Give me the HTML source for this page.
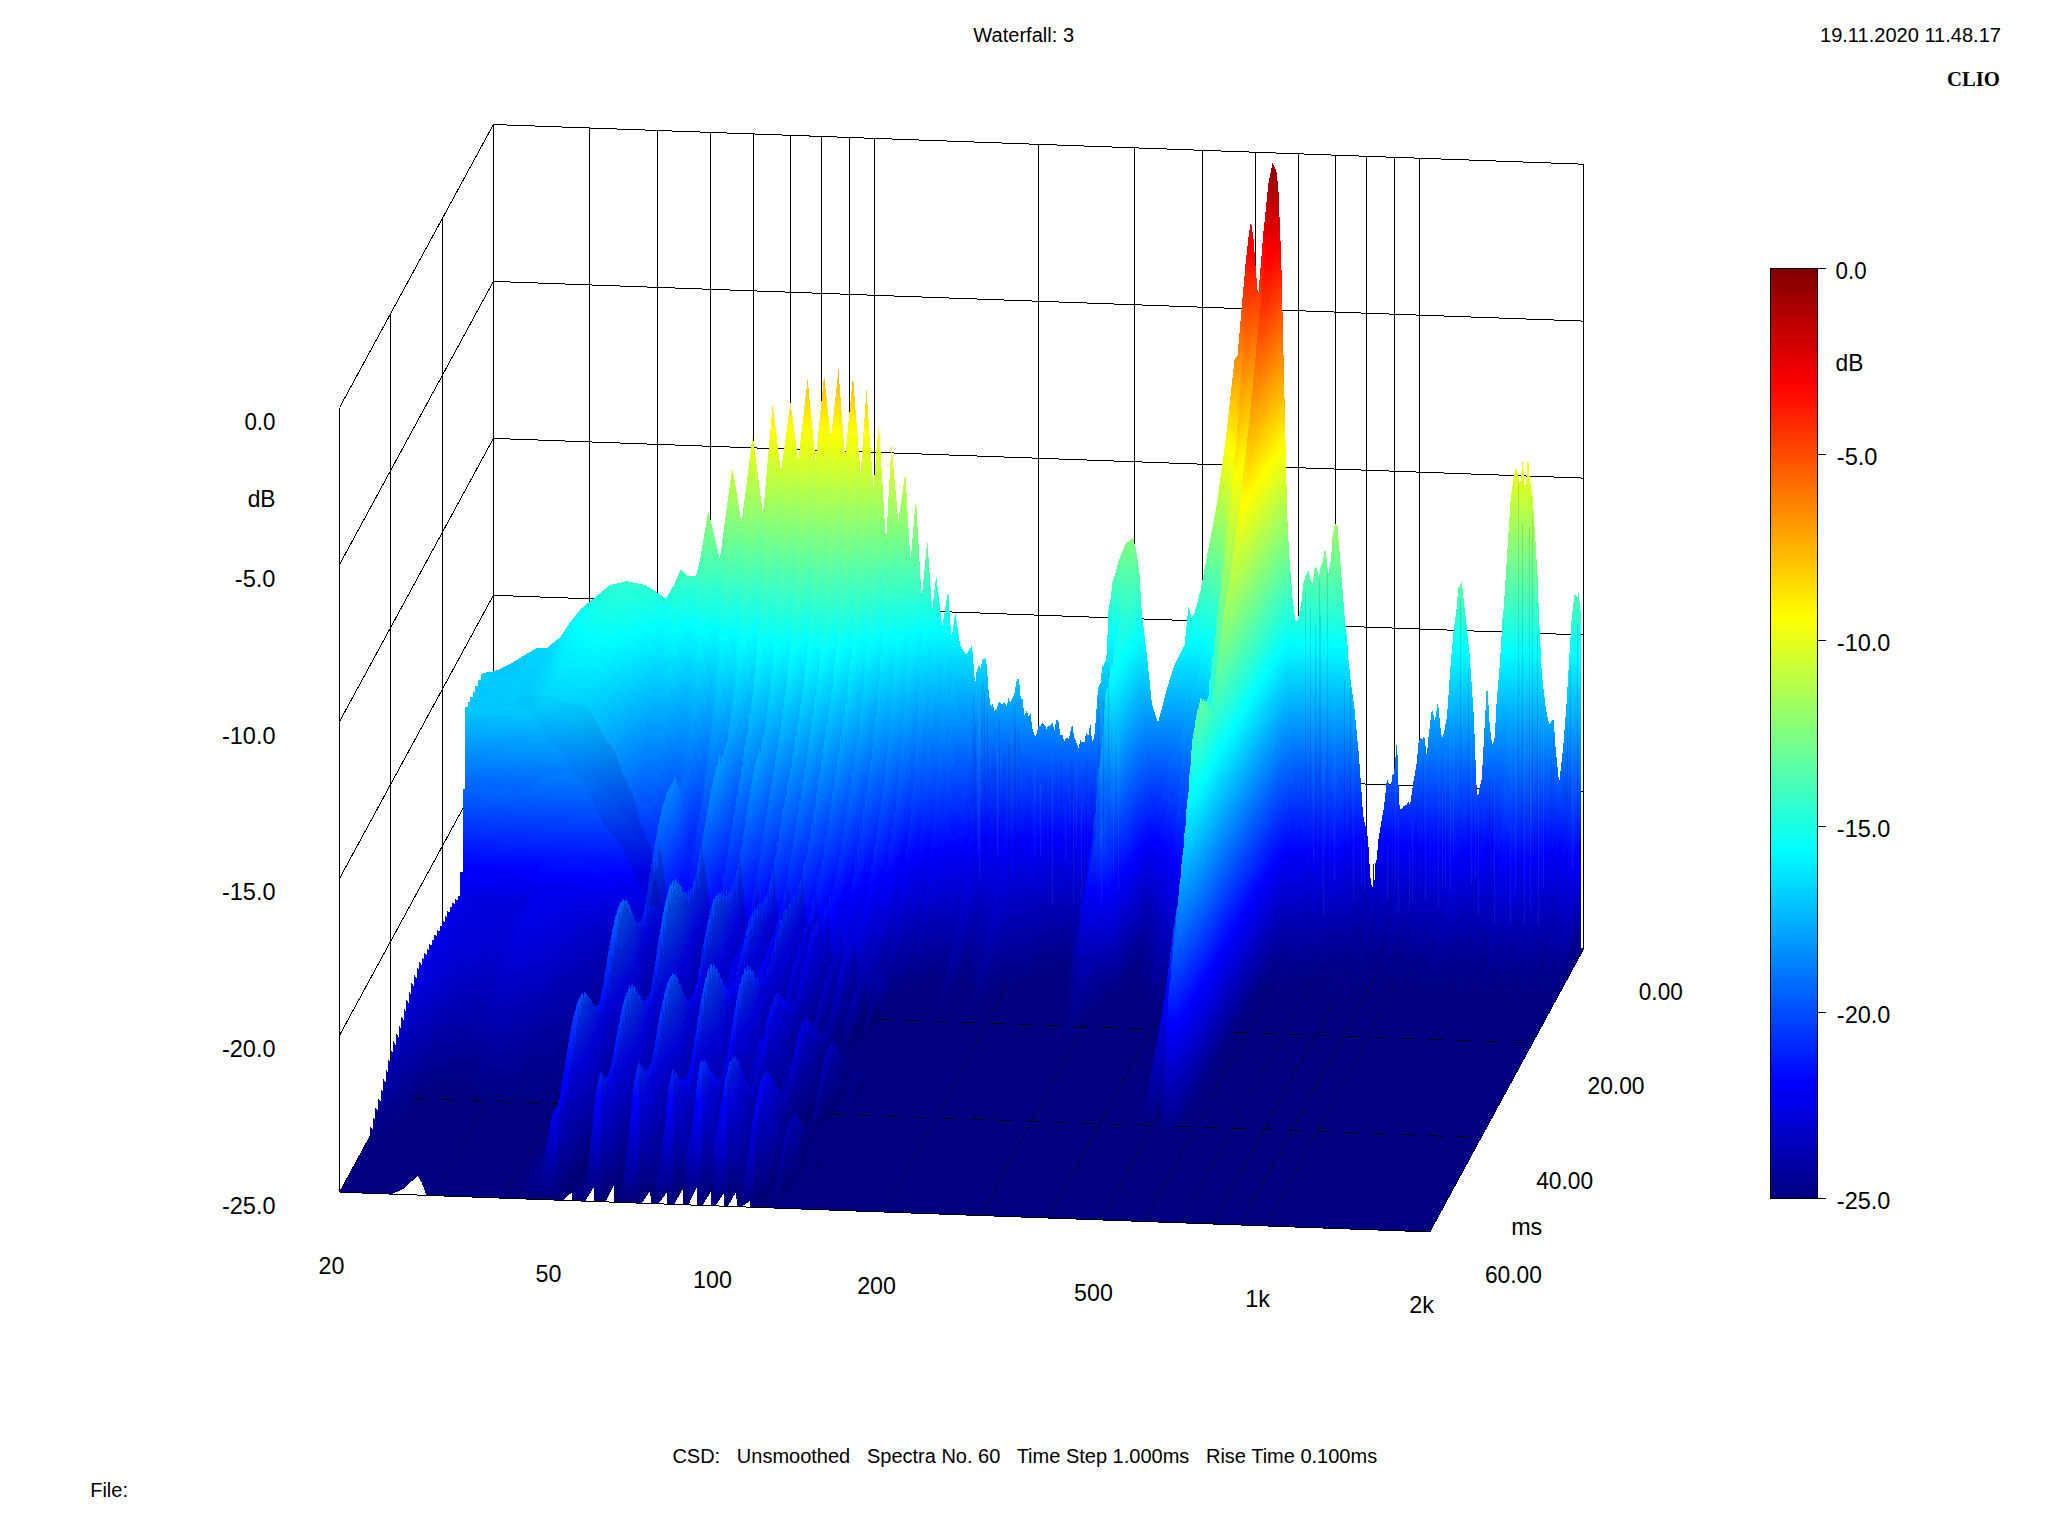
<!DOCTYPE html>
<html lang="en"><head><meta charset="utf-8"><title>Waterfall: 3</title>
<style>html,body{margin:0;padding:0;background:#fff;overflow:hidden}svg{display:block}.s{font-family:"Liberation Sans",sans-serif;font-size:20px;fill:#000}.a{font-family:"Liberation Sans",sans-serif;font-size:24px;fill:#000}.c{font-family:"Liberation Serif",serif;font-weight:bold;font-size:20.5px;fill:#000}.g line,.g path,.g polyline{stroke:#000;stroke-width:1;fill:none;shape-rendering:crispEdges}</style></head><body>
<svg width="2048" height="1536" viewBox="0 0 2048 1536">
<rect width="2048" height="1536" fill="#fff"/>
<defs>
<linearGradient id="j" gradientUnits="userSpaceOnUse" x1="0" y1="0" x2="28.54" y2="-783.71"><stop offset="0.000" stop-color="#000080"/><stop offset="0.125" stop-color="#0000ff"/><stop offset="0.375" stop-color="#00ffff"/><stop offset="0.625" stop-color="#ffff00"/><stop offset="0.875" stop-color="#ff0000"/><stop offset="1.000" stop-color="#800000"/></linearGradient>
<linearGradient id="cb" x1="0" y1="1" x2="0" y2="0"><stop offset="0.000" stop-color="#000080"/><stop offset="0.125" stop-color="#0000ff"/><stop offset="0.375" stop-color="#00ffff"/><stop offset="0.625" stop-color="#ffff00"/><stop offset="0.875" stop-color="#ff0000"/><stop offset="1.000" stop-color="#800000"/></linearGradient>
</defs>
<g class="g">
<path d="M493.4,124.5L493.4,909.2M589.4,127.9L589.4,912.7M657.5,130.4L657.5,915.2M710.3,132.3L710.3,917.1M753.5,133.9L753.5,918.7M790.0,135.2L790.0,920.0M821.6,136.4L821.6,921.2M849.5,137.4L849.5,922.2M874.4,138.3L874.4,923.1M1038.5,144.3L1038.5,929.1M1134.5,147.8L1134.5,932.5M1202.6,150.3L1202.6,935.0M1255.4,152.2L1255.4,936.9M1298.6,153.8L1298.6,938.5M1335.1,155.1L1335.1,939.8M1366.7,156.3L1366.7,941.0M1394.6,157.3L1394.6,942.0M1419.5,158.2L1419.5,942.9M1583.6,164.2L1583.6,948.9M493.4,124.5L1583.6,164.2M493.4,281.4L1583.6,321.1M493.4,438.4L1583.6,478.1M493.4,595.3L1583.6,635.0M493.4,752.2L1583.6,792.0M493.4,909.2L1583.6,948.9M442.1,218.8L442.1,1003.5M390.9,313.1L390.9,1097.9M339.6,407.5L339.6,1192.2M493.4,124.5L339.6,407.5M493.4,281.4L339.6,564.4M493.4,438.4L339.6,721.4M493.4,595.3L339.6,878.3M493.4,752.2L339.6,1035.2M493.4,909.2L339.6,1192.2M339.6,1192.2L1429.8,1231.9L1583.6,948.9"/>
</g>
<path d="M493.4,909.2L1583.6,948.9L1429.8,1231.9L339.6,1192.2Z" fill="#000080" shape-rendering="crispEdges"/>
<g shape-rendering="crispEdges" fill="url(#j)">
<path transform="translate(493.40,909.20)" d="M0,0L0,-236.7L19,-246.6L43.9,-261.6L52.9,-260.7L66.8,-272L76.8,-286.9L87.8,-300.6L116.7,-324.2L133.6,-328.1L151.6,-324.2L163.6,-317L172.5,-310.5L180.5,-324.1L187.5,-340.3L194.5,-333.2L202.5,-333.2L206.5,-348.6L214.4,-396.2L215.4,-396.7L226.4,-350L238.4,-438.6L239.4,-439.7L247.4,-390.1L248.3,-387.4L259.3,-474.6L269.3,-396.6L270.3,-402.1L279.3,-505.4L287.2,-440.2L288.2,-441.9L297.2,-506.8L304.2,-452.6L305.2,-451.5L314.2,-530.1L322.2,-448.4L330.1,-527.9L331.1,-529.9L337.1,-475.6L338.1,-476L345.1,-538.8L351.1,-457.9L352.1,-455.7L359.1,-528.2L360.1,-525.8L367,-437.5L368,-445.2L373,-519.9L380,-420.5L385,-481.9L386,-477.1L392,-376.7L393,-373.1L398,-464.8L404.9,-387.9L411.9,-436.7L416.9,-350.8L417.9,-356.9L421.9,-404.8L422.9,-405.1L427.9,-316L428.9,-317.2L433.9,-369.2L438.8,-298.3L442.8,-334.4L448.8,-282.6L454.8,-318.9L457.8,-273.7L458.8,-274.5L461.8,-297.2L466.8,-263.9L472.8,-254.4L478.7,-264.2L481.7,-223.8L482.7,-235.5L483.7,-239.8L484.7,-241.1L485.7,-245L486.7,-241.1L487.7,-242.5L488.7,-248.3L490.7,-251.1L491.7,-251.5L492.7,-248.4L493.7,-240.7L494.7,-222.8L496.7,-206.9L497.7,-201.5L498.7,-206.1L499.7,-204.9L500.7,-197.9L501.7,-199.7L502.7,-199.4L503.7,-201.2L504.7,-205.7L505.7,-207.6L509.7,-204.4L510.7,-207.9L511.7,-207.3L512.7,-203.2L513.7,-202.6L514.6,-209.9L515.6,-212.1L516.6,-205.5L521.6,-217L522.6,-227.5L524.6,-231L525.6,-230.1L527.6,-207.2L528.6,-212.5L529.6,-208L530.6,-195L531.6,-193.4L532.6,-199.1L535.6,-192.5L536.6,-196.3L537.6,-193.5L538.6,-182L541.6,-172.8L543.6,-175.9L544.6,-183L545.6,-184L546.6,-182.5L549.6,-187.1L550.6,-183.9L551.6,-184.9L552.6,-180.8L553.5,-180.6L554.5,-182.8L555.5,-182.7L556.5,-184.3L557.5,-184.2L558.5,-186.6L559.5,-186.5L560.5,-179.3L561.5,-179.2L562.5,-189.6L563.5,-189.5L564.5,-188.5L565.5,-186.2L566.5,-175.8L567.5,-173.5L568.5,-175.2L569.5,-173L570.5,-167.8L571.5,-167.9L572.5,-171.5L573.5,-171.8L574.5,-170.2L575.5,-170.5L578.5,-184.2L579.5,-182.7L580.5,-172.7L585.5,-160.5L586.5,-168.4L587.5,-170.1L588.5,-166L589.5,-167.7L590.5,-166.4L591.4,-168.2L592.4,-175.4L593.4,-175.9L594.4,-173.6L595.4,-174.1L596.4,-183.7L597.4,-183.9L598.4,-169.5L599.4,-167.5L601.4,-176.2L604.4,-217.8L605.4,-223.9L606.4,-223.8L607.4,-227.5L608.4,-240.1L609.4,-243.8L610.4,-243.4L611.4,-247.9L612.4,-247.9L613.4,-256.8L615.4,-306.3L616.4,-304.4L619.4,-329.1L620.4,-330.2L625.4,-348.8L631.3,-363.5L632.3,-365.2L639.3,-371.3L642.3,-361.8L646.3,-334.1L648.3,-296.4L652.3,-265.3L658.3,-207.9L659.3,-202.3L664.3,-188.2L665.3,-188.5L673.2,-219.8L681.2,-244.3L691.2,-264.8L695.2,-303L698.2,-291.3L701.2,-296.4L707.1,-318.5L723.1,-403.3L732.1,-467.8L741.1,-549.5L742.1,-551.3L744,-552.6L752,-643.7L755,-671.3L757,-684.8L758,-684.7L760,-672.1L764,-619.1L765,-615.4L770,-676.7L775,-725.3L779,-745.9L782.9,-738.7L784.9,-722.1L787.9,-648.7L793.9,-391.9L795.9,-353L798.9,-313.3L800.9,-296.4L801.9,-289.9L802.9,-287.9L803.9,-287.8L807.9,-306.7L809.9,-325.1L811.9,-332.2L814.9,-339.5L817.9,-327.4L818.9,-325.2L819.8,-328.2L820.8,-339.4L821.8,-342.4L822.8,-340.9L823.8,-340.5L824.8,-333L825.8,-332.6L826.8,-340.5L827.8,-344.7L828.8,-345.8L831.8,-361.4L834.8,-334.9L837.8,-351.1L838.8,-370.4L839.8,-376.3L841.8,-385.6L842.8,-382.9L843.8,-387.3L851.8,-285.6L853.8,-269.9L854.8,-252.7L857.7,-224.8L860.7,-204.3L865.7,-151.6L869.7,-93.9L871.7,-83.8L872.7,-82.2L873.7,-77.2L874.7,-68.5L876.7,-35.8L877.7,-25.3L878.7,-23L879.7,-21.8L881.7,-21.6L884.7,-68L890.7,-103.1L893.7,-131.2L895.6,-123.8L896.6,-124.8L897.6,-122.6L898.6,-131.9L899.6,-136.2L900.6,-134L903.6,-169.9L905.6,-109.5L906.6,-99.6L908.6,-100.9L910.6,-103.6L911.6,-103.2L912.6,-105.4L913.6,-103.7L914.6,-107.8L916.6,-103.9L919.6,-125.1L923.6,-147.8L924.6,-162.8L925.6,-169.4L926.6,-169.9L927.6,-172L928.6,-169.2L930.6,-173.4L931.6,-169L932.6,-157.4L933.6,-153L934.5,-166.5L938.5,-200.7L941.5,-187.9L944.5,-207.5L947.5,-177.6L948.5,-171.3L949.5,-173.2L951.5,-180.6L952.5,-188.3L953.5,-191.3L957.5,-248.7L960.5,-281.2L963.5,-302.4L964.5,-317.7L965.5,-324.5L966.5,-321.4L967.5,-328.2L968.5,-326.3L976.4,-253.3L980.4,-193.4L983.4,-117.3L984.4,-113.1L985.4,-115.6L986.4,-122.9L988.4,-130.5L993.4,-223.5L994.4,-215.6L996.4,-182.7L998.4,-167.1L999.4,-163.8L1001.4,-172.4L1003.4,-210.4L1006.4,-244.1L1009.4,-295.8L1010.3,-300.4L1017.3,-411.1L1020.3,-431.9L1022.3,-440L1023.3,-441.1L1026.3,-426.7L1027.3,-429.1L1029.3,-450.4L1031.3,-421.9L1032.3,-425L1033.3,-432.5L1034.3,-449.9L1035.3,-444.9L1036.3,-431.1L1039.3,-412.1L1044.3,-331.8L1045.3,-300.6L1048.2,-239.8L1049.2,-228.4L1052.2,-202.2L1054.2,-191.3L1056.2,-185L1059.2,-189.4L1060.2,-189.6L1062.2,-161.3L1065.2,-130.8L1066.2,-129.1L1070.2,-166.6L1073.2,-206.9L1078.2,-290.8L1081.2,-315.3L1084.2,-311.7L1085.2,-317.1L1087.1,-299.1L1087.1,39.6Z"/>
<path transform="translate(490.84,913.92)" d="M0,0L0,-241.4L19.9,-249.1L32.9,-255L43.9,-261.2L52.9,-260L66.8,-270.8L76.8,-285.3L87.8,-298L116.7,-318.9L133.6,-320.9L151.6,-314.2L164.6,-304.3L172.5,-296.1L180.5,-306.3L187.5,-319.7L190.5,-315.5L194.5,-308.2L202.5,-302.2L206.5,-313.6L214.4,-350.5L215.4,-350.5L226.4,-303.3L238.4,-385.2L239.4,-386.2L247.4,-338L248.3,-335.4L259.3,-420.4L269.3,-340.9L270.3,-346L279.3,-447.4L287.2,-380.5L288.2,-382L297.2,-447.4L304.2,-390.6L305.2,-389.1L314.2,-468.4L322.2,-383L330.1,-465L331.1,-467L337.1,-410.7L338.1,-411L345.1,-475.7L351.1,-392.9L352.1,-390.6L359.1,-465.3L360.1,-462.9L367,-373.1L368,-380.9L373,-457L380,-357L385,-419.2L386,-414.4L392,-313.1L393,-309.6L398,-401.9L404.9,-323L411.9,-374.3L416.9,-288.8L417.9,-294.8L421.9,-342.7L422.9,-342.9L427.9,-253.2L428.9,-254.5L433.9,-307.8L438.8,-238.4L442.8,-274.7L448.8,-215.4L452.8,-246.7L453.8,-253.3L454.8,-256.2L457.8,-215.1L458.8,-217.1L461.8,-236.1L462.8,-236L466.8,-202.6L467.8,-200.5L468.8,-201.2L469.8,-199.6L470.8,-195.4L471.8,-194L472.8,-194.2L473.8,-196.3L474.8,-190.1L475.8,-192L476.7,-200.3L477.7,-202.2L478.7,-201.2L482.7,-149.5L483.7,-152.2L484.7,-176.7L485.7,-179.9L487.7,-182.9L488.7,-191.5L489.7,-193L490.7,-168.4L491.7,-168.5L492.7,-182.3L493.7,-174.6L494.7,-158.1L497.7,-134.6L498.7,-116.3L499.7,-114.9L500.7,-128.5L501.7,-130.3L502.7,-140.1L503.7,-142L504.7,-126.5L505.7,-128.4L506.7,-162.8L507.7,-162.3L508.7,-157.3L509.7,-156.8L510.7,-162.8L511.7,-162.3L512.7,-139.2L513.7,-138.7L514.6,-130.5L515.6,-132.8L516.6,-151.8L517.6,-154.1L518.6,-152.5L519.6,-154.9L520.6,-183L521.6,-185.4L522.6,-166.7L523.6,-169.1L524.6,-158.2L525.6,-157.4L526.6,-167.7L529.6,-150.8L530.6,-137.5L531.6,-136L532.6,-125.4L533.6,-123.9L534.6,-135.9L535.6,-134.4L536.6,-128.4L537.6,-125.7L538.6,-130.2L539.6,-127.5L540.6,-116.5L541.6,-113.8L542.6,-130.4L545.6,-132.6L546.6,-119.7L547.6,-120.5L548.6,-131.3L549.6,-132.1L550.6,-129.1L551.6,-129.8L552.6,-116.3L553.5,-116L554.5,-122.9L555.5,-122.5L556.5,-99.1L557.5,-98.7L558.5,-126.7L559.5,-126.4L560.5,-124.7L561.5,-124.3L562.5,-101.8L563.5,-101.4L564.5,-104.3L565.5,-101.8L566.5,-108.9L567.5,-106.4L568.5,-118.6L569.5,-116.1L570.5,-108.9L571.5,-108.8L572.5,-110.8L573.5,-110.9L574.5,-85.4L575.5,-85.6L577.5,-93.7L578.5,-125.7L579.5,-124.1L580.5,-115.9L582.5,-110.6L583.5,-108L584.5,-109.8L585.5,-107.3L586.5,-86.6L587.5,-88.1L588.5,-100.5L589.5,-102L590.5,-111.2L591.4,-112.7L592.4,-126.4L593.4,-126.7L594.4,-93.7L595.4,-94L596.4,-114.9L597.4,-114.9L598.4,-102.8L599.4,-100.6L601.4,-108.7L603.4,-135.3L604.4,-129.9L605.4,-134.8L606.4,-154.9L607.4,-157.5L608.4,-153.9L609.4,-156.5L610.4,-165.7L612.4,-170.8L613.4,-178.8L615.4,-215.1L616.4,-196.2L617.4,-203.3L618.4,-218.8L621.4,-235.5L623.4,-250.6L624.4,-275.3L625.4,-281.7L626.4,-272.4L627.4,-279L628.4,-280L629.3,-287.1L631.3,-305.5L632.3,-337.6L633.3,-341.7L634.3,-326L635.3,-329.9L636.3,-326.6L637.3,-329.6L638.3,-342.3L639.3,-343.6L641.3,-335.9L643.3,-320.7L644.3,-299.5L646.3,-283L648.3,-241.8L653.3,-180L657.3,-138.8L658.3,-120.5L659.3,-113.3L664.3,-96L666.3,-96.8L667.2,-101L668.2,-110L671.2,-120.8L673.2,-132L674.2,-131.1L675.2,-134.6L676.2,-141.3L679.2,-152.5L680.2,-161.5L681.2,-165L682.2,-157.1L686.2,-169.7L689.2,-175.8L691.2,-182.1L695.2,-226.8L697.2,-217.9L698.2,-209.3L699.2,-210.9L700.2,-222.2L701.2,-223.9L702.2,-223.8L705.1,-232.6L706.1,-229.6L707.1,-233.5L708.1,-244.5L711.1,-258.3L712.1,-258.6L714.1,-269.2L715.1,-285.3L716.1,-290.6L717.1,-290.7L722.1,-319.9L724.1,-334.8L725.1,-336.2L728.1,-360.6L731.1,-375.8L732.1,-383.6L738.1,-461.6L739.1,-469.3L741.1,-499.9L742.1,-502.8L744,-495.5L745,-508.2L747,-517.6L749,-533L753,-579.9L755,-616.6L757,-636.6L758,-637L759,-631L760,-617.9L764,-536.4L765,-526.2L767,-542.9L770,-578.1L775,-665.7L777,-688.5L779,-699.3L781,-693.8L782.9,-683.9L784.9,-645.5L787.9,-548.5L793.9,-277.6L795.9,-227.5L800.9,-147.9L801.9,-138.8L802.9,-138.6L803.9,-135.6L804.9,-124.4L805.9,-122.3L806.9,-133.4L807.9,-132.9L808.9,-126.9L809.9,-129.8L810.9,-116.6L811.9,-116.5L812.9,-144.2L813.9,-145.5L814.9,-126L815.9,-124L816.9,-129.5L817.9,-127.6L819.8,-130.5L820.8,-138.6L821.8,-139.9L822.8,-149.5L823.8,-149.4L824.8,-125.4L825.8,-125.1L826.8,-120.6L827.8,-122.4L828.8,-140.5L829.8,-143.1L830.8,-143.1L831.8,-145.8L834.8,-128.4L835.8,-130.7L836.8,-139.3L837.8,-142.3L838.8,-110.4L839.8,-112.8L840.8,-145.4L843.8,-151.2L844.8,-159L845.8,-153.6L846.8,-137.7L849.8,-112.8L850.8,-126.3L851.8,-120.3L852.8,-88.2L853.8,-83.4L854.8,-103.9L855.8,-100L856.8,-108.5L857.7,-104.8L858.7,-78.7L859.7,-74.7L860.7,-62.4L861.7,-57.9L862.7,-62.1L863.7,-57.6L864.7,-37.1L865.7,-32.3L866.7,-74.5L867.7,-68.6L868.7,-40L869.7,-34.2L870.7,-0.2L871.7,2.4L872.7,-23.1L873.7,-20.8L875.7,0.2L876.7,-4L877.7,0.7L878.7,20.4L879.7,21L880.7,8.3L881.7,8.3L882.7,-28.1L883.7,-33.7L884.7,-51.5L885.7,-54.4L886.7,-1.3L887.7,-4.5L888.7,-31.3L891.7,-42.4L892.7,-35.3L893.7,-38.6L894.7,-35.7L895.6,-34.6L896.6,-48.5L897.6,-47.5L898.6,23.2L899.6,21.3L900.6,-36.9L901.6,-40.6L902.6,-29.5L903.6,-34.4L904.6,-30.7L905.6,-18.6L907.6,-19.8L908.6,-14.6L909.6,-15L910.6,-43.4L911.6,-43.2L912.6,-58.5L913.6,-57.7L914.6,29L915.6,29.7L916.6,-9.9L917.6,-13L918.6,-43.6L919.6,-46.7L920.6,-28.9L921.6,-31.8L922.6,-50.6L923.6,-53.5L924.6,-30.7L926.6,-39.4L927.6,-40.3L928.6,-60.9L929.6,-61.8L930.6,-93.3L931.6,-91.4L932.6,-51.5L934.5,-46.7L937.5,-61.9L938.5,-80.6L939.5,-78.8L940.5,-81.8L941.5,-79.6L943.5,-84.6L944.5,-72.7L945.5,-69L946.5,-67.9L947.5,-63.7L948.5,-27.9L949.5,-28.7L950.5,-74.5L951.5,-75.8L952.5,-75.4L953.5,-76.7L954.5,-46.7L955.5,-54.2L956.5,-112.1L957.5,-119L958.5,-91L959.5,-95.4L960.5,-128.1L963.5,-139.4L964.5,-126L965.5,-129.1L966.5,-145.4L967.5,-148.5L968.5,-120.6L971.5,-105.4L972.4,-106.7L973.4,-103.1L974.4,-124.3L975.4,-120.7L976.4,-77.4L977.4,-70.6L978.4,-85.4L979.4,-78.7L980.4,-52.3L981.4,-43.4L982.4,-85.7L983.4,-72.2L984.4,-42.8L985.4,-43.9L986.4,-39.1L987.4,-40.3L988.4,-18.4L989.4,-26.7L990.4,-71.8L991.4,-81.8L992.4,-104.9L993.4,-111.8L994.4,-78L995.4,-70.5L996.4,-36L997.4,-33.2L998.4,-82.4L999.4,-80.9L1000.4,-66.8L1001.4,-68.1L1002.4,-11.7L1003.4,-20.7L1004.4,-78.8L1007.4,-99.1L1008.4,-81.6L1009.4,-88.6L1010.3,-126.7L1011.3,-133.2L1012.3,-118.6L1013.3,-125.2L1014.3,-156.1L1015.3,-162.7L1016.3,-183.2L1017.3,-189.3L1018.3,-183.8L1019.3,-185.6L1020.3,-157.9L1021.3,-159.7L1022.3,-157.7L1023.3,-158.2L1025.3,-152.1L1026.3,-154.8L1027.3,-155.9L1028.3,-215.8L1029.3,-222.1L1030.3,-173.9L1031.3,-168.2L1032.3,-167.4L1033.3,-170.8L1035.3,-165L1036.3,-165.8L1037.3,-163.4L1038.3,-168L1039.3,-165.6L1040.3,-123.9L1041.3,-114.9L1042.3,-166.6L1043.3,-161L1044.3,-128.7L1045.3,-114.6L1047.3,-98.8L1048.2,-78L1049.2,-72.9L1050.2,-94L1051.2,-89.1L1052.2,-71.2L1053.2,-68.2L1054.2,-42.3L1055.2,-40.9L1056.2,-75.7L1057.2,-76.3L1058.2,-61.6L1059.2,-62.2L1060.2,-79.2L1061.2,-74.1L1062.2,-74.6L1063.2,-69.4L1064.2,-8.7L1065.2,-4.2L1066.2,-16.9L1067.2,-21.4L1068.2,-52.4L1070.2,-61L1071.2,-43.6L1072.2,-47.8L1073.2,-105.9L1074.2,-114.8L1075.2,-102.6L1076.2,-111.2L1077.2,-93L1078.2,-99.2L1079.2,-99.5L1080.2,-103.8L1081.2,-128L1082.2,-127.4L1083.2,-144.1L1084.2,-143.5L1085.2,-125.2L1086.2,-121.7L1087.1,-86.5L1087.1,39.6Z"/>
<path transform="translate(488.27,918.63)" d="M0,0L0,-246.1L19,-250.6L31.9,-254.6L43.9,-260.8L52.9,-259.3L66.8,-269.6L76.8,-283.7L87.8,-295.4L116.7,-313.7L127.7,-314.1L133.6,-313.6L151.6,-304.2L167.6,-289.2L172.5,-281.6L180.5,-288.6L187.5,-299.1L190.5,-293.7L194.5,-283.8L202.5,-272.7L206.5,-281L214.4,-311.4L215.4,-311L226.4,-262.2L238.4,-341.5L239.4,-342.4L247.4,-293.5L248.3,-290.9L259.3,-375.5L269.3,-293.8L270.3,-298.7L279.3,-400.4L287.2,-331.1L288.2,-332.5L297.2,-399.3L304.2,-339.8L305.2,-338L314.2,-418.9L322.2,-330L330.1,-414.7L331.1,-416.7L337.1,-358.5L338.1,-358.7L345.1,-425.5L351.1,-340.6L352.1,-338.2L359.1,-415.1L360.1,-412.7L367,-321.3L368,-329.3L373,-407L380,-306.1L385,-369.4L386,-364.5L392,-262.1L393,-258.7L398,-351.8L404.9,-270.8L411.9,-324.7L412.9,-313.7L416.9,-239.4L417.9,-245.4L421.9,-293.3L422.9,-293.4L427.9,-203L428.9,-204.4L433.9,-259L434.9,-250.2L438.8,-190.2L442.8,-227L448.8,-169.8L453.8,-210.3L454.8,-211.1L457.8,-169.8L458.8,-173.9L461.8,-195.3L465.8,-169.1L466.8,-151.9L467.8,-149.8L468.8,-156.5L471.8,-152.6L473.8,-158.4L474.8,-148L475.8,-150.1L476.7,-156.3L478.7,-161.1L481.7,-119.8L482.7,-114.2L483.7,-117.4L484.7,-135.2L486.7,-145.5L489.7,-150.5L490.7,-136.7L491.7,-137.1L492.7,-145.1L496.7,-102.3L498.7,-92.7L499.7,-91.7L501.7,-95.1L502.7,-102.2L503.7,-104.3L504.7,-101.7L505.7,-103.7L506.7,-116.4L507.7,-116L508.7,-116.7L511.7,-115.3L512.7,-97.9L513.7,-97.5L514.6,-98.1L515.6,-100.6L516.6,-108.7L517.6,-111.1L518.6,-126L519.6,-128.5L520.6,-127.8L523.6,-135.4L524.6,-121.6L525.6,-120.9L526.6,-130L527.6,-122.6L529.6,-113.7L530.6,-103.6L531.6,-102.3L532.6,-98.6L533.6,-97.3L534.6,-107.1L535.6,-105.8L536.6,-86.1L537.6,-83.6L538.6,-98.6L539.6,-96.1L540.6,-80.7L541.6,-78.1L542.6,-88.4L543.6,-89.6L544.6,-98.7L545.6,-99.6L546.6,-86.3L547.6,-86.9L548.6,-100.5L549.6,-101.1L550.6,-106.3L551.6,-107L552.6,-85.2L553.5,-84.8L554.5,-95.4L555.5,-94.9L556.5,-74L557.5,-73.5L558.5,-93.4L559.5,-93L560.5,-80.3L561.5,-79.8L562.5,-57.5L564.5,-56.6L565.5,-54L566.5,-82.6L567.5,-80.1L568.5,-86.2L569.5,-83.6L570.5,-64.3L571.5,-64L572.5,-78.3L573.5,-78.3L574.5,-59.5L575.5,-59.5L576.5,-48.2L577.5,-52.4L578.5,-90.7L579.5,-88.9L582.5,-72.1L583.5,-69.4L584.5,-71L585.5,-68.4L586.5,-41.8L587.5,-43.2L588.5,-60.9L589.5,-62.3L590.5,-82L591.4,-83.3L592.4,-105.3L593.4,-105.5L594.4,-54.8L595.4,-55L596.4,-80.8L597.4,-80.7L598.4,-65.7L599.4,-63.3L601.4,-69.8L603.4,-99.7L604.4,-78.6L605.4,-83.5L606.4,-103.9L607.4,-106.5L608.4,-127.5L609.4,-130.2L610.4,-105.5L611.4,-109L613.4,-132.9L615.4,-175.3L616.4,-168.3L619.4,-185.3L620.4,-209.1L621.4,-214.4L622.4,-205.2L623.4,-212.8L624.4,-252.7L625.4,-259.9L626.4,-252.2L627.4,-259.7L628.4,-254.7L631.3,-275.8L632.3,-316.9L633.3,-321.8L634.3,-298.2L635.3,-303L636.3,-316L637.3,-319.1L640.3,-323.3L643.3,-302.4L644.3,-277.4L646.3,-259.7L647.3,-236.8L652.3,-161.2L653.3,-147.5L654.3,-142.9L658.3,-86.5L659.3,-78.7L663.3,-60.5L664.3,-58.7L666.3,-59.1L671.2,-80L672.2,-89.2L673.2,-93.2L674.2,-92L676.2,-100.8L679.2,-108.8L680.2,-119.9L681.2,-123.1L682.2,-117.2L683.2,-119.3L684.2,-119.2L689.2,-131.2L691.2,-134.3L695.2,-180.3L697.2,-173.2L698.2,-161.7L699.2,-163L700.2,-173.2L701.2,-174.6L703.2,-183.3L704.2,-181.5L705.1,-184.8L706.1,-181.9L707.1,-185.4L708.1,-196.4L711.1,-209.7L712.1,-207.1L714.1,-217L715.1,-227L717.1,-238.4L722.1,-261L723.1,-270.9L724.1,-277.5L725.1,-279.2L732.1,-329.1L739.1,-422.8L741.1,-457L742.1,-460.5L743.1,-459.2L744,-454.8L745,-461.6L746,-463.4L747,-464.1L749,-470.9L751,-492.5L755,-573.7L757,-597.3L758,-598.6L759,-594L760,-579L764,-483.9L765,-472L767,-486.1L770,-526.8L775,-638.8L777,-664.4L779,-675.7L781,-670.6L782.9,-662.1L784.9,-617.1L787.9,-505.2L792.9,-261.6L795.9,-172.7L799.9,-111.6L801.9,-95.4L804.9,-81.8L805.9,-80.6L806.9,-91.2L807.9,-91.2L809.9,-98.4L810.9,-75.9L811.9,-75.4L812.9,-100.6L813.9,-101.4L814.9,-89.4L815.9,-87.8L816.9,-101L817.9,-99.6L818.9,-86L819.8,-86.9L820.8,-97.1L821.8,-98.1L822.8,-107.6L823.8,-107.5L824.8,-74.7L826.8,-74.9L827.8,-76.2L828.8,-87.8L829.8,-89.7L830.8,-111.7L831.8,-113.7L832.8,-87L833.8,-83.6L834.8,-93.1L835.8,-94.8L836.8,-110.8L837.8,-113.1L838.8,-68.9L839.8,-70.7L840.8,-85.7L841.8,-87.5L842.8,-94.2L843.8,-95.5L844.8,-103.8L845.8,-99.9L846.8,-87.9L848.8,-78.1L849.8,-73.6L850.8,-77L851.8,-72.4L852.8,-54.3L855.8,-45.2L856.8,-48.3L859.7,-35.5L860.7,-38.5L861.7,-35.2L862.7,-25.5L865.7,-17L866.7,-25.9L867.7,-21.2L868.7,-4.7L869.7,-0.2L871.7,3.6L872.7,-22.6L873.7,-20.9L875.7,-10.4L876.7,6.7L877.7,10.2L878.7,26.8L879.7,27.2L880.7,8.1L881.7,8.1L883.7,0.2L884.7,-54L885.7,-56.1L886.7,2.8L887.7,0.4L888.7,-12.3L889.7,-15.1L890.7,-23L891.7,-25.6L892.7,-45.8L893.7,-48.2L894.7,-5.7L895.6,-4.8L896.6,-37.6L897.6,-36.8L898.6,31.7L899.6,30.3L900.6,-9.3L901.6,-12.1L902.6,-32.2L903.6,-35.7L904.6,-35.8L905.6,-26.9L906.6,-23.3L907.6,-23.6L908.6,-11.9L909.6,-12.2L910.6,-23.4L911.6,-23.3L912.6,-34.8L913.6,-34.2L914.6,31.9L915.6,32.5L916.6,-14.2L919.6,-21.7L920.6,-15.9L921.6,-18L922.6,-28.2L923.6,-30.3L924.6,-7.6L925.6,-9.7L926.6,-39.1L929.6,-41.3L930.6,-59L931.6,-57.6L932.6,-36.1L933.6,-34.6L934.5,-44.9L935.5,-48L936.5,-37.5L937.5,-40.6L938.5,-34L939.5,-32.7L940.5,-53.8L941.5,-52.1L942.5,-41L943.5,-43.1L944.5,-51.3L945.5,-48.6L946.5,-53.9L947.5,-50.8L948.5,-19.1L949.5,-19.7L950.5,-49.4L951.5,-50.3L952.5,-30.9L953.5,-31.8L954.5,-9.9L955.5,-15.4L956.5,-55.9L957.5,-61L958.5,-34.1L959.5,-37.3L960.5,-95.9L961.5,-98.7L962.5,-109.2L963.5,-111.5L964.5,-68.3L965.5,-70.5L966.5,-88.2L967.5,-90.4L968.5,-79.3L969.5,-75.6L970.5,-86.6L971.5,-83.6L972.4,-60L975.4,-52.3L976.4,-60.1L977.4,-55.1L978.4,-38.2L979.4,-33.2L980.4,-17.9L981.4,-11.3L982.4,-40.5L984.4,-17.2L985.4,-18L986.4,-5.2L987.4,-6L988.4,10.4L989.4,4.3L990.4,-28.7L991.4,-36L992.4,-69.7L993.4,-74.7L995.4,-60.7L996.4,-19.4L997.4,-17.4L998.4,-27.9L999.4,-26.7L1000.4,-50.2L1001.4,-51.2L1002.4,-12L1003.4,-18.5L1004.4,-52.5L1005.4,-56.4L1006.4,-44.5L1007.4,-49.3L1008.4,-42.8L1009.4,-47.9L1010.3,-84.9L1011.3,-89.7L1012.3,-65.4L1013.3,-70.2L1014.3,-97.1L1015.3,-101.9L1016.3,-133.3L1017.3,-137.7L1018.3,-125.3L1019.3,-126.6L1020.3,-117.3L1021.3,-118.6L1022.3,-91.9L1023.3,-92.3L1024.3,-99.9L1025.3,-98.1L1026.3,-87.8L1027.3,-88.6L1028.3,-141.9L1029.3,-146.5L1030.3,-124.7L1031.3,-120.5L1032.3,-77.3L1033.3,-79.8L1034.3,-105.2L1035.3,-103.5L1036.3,-92.9L1037.3,-91.2L1038.3,-110.5L1039.3,-108.8L1041.3,-92.3L1042.3,-136.4L1043.3,-132.3L1044.3,-93.8L1045.3,-83.5L1046.3,-22.4L1047.3,-15.9L1048.2,-70.2L1049.2,-66.4L1050.2,-69.4L1051.2,-65.8L1052.2,-78.4L1053.2,-76.1L1054.2,-21.4L1055.2,-20.3L1056.2,-46.6L1057.2,-47.1L1058.2,-32.1L1059.2,-32.6L1060.2,-40.9L1061.2,-37.1L1062.2,-17.2L1065.2,-2.9L1066.2,11.7L1067.2,8.5L1068.2,-19.9L1072.2,-34.9L1073.2,-54.5L1076.2,-73.6L1077.2,-44.4L1078.2,-49L1079.2,-64.8L1081.2,-72.8L1084.2,-70.7L1085.2,-123.3L1086.2,-120.7L1087.1,-35.8L1087.1,39.6Z"/>
<path transform="translate(485.71,923.35)" d="M0,0L0,-250.8L19,-252.6L31.9,-254.7L43.9,-260L52.9,-257.8L66.8,-267.1L76.8,-280.6L87.8,-291.6L116.7,-308.1L127.7,-307.8L134.6,-305.9L151.6,-294.1L167.6,-276.7L172.5,-267.8L180.5,-272.6L187.5,-281.2L190.5,-275L194.5,-263.4L202.5,-248.9L206.5,-255.1L211.4,-269L214.4,-280L215.4,-279.3L226.4,-231.2L238.4,-306.7L239.4,-307.6L247.4,-260.4L248.3,-257.8L259.3,-340.5L269.3,-259.6L270.3,-264.4L279.3,-364.3L287.2,-295.6L288.2,-296.9L297.2,-362.8L304.2,-303.4L305.2,-301.5L314.2,-381.6L322.2,-292.7L330.1,-377.1L331.1,-379.1L337.1,-320.8L338.1,-321L345.1,-387.6L351.1,-302.6L352.1,-300.3L359.1,-377.1L360.1,-374.7L367,-283.1L368,-291.1L373,-368.7L380,-267.9L385,-331.1L386,-326.3L392,-223.8L393,-220.3L398,-313.2L404.9,-232L411.9,-286.2L412.9,-275.2L416.9,-201.1L417.9,-207L421.9,-254.7L422.9,-254.7L427.9,-164.5L428.9,-165.9L433.9,-220.5L434.9,-211.9L438.8,-152.5L442.8,-188.6L448.8,-134.2L451.8,-157.2L454.8,-175.1L457.8,-133.7L458.8,-136.6L461.8,-158.1L464.8,-140.3L466.8,-121.7L467.8,-120.1L468.8,-125.4L469.8,-124.3L470.8,-120.9L472.8,-119.1L473.8,-121.4L474.8,-121L475.8,-123.2L476.7,-120.1L477.7,-121.9L478.7,-136.4L482.7,-85.7L483.7,-89.5L484.7,-112.2L485.7,-116.5L486.7,-111L489.7,-120.5L491.7,-121.6L492.7,-124L493.7,-116.7L494.7,-94.6L497.7,-77.6L498.7,-59.3L499.7,-58.2L500.7,-63.4L501.7,-65.4L502.7,-77.9L503.7,-80L504.7,-85.9L505.7,-88L506.7,-82.6L507.7,-82.3L508.7,-72.7L509.7,-72.4L510.7,-89.9L511.7,-89.6L512.7,-77.9L514.6,-76.9L517.6,-85.7L518.6,-101.2L519.6,-103.7L520.6,-104L521.6,-106.6L522.6,-98.5L523.6,-101L524.6,-98.2L525.6,-97.6L526.6,-103.4L527.6,-96L528.6,-95.7L529.6,-91.4L530.6,-75.6L531.6,-74.3L532.6,-76.1L533.6,-74.8L534.6,-69L535.6,-67.6L536.6,-68.3L537.6,-65.8L538.6,-80.3L539.6,-77.8L540.6,-59L541.6,-56.5L542.6,-78.3L543.6,-79.6L544.6,-77.1L545.6,-78L546.6,-72.3L547.6,-72.9L548.6,-78L549.6,-78.6L550.6,-70.1L551.6,-70.7L552.6,-53.3L553.5,-52.7L554.5,-60.9L555.5,-60.4L556.5,-55.7L557.5,-55.1L558.5,-71.5L559.5,-71L560.5,-63.5L561.5,-63L562.5,-45.6L563.5,-45.1L564.5,-57L567.5,-50.3L568.5,-55.8L569.5,-53.2L570.5,-39.6L571.5,-39.3L572.5,-50.6L573.5,-50.5L574.5,-36.5L575.5,-36.4L576.5,-32.3L577.5,-36.4L578.5,-65.2L579.5,-63.3L580.5,-54.3L581.5,-51.6L582.5,-39.5L583.5,-36.8L584.5,-48.8L585.5,-46.1L586.5,-22.2L587.5,-23.6L588.5,-33.8L589.5,-35.1L590.5,-48.7L591.4,-50L592.4,-68.8L593.4,-68.9L594.4,-41.7L595.4,-41.9L596.4,-50.6L597.4,-50.4L598.4,-30.7L600.4,-25.4L601.4,-28.2L603.4,-63.7L604.4,-60.8L605.4,-65.6L606.4,-80L607.4,-82.5L608.4,-102.6L609.4,-105.2L610.4,-90.4L611.4,-93.8L612.4,-94.4L613.4,-102.4L614.4,-144.5L615.4,-161.2L616.4,-142.6L617.4,-150L618.4,-150.2L619.4,-157.5L620.4,-174.1L621.4,-179.9L622.4,-174.8L623.4,-183.4L624.4,-226.5L625.4,-234.9L626.4,-219.4L630.3,-251L631.3,-260.2L632.3,-297.8L633.3,-303.6L634.3,-278.6L635.3,-284.1L636.3,-295.9L637.3,-299.5L638.3,-307.4L639.3,-309L641.3,-299.1L642.3,-296.7L643.3,-287.5L644.3,-265.5L646.3,-244.6L650.3,-171.9L658.3,-63.8L660.3,-46.6L661.3,-42.1L662.3,-43.7L664.3,-32.6L665.3,-32.3L667.2,-38.3L669.2,-48L670.2,-46.7L671.2,-50.5L672.2,-59.8L673.2,-63.7L674.2,-63L676.2,-71.2L679.2,-79.3L680.2,-89.3L681.2,-92.3L682.2,-86.4L686.2,-96.9L691.2,-107.9L693.2,-123.6L695.2,-148.4L696.2,-147.1L698.2,-136.1L699.2,-137L700.2,-141.6L702.2,-144L703.2,-147L704.2,-144.9L705.1,-147.9L706.1,-146.3L707.1,-149.5L710.1,-170.4L711.1,-174.7L712.1,-171.8L714.1,-181L715.1,-191.2L717.1,-200.9L718.1,-205.6L719.1,-205L720.1,-209.6L721.1,-221.8L725.1,-240L732.1,-284.7L737.1,-352.2L741.1,-419.2L742.1,-422.9L744,-410L745,-416L746,-416.3L749,-427.3L751,-448.9L755,-535.1L757,-560.6L758,-562.4L759,-556.5L760,-540.8L764,-441.2L765,-428.1L767,-444.8L770,-489.4L775,-618.8L776,-632.4L779,-654.7L780,-652.7L781.9,-643.4L782.9,-643.4L783.9,-623.3L787.9,-466.8L792.9,-220.4L793.9,-181.2L795.9,-133.4L798.9,-86.1L800.9,-63L801.9,-56L803.9,-53.7L804.9,-45.9L805.9,-45L806.9,-56.4L807.9,-56.6L808.9,-55.1L809.9,-56.7L810.9,-33.6L811.9,-32.5L812.9,-61.9L813.9,-62.2L815.9,-59.2L816.9,-61L817.9,-60L818.9,-42.8L819.8,-43.4L820.8,-51.9L821.8,-52.5L822.8,-64.6L823.8,-64.6L824.8,-44.9L825.8,-44.7L826.8,-32.6L827.8,-33.4L828.8,-43.4L829.8,-44.7L830.8,-73.4L831.8,-74.8L832.8,-48.8L833.8,-46.5L834.8,-46.1L835.8,-47.2L836.8,-60.5L837.8,-62.1L838.8,-22.3L839.8,-23.4L840.8,-56L841.8,-57.3L842.8,-40.6L843.8,-41.4L844.8,-57.1L845.8,-54.5L846.8,-58.7L847.8,-55.8L848.8,-36L849.8,-33L850.8,-39.6L851.8,-36.5L852.8,-12.2L853.8,-9.5L854.8,-37.6L855.8,-35.7L856.8,-22.5L861.7,-14.2L862.7,-32.6L863.7,-30.7L864.7,2.1L865.7,4.6L866.7,-13.2L867.7,-10.1L868.7,-0.9L869.7,2L870.7,28.9L871.7,30.4L872.7,-9.3L873.7,-8.1L874.7,28.2L875.7,31.9L876.7,7.2L877.7,9.6L878.7,28.8L879.7,29.1L880.7,11.8L881.7,11.8L882.7,-5.6L883.7,-8.3L884.7,-33.4L885.7,-34.8L886.7,17.9L887.7,16.3L888.7,16.4L891.7,12L892.7,-2.9L893.7,-4.5L894.7,-11.1L895.6,-10.6L896.6,-22.7L897.6,-22.2L898.6,32.7L899.6,32.8L900.6,14.2L901.6,12.4L904.6,1.5L905.6,7.4L906.6,22.1L907.6,21.9L908.6,-10.3L909.6,-10.5L910.6,-3L911.6,-2.9L912.6,-20.6L913.6,-20.2L914.6,33.3L915.6,33.3L916.6,9.3L917.6,7.8L918.6,-14.2L919.6,-15.7L920.6,-23.9L921.6,-25.3L922.6,14.3L923.6,12.9L924.6,-4.9L925.6,-6.3L926.6,1.3L927.6,0.9L928.6,-17.4L929.6,-17.8L930.6,-19.4L931.6,-18.4L932.6,-25.9L933.6,-24.9L934.5,20.9L935.5,18.8L936.5,-6.8L937.5,-8.9L938.5,-28.7L939.5,-27.8L940.5,0L941.5,1.1L942.5,-9.3L943.5,-10.7L944.5,-22.2L947.5,-17.4L948.5,13.6L949.5,13.2L950.5,-33.4L951.5,-34.1L952.5,-11.7L953.5,-12.4L954.5,16L955.5,12.3L956.5,-37.5L957.5,-40.9L958.5,-6.3L959.5,-8.4L960.5,-30.2L961.5,-32.1L962.5,-78.3L963.5,-79.8L964.5,-35.3L965.5,-36.8L966.5,-68.5L967.5,-70L968.5,-42.3L969.5,-39.9L970.5,-29.1L971.5,-27.1L972.4,-19L973.4,-17.2L974.4,-29L975.4,-27.2L976.4,0.1L977.4,3.4L978.4,-14.1L979.4,-10.8L980.4,-15.1L981.4,-10.7L982.4,-14L983.4,-7.3L985.4,-9.2L986.4,10.1L987.4,9.5L988.4,20.6L989.4,16.6L990.4,-28.9L991.4,-33.7L992.4,-34.8L993.4,-38.1L994.4,-7.9L995.4,-4.3L996.4,23.5L997.4,24.9L998.4,-7.7L999.4,-6.9L1000.4,-15.6L1001.4,-16.3L1002.4,17.5L1003.4,13.1L1004.4,-21.5L1005.4,-24.1L1006.4,-25L1007.4,-28.2L1008.4,-14.3L1009.4,-17.7L1010.3,-39.2L1011.3,-42.4L1012.3,-13.9L1013.3,-17.1L1014.3,-61.1L1017.3,-72.1L1018.3,-65.2L1021.3,-67.1L1022.3,-50.3L1023.3,-50.5L1024.3,-44.4L1025.3,-43.2L1026.3,-34.6L1027.3,-35.1L1028.3,-99.6L1029.3,-102.7L1030.3,-68.3L1031.3,-65.5L1032.3,-42.7L1033.3,-44.3L1034.3,-36.6L1035.3,-35.5L1036.3,-29.2L1037.3,-28L1038.3,-71.2L1039.3,-70.1L1040.3,-48.7L1041.3,-44.3L1042.3,-96.1L1043.3,-93.3L1044.3,-30.4L1045.3,-23.5L1046.3,-28.2L1047.3,-23.9L1048.2,-40.4L1049.2,-37.9L1050.2,-50.5L1051.2,-48.1L1052.2,-53.4L1053.2,-51.9L1054.2,-6L1055.2,-5.2L1056.2,-7.7L1057.2,-8L1058.2,-34.7L1059.2,-35L1060.2,-6.7L1061.2,-4.2L1062.2,-18.4L1063.2,-15.8L1064.2,19L1065.2,21.2L1066.2,12.6L1067.2,10.4L1068.2,4.1L1070.2,-0L1071.2,14.3L1072.2,12.2L1073.2,-28.8L1076.2,-39.3L1077.2,-5.5L1078.2,-8.5L1079.2,-15L1081.2,-19.7L1082.2,-19.4L1083.2,-35L1084.2,-34.7L1085.2,-53.3L1086.2,-51.6L1087.1,3.4L1087.1,39.6Z"/>
<path transform="translate(483.15,928.07)" d="M0,0L0,-254.8L19,-254.2L31.9,-254.8L43.9,-259.4L52.9,-256.7L66.8,-265.3L76.8,-278.2L87.8,-288L116.7,-301.4L127.7,-300L134.6,-297.3L151.6,-283.5L167.6,-264.2L172.5,-253.9L180.5,-256.5L187.5,-263.3L190.5,-256.3L194.5,-244.2L202.5,-229.2L206.5,-234.5L211.4,-245.8L214.4,-255.3L215.4,-254.5L218.4,-241.4L222.4,-227.4L226.4,-208.9L238.4,-279.2L239.4,-280L247.4,-235.3L248.3,-232.8L259.3,-312.2L269.3,-233.1L270.3,-237.7L279.3,-334.5L287.2,-267L288.2,-268.3L297.2,-332.3L304.2,-273.5L305.2,-271.6L314.2,-350.1L322.2,-261.6L330.1,-345.1L331.1,-347.1L337.1,-289L338.1,-289.2L345.1,-355.3L351.1,-270.7L352.1,-268.4L359.1,-344.9L360.1,-342.5L367,-251.1L368,-259L373,-336.3L380,-235.8L385,-298.8L386,-294L392,-191.7L393,-188.2L398,-280.7L404.9,-199.7L411.9,-253.7L412.9,-242.8L416.9,-168.8L417.9,-174.7L421.9,-222.1L422.9,-222.1L427.9,-132.2L428.9,-133.7L433.9,-188.2L434.9,-179.5L438.8,-120.5L442.8,-157.4L448.8,-101.8L451.8,-124.2L452.8,-136.1L453.8,-143.2L454.8,-145.8L457.8,-102.4L461.8,-126.2L463.8,-113.2L464.8,-115.1L466.8,-96L468.8,-92.9L472.8,-90.4L475.8,-99.2L476.7,-96.1L477.7,-97.9L478.7,-106L482.7,-55.8L483.7,-60.4L484.7,-85.2L485.7,-90.3L486.7,-88.3L487.7,-91.1L488.7,-90.1L489.7,-92.6L490.7,-83.3L491.7,-83.9L492.7,-99.8L493.7,-92.5L494.7,-68.9L495.7,-61.3L496.7,-60.8L497.7,-55.6L498.7,-44.3L499.7,-43.3L500.7,-63.7L501.7,-65.9L502.7,-64.1L503.7,-66.3L504.7,-56.8L505.7,-59L506.7,-65.4L507.7,-65.1L508.7,-69.5L509.7,-69.2L510.7,-73L511.7,-72.8L512.7,-62.7L513.7,-62.4L514.6,-57.4L515.6,-59.9L516.6,-73.1L517.6,-75.7L518.6,-69.8L519.6,-72.4L520.6,-91.9L521.6,-94.5L522.6,-83.2L523.6,-85.8L524.6,-81.2L525.6,-80.6L526.6,-83.8L527.6,-76.5L528.6,-76.8L532.6,-60.5L533.6,-59.3L534.6,-60.8L535.6,-59.5L539.6,-47.1L540.6,-48L541.6,-45.6L542.6,-59.4L543.6,-60.7L544.6,-50.1L545.6,-51.1L546.6,-47.5L547.6,-48.1L548.6,-59.6L549.6,-60.2L550.6,-68.6L551.6,-69.2L552.6,-44.7L553.5,-44.2L554.5,-41.5L555.5,-41L556.5,-26.6L557.5,-26.1L558.5,-58.3L559.5,-57.7L560.5,-44.3L561.5,-43.8L562.5,-29.4L563.5,-28.9L565.5,-21.1L566.5,-36.5L567.5,-33.8L568.5,-46.5L569.5,-43.8L570.5,-32.2L571.5,-31.9L572.5,-27.4L573.5,-27.4L574.5,-21.2L575.5,-21.1L576.5,-13.7L577.5,-17.8L578.5,-44.6L579.5,-42.8L580.5,-32.4L583.5,-20.6L584.5,-28.4L585.5,-25.7L586.5,-7.3L589.5,-12.4L590.5,-35.8L592.4,-38.2L593.4,-38.3L594.4,-27.9L595.4,-28L596.4,-38.7L597.4,-38.5L598.4,-16.1L600.4,-11.4L601.4,-14.2L603.4,-42.1L604.4,-42.4L605.4,-47.1L606.4,-59.8L607.4,-62.3L608.4,-80.9L609.4,-83.4L610.4,-70.8L612.4,-77.5L613.4,-85.5L614.4,-120.5L615.4,-137.3L616.4,-125.5L617.4,-133L618.4,-135.7L619.4,-143.2L620.4,-167.8L621.4,-174L622.4,-173L623.4,-181.8L624.4,-205.1L625.4,-214.1L626.4,-211.9L627.4,-221.2L628.4,-219.1L631.3,-258.2L632.3,-290.3L633.3,-296.4L634.3,-277L635.3,-282.5L636.3,-284.1L637.3,-288L638.3,-298.5L639.3,-300.1L640.3,-297.2L642.3,-286.7L645.3,-251.6L652.3,-128.2L657.3,-64.1L658.3,-43.6L659.3,-35.2L660.3,-34.9L664.3,-15.6L665.3,-15L671.2,-35.6L673.2,-45.9L674.2,-41.4L675.2,-44.2L678.2,-61.3L681.2,-71.7L682.2,-68.8L683.2,-70.6L684.2,-70.1L685.2,-71.9L686.2,-76.8L687.2,-78.6L688.2,-75.7L691.2,-83.3L695.2,-125.9L697.2,-118.2L698.2,-109.8L699.2,-110.5L700.2,-116.3L702.2,-117.8L705.1,-124.6L706.1,-121.6L707.1,-124.5L708.1,-133.7L711.1,-146.8L712.1,-146.2L714.1,-155.1L715.1,-165.3L720.1,-183.6L721.1,-192.5L724.1,-209.6L725.1,-209.6L732.1,-256.1L735.1,-291.8L741.1,-390.1L742.1,-394L743.1,-391.5L744,-385.9L745,-390L746,-389.4L749,-395.4L750,-405.4L753,-455.2L755,-507.3L757,-537.2L758,-539.2L759,-531.7L760,-515.7L764,-413.4L765,-402.2L767,-416.9L770,-463.8L775,-599.7L776,-613.3L779,-631.1L781,-626.8L782.9,-619.1L783.9,-598.8L787.9,-444.9L792.9,-193.1L793.9,-154L795.9,-108.8L798.9,-61.1L801.9,-33.3L802.9,-34.7L803.9,-33.2L804.9,-25.5L805.9,-24.6L806.9,-39.7L807.9,-40.2L808.9,-34.9L809.9,-36.1L810.9,-10.2L811.9,-8.7L812.9,-48.2L813.9,-48.4L814.9,-27.8L815.9,-26.8L816.9,-46.7L817.9,-46L818.9,-31L819.8,-31.4L820.8,-44.8L821.8,-45.3L822.8,-37.4L823.8,-37.4L824.8,-15.7L825.8,-15.5L826.8,-17.3L827.8,-17.9L828.8,-32.3L829.8,-33.2L830.8,-45.9L831.8,-46.9L832.8,-15.6L833.8,-13.9L834.8,-19.3L835.8,-20L836.8,-25.5L837.8,-26.6L838.8,-11.8L839.8,-12.6L840.8,-30.9L841.8,-31.8L842.8,-28.3L843.8,-28.9L844.8,-37.4L845.8,-35.5L846.8,-9.6L847.8,-7.4L848.8,-15.9L849.8,-13.7L850.8,-20.6L851.8,-18.3L852.8,1.5L853.8,3.5L854.8,-17.2L855.8,-15.8L856.8,-2.5L857.7,-0.9L858.7,-8.7L859.7,-7.3L860.7,10.1L861.7,11.9L862.7,-2.1L863.7,-0.4L864.7,-5.9L865.7,-4.4L866.7,-28.5L867.7,-26.7L868.7,15L869.7,17.2L870.7,31.7L871.7,31.7L872.7,1.6L873.7,2.5L874.7,14.1L875.7,16.8L876.7,5.4L877.7,7.1L878.7,29.6L879.7,29.8L880.7,21.9L881.7,22L883.7,16.3L884.7,-9.6L885.7,-10.6L886.7,25.8L887.7,24.7L888.7,9.9L889.7,8.5L890.7,32.4L891.7,32.5L892.7,-12.9L893.7,-14L894.7,-18.9L895.6,-18.5L896.6,-0.8L897.6,-0.4L898.6,32.7L899.6,32.8L900.6,-2.2L901.6,-3.5L902.6,17.7L903.6,16L904.6,-3.7L905.6,0.7L906.6,21.6L907.6,21.5L908.6,8.1L911.6,8.6L912.6,-37.3L913.6,-37L914.6,33.3L915.6,33.3L916.6,7.8L917.6,6.7L918.6,-4.2L919.6,-5.3L920.6,19.5L921.6,18.5L922.6,3.6L923.6,2.6L924.6,28.4L925.6,27.4L926.6,10.9L927.6,10.6L928.6,-16.7L929.6,-17L930.6,5L931.6,5.8L932.6,-7.3L933.6,-6.6L934.5,27.2L935.5,25.7L936.5,-10.5L938.5,-12.8L939.5,-12.1L940.5,-2.4L941.5,-1.6L942.5,13.6L943.5,12.6L944.5,0.1L945.5,1.5L946.5,-14.5L947.5,-13L948.5,26.1L949.5,25.8L950.5,-8.3L951.5,-8.7L952.5,-20.5L953.5,-20.9L954.5,2.2L957.5,-8L958.5,6.9L959.5,5.4L960.5,-27.2L961.5,-28.6L962.5,-19L963.5,-20.1L964.5,-10.5L965.5,-11.6L966.5,-38.5L967.5,-39.5L968.5,-19.4L969.5,-17.6L970.5,-25.7L971.5,-24.3L972.4,-15.7L973.4,-14.4L974.4,-5.1L975.4,-3.8L976.4,-4L977.4,-1.6L978.4,-4.9L979.4,-2.4L980.4,35.7L981.4,35.7L982.4,-12.5L983.4,-7.7L984.4,-9.9L985.4,-10.3L986.4,22L987.4,21.6L988.4,15.2L989.4,12.3L990.4,-1.4L992.4,-10.9L993.4,-13.3L994.4,8.7L996.4,16.6L997.4,17.6L998.4,-13.4L999.4,-12.8L1000.4,-30L1001.4,-30.4L1002.4,36.5L1003.4,36.5L1004.4,-17.2L1005.4,-19.1L1006.4,17.7L1007.4,15.4L1008.4,0.1L1011.3,-7.4L1012.3,-5.2L1013.3,-7.5L1014.3,-36.7L1015.3,-39L1016.3,-67.8L1017.3,-69.9L1018.3,-34.4L1019.3,-35L1020.3,-31.8L1021.3,-32.4L1022.3,-9.7L1023.3,-9.8L1024.3,-18.5L1025.3,-17.6L1026.3,6.9L1027.3,6.6L1028.3,-44.4L1029.3,-46.6L1030.3,-53.9L1031.3,-51.9L1032.3,-11L1033.3,-12.2L1034.3,-16.5L1035.3,-15.6L1036.3,-21.2L1037.3,-20.4L1038.3,-26L1039.3,-25.2L1040.3,-16.1L1041.3,-12.9L1042.3,-60.8L1043.3,-58.8L1044.3,-16.6L1045.3,-11.6L1046.3,-13.7L1047.3,-10.6L1048.2,-46L1049.2,-44.1L1050.2,-27.6L1051.2,-25.8L1052.2,-29.6L1053.2,-28.5L1054.2,2.5L1055.2,3L1056.2,1.1L1057.2,0.9L1058.2,-10.2L1059.2,-10.4L1060.2,-0.7L1061.2,1.2L1062.2,14.5L1065.2,19.6L1067.2,14.6L1068.2,18.5L1072.2,12.7L1073.2,-27.4L1074.2,-30.6L1075.2,0.1L1076.2,-2.9L1077.2,12.5L1078.2,10.3L1079.2,17.8L1080.2,16.3L1081.2,-6.4L1082.2,-6.2L1083.2,-23.9L1084.2,-23.6L1085.2,-43.5L1086.2,-42.2L1087.1,-15.6L1087.1,39.6Z"/>
<path transform="translate(480.58,932.78)" d="M0,0L0,-258.7L19,-255.9L31.9,-254.9L43.9,-258.8L52.9,-255.6L66.8,-263.4L76.8,-275.7L87.8,-284.4L116.7,-294.7L127.7,-292.1L134.6,-288.6L151.6,-272.8L167.6,-251.6L172.5,-240.1L180.5,-240.5L187.5,-245.3L194.5,-225.1L202.5,-209.4L206.5,-214.1L211.4,-222.8L214.4,-231L215.4,-230.2L217.4,-221.3L222.4,-205.1L226.4,-186.8L238.4,-251.8L239.4,-252.6L247.4,-210.4L248.3,-208.1L259.3,-284.2L269.3,-206.7L270.3,-211.1L279.3,-304.7L287.2,-238.5L288.2,-239.9L297.2,-302L304.2,-243.8L305.2,-241.8L314.2,-318.6L322.2,-230.5L330.1,-313.3L331.1,-315.3L337.1,-257.4L338.1,-257.6L345.1,-323.1L351.1,-239L352.1,-236.7L359.1,-312.9L360.1,-310.4L367,-219.2L368,-227.1L373,-303.9L380,-203.9L385,-266.7L386,-261.8L392,-159.8L393,-156.3L398,-248.2L404.9,-167.6L411.9,-221.5L412.9,-210.6L416.9,-136.8L417.9,-142.6L421.9,-189.6L422.9,-189.5L427.9,-100.1L428.9,-101.6L433.9,-155.9L434.9,-147.3L438.8,-88.5L442.8,-125.5L448.8,-71.7L452.8,-103.8L454.8,-114.7L457.8,-72.5L458.8,-73.4L461.8,-96.2L463.8,-84.5L464.8,-83.3L466.8,-66.3L467.8,-65.8L468.8,-70.6L471.8,-69.4L473.8,-76.1L474.8,-62.4L475.8,-63.8L476.7,-68.3L477.7,-69.9L478.7,-75.6L482.7,-34.4L483.7,-39.9L484.7,-63.6L485.7,-69.5L486.7,-67.2L487.7,-70.7L488.7,-80.7L489.7,-84L490.7,-76.3L491.7,-77.2L492.7,-74.2L496.7,-39.3L498.7,-28.3L500.7,-25.7L501.7,-27.7L502.7,-37.1L503.7,-39.4L504.7,-48.4L506.7,-52.7L509.7,-51.8L510.7,-61.4L511.7,-61.1L512.7,-38.7L513.7,-38.5L514.6,-46.1L515.6,-48.8L516.6,-46.3L517.6,-48.9L518.6,-60L519.6,-62.7L520.6,-71.9L521.6,-74.6L522.6,-70.7L523.6,-73.4L524.6,-59.8L525.6,-59.3L526.6,-61.2L527.6,-54L528.6,-59.1L530.6,-47.9L531.6,-46.7L532.6,-33.4L533.6,-32.2L534.6,-43.1L535.6,-41.9L536.6,-36.3L537.6,-34L538.6,-40L539.6,-37.6L540.6,-39.6L542.6,-34.4L543.6,-35.8L544.6,-34.5L545.6,-35.6L546.6,-16.4L547.6,-17L548.6,-39.6L549.6,-40.2L550.6,-33.3L551.6,-33.9L552.6,-24.4L553.5,-23.8L554.5,-33.1L555.5,-32.6L556.5,-16.6L557.5,-16.1L558.5,-33.2L559.5,-32.7L560.5,-25.6L561.5,-25.1L562.5,-19.5L563.5,-19L564.5,-5.9L565.5,-3.3L566.5,-22.6L567.5,-20L568.5,-27.7L569.5,-25.1L570.5,-10L571.5,-9.7L572.5,-11.4L573.5,-11.4L574.5,-5.8L575.5,-5.8L576.5,2.6L577.5,-1.5L578.5,-31.6L579.5,-29.8L580.5,-22L581.5,-19.2L582.5,-7.1L583.5,-4.3L584.5,-16.3L585.5,-13.5L586.5,11.2L587.5,9.8L588.5,-2.3L589.5,-3.6L590.5,-17.6L591.4,-19L592.4,-18.1L593.4,-18.2L594.4,-9.7L595.4,-9.8L596.4,-25.4L597.4,-25.2L598.4,1.2L599.4,3.6L600.4,-5.2L602.4,-13.1L603.4,-28.8L604.4,-25.2L605.4,-29.9L606.4,-40.3L607.4,-42.8L608.4,-64.9L609.4,-67.5L610.4,-57.9L612.4,-65L613.4,-73L615.4,-119L616.4,-110.4L619.4,-127.9L620.4,-147.4L622.4,-157.3L623.4,-166.5L624.4,-189.5L626.4,-210.5L627.4,-220L628.4,-219.5L631.3,-252.2L632.3,-277.6L633.3,-284L634.3,-267L636.3,-282.3L638.3,-288.4L640.3,-291.2L642.3,-280.2L643.3,-270.7L646.3,-228.6L648.3,-181.5L653.3,-101.1L654.3,-93.5L658.3,-32.3L661.3,-12L662.3,-10.6L663.3,-6.2L664.3,2.9L665.3,3.8L667.2,-3L668.2,-9.1L673.2,-26.1L674.2,-25.9L676.2,-32.8L679.2,-39.9L680.2,-47.1L681.2,-49.8L682.2,-47.2L685.2,-51.4L687.2,-56.4L688.2,-54.9L689.2,-56.5L690.2,-61.4L691.2,-63L695.2,-100.4L696.2,-98.7L698.2,-87.2L699.2,-87.8L700.2,-92.6L701.2,-93.3L703.2,-98.3L704.2,-96.8L705.1,-99.4L706.1,-98.1L707.1,-100.8L708.1,-108.6L711.1,-121.8L712.1,-119.5L714.1,-127.9L715.1,-137.5L718.1,-151.5L719.1,-151.6L720.1,-155.8L725.1,-182.4L732.1,-227.1L735.1,-262.3L741.1,-364.8L742.1,-368.8L744,-358.7L745,-363.5L747,-361.1L748,-361.8L749,-364.5L750,-374.3L752,-407.3L755,-478.9L757,-509.9L758,-512.2L759,-504.9L760,-488.6L764,-384.9L765,-372.7L767,-387.2L770,-438.1L775,-576.4L776,-589.9L779,-608.2L781.9,-599.3L782.9,-597.9L783.9,-577.3L787.9,-421.3L792.9,-168.7L793.9,-129.7L795.9,-83L798.9,-38.8L801.9,-13L802.9,-14.5L803.9,-13.3L804.9,-9.2L805.9,-8.9L806.9,-14.6L807.9,-14.4L808.9,-5.3L809.9,-5.2L810.9,6.2L811.9,7.5L812.9,-21.1L813.9,-21.1L814.9,-4.2L815.9,-3.4L816.9,-17.6L817.9,-17L818.9,-2.6L819.8,-2.7L820.8,-10.1L821.8,-10.4L822.8,-19.8L823.8,-19.8L824.8,5.5L825.8,5.7L826.8,13.2L827.8,12.9L828.8,-10.7L829.8,-11.3L830.8,-16.9L831.8,-17.5L832.8,-5.7L833.8,-4.6L834.8,4.1L835.8,3.7L836.8,-14.2L837.8,-14.9L838.8,13.4L839.8,12.9L840.8,-13.2L841.8,-13.8L842.8,5.1L843.8,4.8L844.8,-7.5L845.8,-6.3L846.8,1.3L847.8,2.6L848.8,7.1L849.8,8.6L850.8,2.6L851.8,4.1L852.8,24.2L853.8,25.7L854.8,7.4L855.8,8.4L856.8,3.1L857.7,4L858.7,12.8L859.7,13.8L860.7,6.8L861.7,7.8L862.7,-7.6L863.7,-6.9L864.7,12L865.7,13.1L866.7,5.8L867.7,7.1L868.7,14.2L869.7,15.5L870.7,27.3L871.7,28L872.7,-1.1L873.7,-0.6L874.7,10L875.7,11.7L876.7,8.6L877.7,9.7L878.7,32L881.7,32.1L882.7,3.4L883.7,2.2L884.7,-16.5L885.7,-17.1L886.7,32.3L887.7,32.3L888.7,18.3L889.7,17.4L890.7,19.6L891.7,18.8L892.7,8.8L893.7,8.1L895.6,9L896.6,-5.1L897.6,-4.9L898.6,32.7L899.6,32.8L900.6,25.8L901.6,25L902.6,17L903.6,15.9L905.6,20.2L906.6,32.6L909.6,33.1L910.6,-8.8L913.6,-7.7L914.6,33.3L915.6,33.3L916.6,14L917.6,13.3L918.6,8L919.6,7.4L920.6,28.1L921.6,27.5L922.6,14.4L923.6,13.8L924.6,24.5L925.6,23.8L926.6,33.7L927.6,33.8L928.6,6.3L929.6,6.2L930.6,-12L931.6,-11.5L932.6,15.2L933.6,15.7L934.5,33.3L935.5,32.4L936.5,5.4L937.5,4.5L938.5,9.9L939.5,10.3L940.5,-2.5L941.5,-1.9L942.5,19.2L943.5,18.6L945.5,20.7L946.5,14.2L947.5,15.2L948.5,34.5L949.5,34.6L950.5,-8.2L951.5,-8.5L952.5,8L953.5,7.7L954.5,29L955.5,27.3L956.5,1.6L957.5,0.1L958.5,26L959.5,25.1L960.5,-12.2L961.5,-13L962.5,-10.9L963.5,-11.5L964.5,-3.7L965.5,-4.4L966.5,-9.8L967.5,-10.4L968.5,-4L969.5,-2.9L970.5,11.3L971.5,12.2L972.4,15.5L973.4,16.3L974.4,6.5L975.4,7.3L976.4,14.3L977.4,15.8L978.4,21.3L979.4,22.8L980.4,19.8L981.4,21.8L982.4,12.4L983.4,15.4L984.4,-12.9L985.4,-13.1L986.4,20.8L987.4,20.6L988.4,36L989.4,36L990.4,10.2L991.4,8L992.4,-4.3L993.4,-5.8L995.4,-0.8L996.4,34L997.4,34.7L998.4,2.2L999.4,2.5L1000.4,5.5L1001.4,5.3L1002.4,36.5L1003.4,36.5L1004.4,15.5L1005.4,14.3L1006.4,22.1L1007.4,20.7L1008.4,9.6L1009.4,8.1L1010.3,-15.4L1011.3,-16.8L1012.3,23.3L1013.3,21.9L1014.3,1.7L1015.3,0.3L1016.3,-35.7L1017.3,-37.1L1018.3,-12.2L1019.3,-12.6L1020.3,19.5L1021.3,19.1L1022.3,9.6L1023.3,9.5L1024.3,12.7L1025.3,13.3L1026.3,20.5L1027.3,20.3L1028.3,-35.8L1029.3,-37.2L1030.3,-20.4L1031.3,-19.1L1032.3,-6.8L1033.3,-7.6L1034.3,17.8L1035.3,18.3L1036.3,-4.2L1039.3,-1.3L1040.3,32.3L1041.3,34.3L1042.3,-6.2L1043.3,-4.9L1044.3,13.2L1045.3,16.4L1046.3,15.9L1047.3,17.9L1048.2,-26.2L1049.2,-25L1050.2,-2.6L1053.2,0.1L1054.2,14L1055.2,14.3L1056.2,21.1L1057.2,20.9L1058.2,14.1L1059.2,14L1060.2,-0.2L1061.2,1L1062.2,16.4L1063.2,17.5L1064.2,38.8L1067.2,38.9L1068.2,8.1L1070.2,6.2L1071.2,38.8L1072.2,37.9L1073.2,-2.1L1076.2,-7.3L1077.2,23.8L1078.2,22.4L1079.2,2.3L1081.2,0.7L1082.2,0.9L1083.2,-11L1084.2,-10.8L1085.2,-4L1086.2,-3.2L1087.1,7L1087.1,39.6Z"/>
<path transform="translate(478.02,937.50)" d="M0,0L0,-257.6L19,-255.4L31.9,-254.9L43.9,-258.1L52.9,-254.4L66.8,-261.4L76.8,-273.1L87.8,-280.7L116.7,-288.4L127.7,-284.8L134.6,-280.3L151.6,-262.4L167.6,-239.1L172.5,-226.5L180.5,-225.1L187.5,-228.3L194.5,-207.5L202.5,-192.6L206.5,-197.7L211.4,-206.7L214.4,-215L215.4,-214.1L217.4,-205.4L222.4,-189.1L226.4,-170.5L235.4,-216.5L238.4,-234.5L239.4,-235.3L247.4,-193.4L248.3,-191.2L259.3,-267.1L269.3,-189.5L270.3,-193.8L279.3,-286.9L287.2,-220.9L288.2,-222.3L297.2,-284.4L304.2,-226L305.2,-224L314.2,-300.5L322.2,-212.5L330.1,-295.3L331.1,-297.3L337.1,-239.4L338.1,-239.5L345.1,-304.9L351.1,-220.9L352.1,-218.6L359.1,-294.9L360.1,-292.5L367,-201.3L368,-209.1L373,-285.8L380,-186L385,-248.8L386,-244L392,-142.1L393,-138.5L398,-230.1L404.9,-149.6L411.9,-203.6L412.9,-192.8L416.9,-119.2L417.9,-124.9L421.9,-171.6L422.9,-171.5L427.9,-82.3L428.9,-83.8L433.9,-138.1L434.9,-129.5L438.8,-71.1L442.8,-107.5L447.8,-61.3L448.8,-56.2L454.8,-97.9L457.8,-55.6L458.8,-57.8L461.8,-76.2L462.8,-74.1L463.8,-67.5L464.8,-66.4L466.8,-53.3L467.8,-53.1L468.8,-48.2L469.8,-47.7L470.8,-51.6L471.8,-51L472.8,-57.8L473.8,-59.8L474.8,-51.3L475.8,-52.7L478.7,-61.4L481.7,-23.1L482.7,-19.3L483.7,-25.1L484.7,-49.7L485.7,-56L489.7,-71.1L490.7,-57.7L491.7,-58.5L492.7,-67.8L495.7,-37.4L497.7,-29.7L498.7,-20.3L499.7,-19.4L500.7,-33.9L501.7,-36.3L502.7,-22.3L503.7,-24.5L504.7,-38.3L506.7,-44.8L509.7,-43.9L510.7,-44.6L511.7,-44.4L512.7,-25.5L513.7,-25.3L515.6,-31.9L516.6,-50.2L519.6,-56.3L520.6,-55.8L521.6,-58.5L522.6,-69.2L523.6,-71.9L524.6,-56.2L526.6,-54.7L527.6,-47.5L528.6,-49.9L529.6,-45.9L530.6,-35.9L531.6,-34.8L532.6,-31L533.6,-29.8L534.6,-31.5L535.6,-30.3L536.6,-20.8L537.6,-18.4L538.6,-31.3L541.6,-23.6L542.6,-28L543.6,-29.4L544.6,-29.5L545.6,-30.6L546.6,-13.3L547.6,-13.8L548.6,-22.1L549.6,-22.7L550.6,-31L551.6,-31.6L552.6,-25L555.5,-22.9L556.5,-17.6L557.5,-17.1L558.5,-32.5L559.5,-31.9L560.5,-16.9L561.5,-16.4L562.5,-11L564.5,-10.4L565.5,-7.8L566.5,-15.7L567.5,-13.1L568.5,-20.9L569.5,-18.3L570.5,-3.6L571.5,-3.3L572.5,-9.1L573.5,-9.1L574.5,-3L575.5,-2.9L576.5,3.2L577.5,-0.8L578.5,-21.4L579.5,-19.5L582.5,-4.7L585.5,2.5L586.5,18.9L589.5,15.2L590.5,-3.4L591.4,-4.7L592.4,-9L593.4,-9.1L594.4,1.6L595.4,1.5L596.4,-10.8L597.4,-10.6L598.4,3.4L600.4,7.4L601.4,4.7L603.4,-25.6L604.4,-17.1L605.4,-21.8L606.4,-37.6L607.4,-40L608.4,-56.2L609.4,-58.7L610.4,-50.9L611.4,-54.2L612.4,-54L613.4,-62L615.4,-113.6L616.4,-96.8L622.4,-144L623.4,-153.7L624.4,-182.7L625.4,-192.6L626.4,-194.6L627.4,-204.7L628.4,-207.5L629.3,-218L631.3,-241.4L632.3,-267.7L633.3,-274.5L634.3,-266.6L635.3,-272.3L636.3,-273.5L637.3,-277.4L638.3,-287.7L639.3,-289.3L641.3,-279.8L643.3,-263.8L646.3,-222.8L650.3,-143.5L658.3,-26.1L661.3,-5.9L664.3,8.5L665.3,9.6L666.3,9.1L667.2,6.1L668.2,0.1L671.2,-7.3L673.2,-17.1L674.2,-16.5L676.2,-22.8L679.2,-29.8L680.2,-37.3L681.2,-39.8L682.2,-37.1L685.2,-40.7L686.2,-40.2L687.2,-41.7L688.2,-45.3L691.2,-49.5L695.2,-85.8L696.2,-84.6L698.2,-73.2L699.2,-73.7L700.2,-78.7L701.2,-79.2L703.2,-83.4L704.2,-81L707.1,-86.6L708.1,-93.8L711.1,-105.2L712.1,-103.9L714.1,-112L715.1,-119.9L722.1,-148.4L724.1,-162L725.1,-163.9L732.1,-207.8L735.1,-243L741.1,-341L742.1,-344.8L744,-336L745,-339.2L746,-338.2L749,-341.4L750,-351.1L751,-362.8L755,-454.8L757,-486L758,-488.3L759,-482.7L760,-466.6L764,-363.3L765,-348.7L767,-365.3L770,-415.5L775,-554L777,-576L779,-587.5L782.9,-576.1L783.9,-555.8L787.9,-400.5L793.9,-113.9L795.9,-67.6L798.9,-27.9L801.9,-1.3L802.9,-5.3L803.9,-4.5L804.9,1.2L805.9,1.5L806.9,-5.1L807.9,-4.9L808.9,5.2L809.9,5.6L810.9,4.7L811.9,5.3L812.9,-10.9L813.9,-10.9L814.9,8.1L815.9,8.8L816.9,-7.3L817.9,-6.8L818.9,2.6L819.8,2.5L820.8,-8.9L821.8,-9.2L822.8,-2L823.8,-2L824.8,13.5L825.8,13.7L826.8,11.9L827.8,11.6L828.8,6.9L829.8,6.5L830.8,-5.6L831.8,-6L832.8,10.1L833.8,10.9L834.8,15.2L835.8,14.9L836.8,-2.5L837.8,-3L838.8,29L839.8,28.7L840.8,1.7L841.8,1.3L842.8,10.4L843.8,10.2L844.8,-3.4L845.8,-2.5L846.8,7.5L847.8,8.5L848.8,5.8L849.8,6.9L850.8,0.7L851.8,1.7L852.8,20.9L853.8,22L854.8,6.4L857.7,8.2L858.7,10.2L859.7,10.8L860.7,23.9L861.7,24.9L862.7,3L863.7,3.5L864.7,18.7L865.7,19.6L866.7,19.1L867.7,20.2L868.7,16.8L869.7,17.7L870.7,31.7L871.7,31.7L872.7,21.4L873.7,21.8L874.7,7L875.7,8.3L876.7,25.1L877.7,25.9L878.7,32L879.7,32L880.7,24.1L881.7,24.1L883.7,22.6L884.7,-1.5L885.7,-2L886.7,32.3L887.7,32.3L888.7,22.8L889.7,22.2L890.7,23.2L891.7,22.6L892.7,-3.2L893.7,-3.7L894.7,29L895.6,29.2L896.6,15.1L897.6,15.4L898.6,32.7L899.6,32.8L900.6,28.9L901.6,28.3L902.6,32.9L903.6,32.9L904.6,28.6L905.6,30.7L907.6,31L908.6,9.2L909.6,9.1L910.6,6.3L911.6,6.3L912.6,-2.8L913.6,-2.6L914.6,33.3L917.6,33.4L918.6,14.7L921.6,14L922.6,32.5L923.6,32.1L924.6,25.3L925.6,24.8L926.6,33.7L927.6,33.8L928.6,6.4L929.6,6.2L930.6,11L931.6,11.4L932.6,33.6L935.5,34.1L936.5,9.9L937.5,9.2L938.5,18.1L939.5,18.4L940.5,4.1L941.5,4.5L942.5,19.1L943.5,18.6L944.5,25L945.5,25.7L946.5,30.3L947.5,31L948.5,33.6L949.5,33.5L950.5,18.6L951.5,18.4L952.5,5.2L953.5,5L954.5,28.5L955.5,27.3L956.5,12.6L959.5,9.7L960.5,-1.8L961.5,-2.5L962.5,5.3L963.5,4.8L964.5,6.5L965.5,6L966.5,-3.6L967.5,-4L968.5,18.2L969.5,19.1L970.5,23.1L971.5,23.8L972.4,16.8L973.4,17.5L974.4,25.4L975.4,26L976.4,21.9L977.4,23.1L978.4,12.3L981.4,15.4L982.4,7.9L983.4,10.2L984.4,6.8L985.4,6.6L986.4,35.9L987.4,36L988.4,31.8L989.4,30.4L990.4,12.3L993.4,7.7L994.4,18.3L995.4,19.6L996.4,36.3L997.4,36.3L998.4,9.5L999.4,9.8L1000.4,6.1L1001.4,5.9L1002.4,36.5L1003.4,36.5L1004.4,23.9L1005.4,23L1006.4,27.1L1007.4,26L1008.4,20.5L1009.4,19.4L1010.3,25.3L1011.3,24.2L1012.3,7.3L1013.3,6.2L1014.3,11.4L1015.3,10.3L1016.3,-16.3L1017.3,-17.3L1018.3,12.8L1019.3,12.5L1020.3,9.4L1021.3,9.1L1022.3,20L1023.3,19.9L1024.3,13.3L1025.3,13.8L1026.3,15.8L1027.3,15.6L1028.3,-20.1L1029.3,-21.2L1030.3,24.1L1031.3,25.1L1032.3,10.3L1033.3,9.7L1034.3,21.8L1035.3,22.2L1036.3,21L1037.3,21.4L1038.3,1.5L1040.3,2.8L1041.3,4.4L1042.3,-20.8L1043.3,-19.8L1044.3,26.7L1045.3,29.1L1046.3,23.7L1047.3,25.3L1048.2,11.2L1051.2,13L1052.2,-5.9L1053.2,-5.4L1054.2,21.4L1055.2,21.7L1056.2,11.3L1057.2,11.2L1058.2,20.5L1059.2,20.4L1060.2,23L1061.2,23.9L1062.2,17.9L1063.2,18.8L1064.2,30.4L1065.2,31.2L1066.2,38.8L1067.2,38.9L1068.2,21.6L1070.2,20.2L1071.2,39L1072.2,39L1073.2,-12.1L1074.2,-13.6L1075.2,15.1L1076.2,13.6L1077.2,39.2L1078.2,39.2L1079.2,15L1080.2,14.3L1081.2,17L1082.2,17.1L1083.2,10.1L1084.2,10.2L1085.2,0.6L1086.2,1.2L1087.1,26.9L1087.1,39.6Z"/>
<path transform="translate(475.46,942.22)" d="M0,0L0,-256.6L19,-255L31.9,-254.9L43.9,-257.4L52.9,-253.2L66.8,-259.4L76.8,-270.4L87.8,-277.1L116.7,-282L127.7,-277.4L134.6,-272.1L151.6,-251.9L167.6,-226.6L172.5,-212.9L180.5,-209.6L187.5,-211.3L194.5,-190L202.5,-176L206.5,-181.6L211.4,-191L214.4,-199.2L215.4,-198.4L217.4,-189.8L222.4,-173.4L226.4,-154.5L235.4,-199.3L238.4,-217.2L239.4,-218L247.4,-176.7L248.3,-174.5L259.3,-250.3L269.3,-172.6L270.3,-176.8L279.3,-269.1L287.2,-203.5L288.2,-204.9L297.2,-267L304.2,-208.6L305.2,-206.5L314.2,-282.4L322.2,-194.6L330.1,-277.6L331.1,-279.6L337.1,-221.5L338.1,-221.6L345.1,-286.8L351.1,-202.9L352.1,-200.7L359.1,-277.1L360.1,-274.6L367,-183.5L368,-191.2L373,-267.6L380,-168.2L385,-230.9L386,-226.1L392,-124.5L393,-120.9L398,-212L404.9,-131.5L411.9,-185.7L412.9,-174.9L416.9,-101.6L417.9,-107.3L421.9,-153.7L422.9,-153.6L427.9,-64.4L428.9,-65.9L433.9,-120.2L434.9,-111.7L438.8,-53.7L442.8,-89.6L447.8,-43.6L448.8,-38.5L452.8,-69.2L454.8,-80.4L457.8,-37.2L458.8,-40L461.8,-60.7L462.8,-60.6L466.8,-37.7L467.8,-37.8L468.8,-39.2L469.8,-39.2L470.8,-40.2L471.8,-39.8L472.8,-38.1L473.8,-40L474.8,-37.7L477.7,-43.2L478.7,-46.6L482.7,-8.4L483.7,-14.7L484.7,-33.8L485.7,-40.5L487.7,-47.4L488.7,-57.1L489.7,-60.8L490.7,-53.1L491.7,-54.2L492.7,-54.1L495.7,-23.1L496.7,-24.4L497.7,-19.4L498.7,-6.8L499.7,-5.9L500.7,-14.1L503.7,-19.8L504.7,-28.2L505.7,-30.5L506.7,-31L507.7,-30.8L508.7,-29.1L509.7,-29L510.7,-37.5L511.7,-37.3L512.7,-20.8L514.6,-20.4L515.6,-23.1L516.6,-37L519.6,-46.5L520.6,-55.1L521.6,-57.8L522.6,-56.3L523.6,-59L524.6,-49.6L526.6,-49L527.6,-41.8L528.6,-40.9L529.6,-36.9L530.6,-25.4L531.6,-24.3L532.6,-20.2L533.6,-19.1L534.6,-29.8L535.6,-28.6L536.6,-18.3L537.6,-16L538.6,-20.1L539.6,-17.7L540.6,-3.9L541.6,-1.6L542.6,-23.2L543.6,-24.7L544.6,-14.5L545.6,-15.6L546.6,-7.5L547.6,-8.1L548.6,-15.7L549.6,-16.2L550.6,-24.1L551.6,-24.7L552.6,-19.7L553.5,-19.1L554.5,-16L555.5,-15.5L556.5,-5.1L557.5,-4.6L558.5,-33.7L559.5,-33.2L560.5,-15.7L561.5,-15.2L562.5,-0.4L563.5,0.2L565.5,5L566.5,-2.2L567.5,0.5L568.5,-7.3L569.5,-4.6L570.5,4.7L571.5,5L572.5,0.9L573.5,1L574.5,11.7L575.5,11.8L576.5,13.2L577.5,9.1L578.5,-11L579.5,-9.1L583.5,6L584.5,2.5L585.5,5.3L586.5,17.2L587.5,15.8L588.5,19.8L589.5,18.5L590.5,4.8L591.4,3.5L592.4,-3.9L593.4,-4L594.4,6.4L595.4,6.3L596.4,-6L597.4,-5.8L598.4,11.5L599.4,13.9L601.4,7.1L603.4,-18.6L604.4,-15.1L605.4,-19.7L606.4,-32.2L607.4,-34.5L608.4,-43.2L609.4,-45.5L610.4,-36.1L611.4,-39.4L613.4,-53.5L615.4,-100.1L616.4,-96.9L617.4,-104.6L618.4,-106.6L620.4,-128.1L621.4,-135L622.4,-136.8L623.4,-146.7L624.4,-168.5L628.4,-203.5L631.3,-237.6L632.3,-258.6L633.3,-265.7L634.3,-258.7L635.3,-264.7L637.3,-271.7L638.3,-283.2L639.3,-284.8L642.3,-269.5L646.3,-218.1L650.3,-138L658.3,-18.3L661.3,3.6L664.3,17.7L665.3,18.9L666.3,17.5L668.2,9.8L671.2,2.1L673.2,-6.7L674.2,-5.6L676.2,-12.5L681.2,-25.1L682.2,-24L686.2,-30.9L687.2,-32.2L688.2,-31.9L689.2,-33.2L690.2,-37L691.2,-38.3L695.2,-74.5L698.2,-57.9L699.2,-58.1L700.2,-63.6L701.2,-64L702.2,-65.3L703.2,-67.5L704.2,-67.1L705.1,-69.4L706.1,-69L707.1,-71.5L708.1,-78.6L711.1,-89.3L712.1,-88L714.1,-95.8L715.1,-103.6L720.1,-122.9L724.1,-144.2L725.1,-146.3L731.1,-181.5L733.1,-198.3L736.1,-235.3L741.1,-317.8L742.1,-321.6L744,-310.7L745,-314L746,-313.3L749,-318.7L750,-328.4L757,-461.7L758,-464.1L759,-458.8L760,-442.9L764,-338.6L765,-326.7L767,-345.1L770,-394.4L775,-532.2L776,-545.4L779,-564.7L780,-562.7L782.9,-551.9L784.9,-502.4L793.9,-96.4L795.9,-53.3L797.9,-27.7L800.9,0.4L801.9,5.2L802.9,4.8L803.9,5.2L804.9,9.9L805.9,9.9L806.9,0.4L807.9,0L808.9,10.4L809.9,10.6L810.9,20.8L811.9,22L812.9,-3.9L813.9,-3.8L814.9,12.3L815.9,12.8L816.9,1.6L817.9,2L818.9,13.5L819.8,13.5L820.8,-1.4L821.8,-1.5L822.8,-0.1L823.8,-0.1L824.8,12.9L825.8,13L826.8,22.4L827.8,22.2L828.8,14.3L829.8,14.1L830.8,-4.2L831.8,-4.6L832.8,13.4L833.8,13.9L834.8,17.6L835.8,17.4L836.8,1.8L837.8,1.4L838.8,28.2L839.8,28L840.8,20.4L841.8,20.1L842.8,17.3L843.8,17.2L844.8,7.7L847.8,9.9L848.8,20L849.8,20.7L850.8,16.7L851.8,17.5L852.8,25L853.8,25.8L854.8,21.3L855.8,21.9L856.8,31.2L857.7,31.2L858.7,12.5L859.7,12.9L860.7,31.1L861.7,31.4L862.7,4.1L863.7,4.4L864.7,27.6L865.7,28.3L866.7,15.9L869.7,19.4L870.7,31.7L871.7,31.7L872.7,19.8L873.7,20.1L874.7,19.3L875.7,20.2L876.7,25.2L877.7,25.8L878.7,32L881.7,32.1L882.7,2L883.7,1.4L884.7,2.1L885.7,1.8L886.7,31.8L887.7,31.4L888.7,24L889.7,23.6L890.7,32.4L891.7,32.2L892.7,17.4L893.7,17L894.7,21.1L895.6,21.2L896.6,18.4L897.6,18.5L898.6,32.7L899.6,32.8L900.6,26.1L901.6,25.7L902.6,29L903.6,28.5L904.6,32.9L907.6,33.1L908.6,29.6L909.6,29.6L910.6,22.7L911.6,22.7L912.6,9.7L913.6,9.8L914.6,33.3L915.6,33.3L916.6,26.3L919.6,24.6L920.6,28L921.6,27.7L922.6,23.9L923.6,23.6L924.6,33.7L927.6,33.2L928.6,15.6L929.6,15.5L930.6,24.9L931.6,25.2L932.6,34L933.6,34L934.5,30.1L935.5,29.6L936.5,15.8L937.5,15.4L938.5,34.1L939.5,34.2L940.5,30.8L941.5,31.1L942.5,20.8L943.5,20.5L944.5,29L945.5,29.5L946.5,23L947.5,23.5L948.5,34.5L949.5,34.6L950.5,13.2L953.5,12.6L954.5,27.9L955.5,27.1L956.5,9.9L957.5,9.1L958.5,28.2L959.5,27.7L960.5,9.4L961.5,9L962.5,11.5L963.5,11.2L964.5,13.9L965.5,13.6L966.5,4.6L967.5,4.3L968.5,11.8L969.5,12.4L970.5,23.7L973.4,26.4L974.4,14.1L975.4,14.6L976.4,21.2L977.4,22L978.4,26.9L979.4,27.8L980.4,21.7L983.4,25.7L984.4,19.1L985.4,19L986.4,24.7L987.4,24.6L988.4,36L989.4,36L990.4,22.2L991.4,21L992.4,14.1L993.4,13.3L994.4,28.3L995.4,29.3L996.4,36.3L997.4,36.3L998.4,25.9L999.4,26.1L1000.4,9.7L1001.4,9.6L1002.4,28L1003.4,27L1004.4,20.6L1005.4,20L1006.4,29L1007.4,28.2L1008.4,33.3L1009.4,32.5L1010.3,19.7L1011.3,19L1012.3,30L1013.3,29.2L1014.3,6.5L1015.3,5.8L1016.3,-3.2L1017.3,-3.8L1018.3,7.1L1019.3,6.9L1020.3,15.4L1021.3,15.2L1022.3,36.9L1023.3,36.9L1024.3,16.8L1025.3,17.1L1026.3,33.3L1027.3,33.2L1028.3,8.4L1029.3,7.7L1030.3,11.7L1031.3,12.4L1032.3,25.4L1033.3,25L1034.3,17L1035.3,17.3L1036.3,28L1037.3,28.3L1038.3,11.1L1039.3,11.4L1040.3,25L1041.3,26.1L1042.3,6.3L1043.3,7L1044.3,21.9L1045.3,23.6L1046.3,31.9L1047.3,33L1048.2,22.6L1049.2,23.3L1050.2,4.6L1051.2,5.2L1052.2,21.4L1055.2,23.1L1056.2,27.7L1057.2,27.7L1058.2,25.7L1059.2,25.7L1060.2,10.4L1061.2,11.1L1062.2,26.8L1063.2,27.4L1064.2,38.8L1067.2,38.9L1068.2,23.6L1070.2,22.7L1071.2,36.8L1072.2,36.3L1073.2,11.3L1074.2,10.2L1075.2,14.3L1076.2,13.3L1077.2,38.3L1078.2,37.6L1079.2,24.3L1080.2,23.8L1081.2,20.5L1082.2,20.6L1083.2,33.7L1084.2,33.8L1085.2,11.9L1086.2,12.4L1087.1,29.3L1087.1,39.6Z"/>
<path transform="translate(472.89,946.93)" d="M0,0L0,-255.5L19,-254.5L31.9,-254.9L43.9,-256.7L52.9,-252L66.8,-257.3L76.8,-267.8L87.8,-273.4L116.7,-275.7L126.7,-270.7L134.6,-263.9L151.6,-241.5L167.6,-214.1L172.5,-199.2L180.5,-194.2L187.5,-194.3L194.5,-172.6L202.5,-159.6L206.5,-165.9L211.4,-175.8L214.4,-184L215.4,-183.3L222.4,-158.3L226.4,-138.9L235.4,-182.2L238.4,-199.9L239.4,-200.7L247.4,-160.3L248.3,-158.3L259.3,-234L269.3,-156.1L270.3,-160.1L279.3,-251.4L287.2,-186.4L288.2,-187.9L297.2,-250L304.2,-191.6L305.2,-189.4L314.2,-264.4L322.2,-177L330.1,-260L331.1,-262L337.1,-204L338.1,-204L345.1,-268.7L351.1,-185L352.1,-182.9L359.1,-259.3L360.1,-256.9L367,-165.8L368,-173.4L373,-249.5L380,-150.4L385,-213.1L386,-208.3L392,-106.8L393,-103.2L398,-193.9L404.9,-113.5L411.9,-167.8L412.9,-157.1L416.9,-84L417.9,-89.5L421.9,-135.7L422.9,-135.6L427.9,-46.5L428.9,-48L433.9,-102.3L434.9,-93.9L438.8,-35.9L442.8,-72.3L446.8,-35.4L448.8,-21.9L454.8,-64L457.8,-22L458.8,-23.2L461.8,-47.5L466.8,-20.6L467.8,-20.9L468.8,-22.9L470.8,-23.8L471.8,-23.4L473.8,-28.3L474.8,-25.4L475.8,-26.6L476.7,-26.6L477.7,-28.1L478.7,-37.2L480.7,-9.6L481.7,0.2L482.7,3.7L483.7,-3L484.7,-26.3L485.7,-33.4L486.7,-33.9L489.7,-47.7L490.7,-45.9L491.7,-47.1L492.7,-43.9L495.7,-23.7L496.7,-12.2L498.7,-2L499.7,-1.2L500.7,-1.7L501.7,-3.9L503.7,-10.3L504.7,-16.8L505.7,-19.1L506.7,-19.8L507.7,-19.7L508.7,-21.1L511.7,-20.7L512.7,-18.6L513.7,-18.4L514.6,-19.3L515.6,-22.1L516.6,-23.2L519.6,-31.1L520.6,-44.6L521.6,-47.4L522.6,-43L523.6,-45.8L524.6,-38.3L525.6,-37.9L526.6,-42.6L530.6,-19.7L535.6,-14.4L537.6,-9L538.6,-12.1L541.6,-1.4L542.6,-10.8L543.6,-12.3L544.6,-7.5L545.6,-8.6L546.6,-3.4L547.6,-3.9L548.6,-12.8L549.6,-13.3L550.6,-22.7L551.6,-23.3L552.6,-8.3L553.5,-7.8L554.5,-15.3L555.5,-14.8L556.5,2.5L557.5,3L558.5,-16.4L559.5,-15.9L560.5,-3.8L561.5,-3.3L562.5,0.3L564.5,1.6L565.5,4.2L566.5,0.3L567.5,2.9L568.5,1.4L569.5,4.1L570.5,16.9L571.5,17.2L572.5,12.4L573.5,12.5L574.5,14.9L575.5,15L576.5,20.1L577.5,16.1L578.5,-3.7L579.5,-1.8L580.5,7.1L581.5,9.8L582.5,20.6L583.5,21.2L584.5,14.3L586.5,21.4L589.5,21.5L590.5,12.5L592.4,9.5L593.4,9.4L594.4,14.4L596.4,13.7L597.4,13.9L598.4,21.8L600.4,21.9L601.4,19.3L603.4,-10.5L604.4,-10.6L606.4,-21.8L607.4,-24L608.4,-34.3L609.4,-36.6L610.4,-26.8L611.4,-30L612.4,-37.4L613.4,-45.3L615.4,-91.6L616.4,-84.1L619.4,-102.7L620.4,-123.1L621.4,-130.1L622.4,-131.7L623.4,-141.9L624.4,-167.1L625.4,-177.7L626.4,-179.7L628.4,-196L631.3,-231.3L632.3,-250.3L633.3,-257.7L634.3,-256.7L636.3,-268.1L638.3,-275.3L639.3,-277L641.3,-269.1L642.3,-261.1L646.3,-214.5L648.3,-165.1L650.3,-130.6L658.3,-9.2L659.3,-0.3L663.3,21.2L664.3,24.2L667.2,23.9L668.2,18.2L669.2,15.4L670.2,15.4L673.2,3.8L674.2,4.4L675.2,2.3L679.2,-8L680.2,-12.9L681.2,-15.2L682.2,-13.3L686.2,-19.4L687.2,-20.6L688.2,-20.7L691.2,-24.5L695.2,-61L696.2,-57.9L698.2,-44.7L699.2,-44.8L700.2,-48.5L701.2,-48.7L703.2,-52.7L704.2,-51.8L705.1,-53.9L706.1,-54.3L707.1,-56.6L720.1,-105.8L725.1,-127.3L732.1,-167.4L736.1,-215.3L741.1,-294.6L742.1,-298.2L744,-288.4L745,-291.4L747,-290.6L749,-295.7L750,-305.3L752,-337.5L755,-407.8L757,-437.2L758,-439.6L759,-434.3L760,-418.6L764,-317.4L765,-306.1L767,-322.9L770,-375.5L775,-511.4L776,-524.4L779,-542.7L782.9,-530.7L784.9,-481.3L793.9,-79.7L795.9,-37.9L797.9,-13L798.9,-1.5L801.9,15.9L802.9,15.4L803.9,15.7L804.9,19.3L805.9,19.1L806.9,12L807.9,11.8L808.9,19L809.9,19.4L810.9,24L811.9,24.8L812.9,11.6L813.9,11.7L814.9,19.7L815.9,20.1L816.9,13.6L817.9,13.8L818.9,20.7L819.8,20.7L820.8,10.5L821.8,10.5L822.8,13.8L823.8,13.9L824.8,20.2L825.8,20.3L826.8,25.5L827.8,25.5L828.8,18.7L829.8,18.5L830.8,16.9L831.8,16.7L833.8,17.6L834.8,25.1L835.8,25L836.8,15.9L837.8,15.7L838.8,29.8L839.8,29.7L840.8,19.7L843.8,19.4L844.8,23.2L847.8,23.8L848.8,28.4L849.8,28.9L850.8,27.8L851.8,28.4L852.8,26.7L853.8,27.1L854.8,22.2L857.7,22.7L858.7,24.2L859.7,24.5L860.7,31.3L861.7,31.4L862.7,17.1L863.7,17.3L864.7,26.4L865.7,26.8L866.7,22.3L867.7,22.7L868.7,24.5L869.7,24.9L870.7,31.7L871.7,31.7L872.7,16.5L873.7,16.7L874.7,20.4L875.7,20.9L876.7,31.9L881.7,32.1L882.7,17.8L883.7,17.5L884.7,21.1L885.7,20.9L886.7,32.3L887.7,32.3L888.7,23.6L889.7,23.4L890.7,26.2L891.7,25.9L892.7,14.3L893.7,14.1L894.7,32.6L895.6,32.6L896.6,13.4L897.6,13.5L898.6,32.7L903.6,32.9L904.6,28.3L905.6,29.1L906.6,33L909.6,33.1L910.6,20.5L911.6,20.6L912.6,13.6L913.6,13.7L914.6,33.3L917.6,33.4L918.6,13.7L919.6,13.6L920.6,21.7L921.6,21.5L922.6,27.7L923.6,27.5L924.6,33.7L927.6,33.8L928.6,23.4L929.6,23.3L930.6,19.4L931.6,19.6L932.6,33L935.5,34.1L936.5,22L937.5,21.8L938.5,29.8L939.5,30L940.5,27.3L941.5,27.5L942.5,28.6L943.5,28.4L944.5,34.4L945.5,34.4L946.5,32.9L947.5,33.2L949.5,32.5L950.5,25.4L953.5,25.2L954.5,34.8L955.5,34.8L956.5,18.1L957.5,17.6L958.5,31.4L959.5,31.1L960.5,21.7L961.5,21.5L962.5,15.8L963.5,15.6L964.5,19.2L965.5,19L966.5,22.5L967.5,22.3L968.5,33.4L969.5,33.8L970.5,19.8L971.5,20.2L972.4,26.2L973.4,26.5L974.4,32.4L975.4,32.7L976.4,31.3L977.4,31.8L978.4,27.3L979.4,27.8L980.4,35.7L981.4,35.7L982.4,26.6L984.4,28.1L985.4,28L986.4,29.4L987.4,29.3L988.4,36L989.4,36L990.4,20.7L991.4,20.1L992.4,26.7L994.4,25.7L995.4,26.3L996.4,29.4L997.4,29.6L998.4,33.9L999.4,34.1L1000.4,18.9L1001.4,18.9L1002.4,36.5L1003.4,36.5L1004.4,34.3L1007.4,32L1008.4,26.2L1009.4,25.7L1010.3,27.3L1011.3,26.9L1012.3,36.9L1013.3,36.9L1014.3,25.7L1015.3,25.3L1016.3,14.7L1017.3,14.3L1018.3,28L1019.3,27.9L1020.3,33.8L1021.3,33.7L1022.3,37.2L1027.3,37.4L1028.3,2.2L1029.3,1.9L1030.3,20.4L1031.3,20.8L1032.3,31.1L1033.3,30.9L1034.3,36.3L1035.3,36.5L1036.3,29.3L1037.3,29.5L1038.3,33.5L1039.3,33.7L1040.3,31.7L1041.3,32.3L1042.3,5.3L1043.3,5.7L1044.3,27.7L1045.3,28.7L1046.3,38.1L1047.3,38.1L1048.2,27L1049.2,27.3L1050.2,18.3L1053.2,18.7L1054.2,32.2L1055.2,32.3L1056.2,33.6L1057.2,33.5L1058.2,28.3L1059.2,28.3L1060.2,22.9L1061.2,23.3L1062.2,29.5L1063.2,29.9L1064.2,38.8L1065.2,38.8L1066.2,35.3L1067.2,35L1068.2,23.2L1070.2,22.7L1071.2,30.5L1072.2,30.2L1073.2,16L1074.2,15.5L1075.2,37.4L1076.2,36.9L1077.2,38.7L1078.2,38.4L1079.2,21.6L1080.2,21.4L1081.2,33.1L1082.2,33.2L1083.2,27.1L1086.2,28.1L1087.1,37.7L1087.1,39.6Z"/>
<path transform="translate(470.33,951.65)" d="M0,0L0,-255.1L19,-254.4L32.9,-254.9L43.9,-256.2L52.9,-251L66.8,-255.7L76.8,-265.6L87.8,-270.1L116.7,-269.5L127.7,-262.8L134.6,-255.8L151.6,-231.7L163.6,-210.2L167.6,-202.6L172.5,-187.3L180.5,-181.5L187.5,-181L194.5,-159.7L198.5,-153.8L202.5,-149.3L212.4,-171.4L214.4,-177.5L215.4,-176.8L222.4,-150.6L226.4,-129.8L227.4,-132.5L234.4,-165.3L238.4,-187.9L239.4,-188.8L247.4,-149.6L248.3,-147.9L259.3,-224.7L269.3,-145.7L270.3,-149.2L271.3,-158.3L279.3,-238.9L287.2,-174.4L288.2,-176L297.2,-239.1L304.2,-180L305.2,-177.5L314.2,-251.5L322.2,-163.6L330.1,-247.6L331.1,-249.6L337.1,-191.1L338.1,-191L345.1,-255.8L351.1,-171.8L352.1,-169.7L359.1,-246.8L360.1,-244.4L367,-153L368,-160.7L373,-236.9L380,-137.8L385,-200.7L386,-195.9L392,-94.3L393,-90.7L398,-181.4L404.9,-100.6L411.9,-155.6L412.9,-145L416.9,-72L417.9,-77.5L421.9,-123.6L422.9,-123.5L427.9,-34.3L428.9,-35.8L433.9,-90.4L434.9,-82L438.8,-24.3L442.8,-60.4L446.8,-22.8L448.8,-9.7L451.8,-33.6L454.8,-52.2L457.8,-11L458.8,-13.8L461.8,-36.4L466.8,-12L469.8,-14.4L470.8,-16.3L471.8,-16L472.8,-13L473.8,-14.8L474.8,-14.6L477.7,-19L478.7,-23.4L481.7,11.7L482.7,10.8L483.7,3.8L484.7,-15.9L485.7,-23.2L487.7,-30.7L489.7,-43.3L490.7,-37.3L491.7,-38.5L492.7,-41.5L496.7,-3.9L498.7,10.1L499.7,10.9L500.7,1.3L502.7,-4.9L505.7,-10.5L506.7,-15.1L507.7,-15L508.7,-19L511.7,-19.4L512.7,-6.9L514.6,-6.2L515.6,-9L516.6,-17.9L519.6,-28.5L520.6,-36.1L523.6,-42.6L524.6,-31.6L525.6,-31.2L526.6,-32.4L527.6,-25.3L528.6,-26.9L529.6,-22.9L530.6,-10.4L533.6,-7L534.6,-11.1L535.6,-10.1L537.6,-3.7L538.6,-5.1L541.6,2.2L542.6,-3.6L543.6,-5.1L544.6,-2.1L545.6,-3.2L546.6,1L547.6,0.4L548.6,-5L549.6,-5.6L550.6,-9.7L551.6,-10.3L552.6,-1.9L553.5,-1.4L554.5,-3.5L555.5,-3L556.5,1.8L557.5,2.3L558.5,-5.1L559.5,-4.6L560.5,0L561.5,0.5L562.5,10.8L564.5,11.4L567.5,17.8L568.5,9.9L569.5,12.5L570.5,13.9L571.5,14.2L572.5,18.4L575.5,18.5L576.5,21L577.5,20.6L578.5,6.9L579.5,8.7L580.5,9L586.5,21.4L589.5,21.5L590.5,20.7L591.4,19.4L592.4,15L593.4,14.8L594.4,21.6L595.4,21.7L596.4,18.8L597.4,19L598.4,21.8L601.4,21.9L603.4,-6.3L604.4,-0.2L605.4,-4.4L606.4,-16.4L607.4,-18.4L608.4,-25L609.4,-27L610.4,-17.7L611.4,-20.5L613.4,-33.8L615.4,-75.8L616.4,-71.8L619.4,-86.4L620.4,-97.1L621.4,-100.3L622.4,-100.9L625.4,-125.6L626.4,-126.7L628.4,-134.5L631.3,-149L632.3,-165L633.3,-167.6L634.3,-161.4L639.3,-171L642.3,-163.5L643.3,-156.3L646.3,-126.1L648.3,-87L657.3,-3.3L658.3,10.6L661.3,23L662.3,24.1L668.2,24.3L670.2,22L673.2,11.6L675.2,8.4L681.2,-5.8L684.2,-7.4L687.2,-11L688.2,-11.3L691.2,-16L695.2,-51.1L696.2,-48.1L698.2,-35.2L699.2,-35.1L700.2,-38.6L701.2,-38.7L702.2,-37.5L705.1,-43.4L706.1,-42.6L707.1,-44.8L708.1,-50.7L711.1,-60.7L712.1,-61.2L714.1,-68.4L715.1,-75.1L720.1,-91.5L724.1,-111.5L725.1,-114.3L730.1,-141.3L733.1,-163.1L736.1,-199.4L741.1,-277.4L742.1,-280.9L744,-271.3L745,-274.2L747,-274.2L749,-279.1L750,-288.7L757,-421.4L758,-423.8L760,-400.2L764,-299.1L765,-287.9L767,-305.6L770,-358.1L775,-492.8L777,-513.2L779,-522.8L782.9,-512.3L784.9,-462.9L793.9,-67.6L795.9,-26.8L797.9,-3L798.9,6.4L801.9,20.5L803.9,19.3L804.9,22.4L805.9,21.8L806.9,17.7L807.9,17.5L808.9,24.7L809.9,25.3L810.9,29.5L811.9,29.6L812.9,18L813.9,18.1L814.9,26.9L815.9,27.2L816.9,19.5L817.9,19.7L818.9,25.5L819.8,25.5L820.8,17.1L821.8,17L822.8,18.2L823.8,18.2L824.8,27.8L825.8,27.9L826.8,26.4L827.8,26.4L828.8,22.9L831.8,22L832.8,23.8L833.8,24L834.8,28.4L835.8,28.4L836.8,18.4L837.8,18.3L838.8,30.5L839.8,30.6L840.8,27.9L841.8,27.8L842.8,24.3L843.8,24.3L844.8,26.7L845.8,27L846.8,22.5L847.8,22.8L848.8,29.4L849.8,29.7L850.8,26.8L851.8,27.2L852.8,31.1L853.8,31.1L854.8,26.1L855.8,26.4L856.8,24.7L857.7,24.9L858.7,31.3L861.7,31.4L862.7,15L863.7,15L864.7,28.4L865.7,28.6L866.7,19.2L867.7,19.3L868.7,27.5L869.7,27.8L870.7,31.7L871.7,31.7L872.7,26.7L875.7,27.4L876.7,22.4L877.7,22.6L878.7,32L881.7,32.1L882.7,27.4L883.7,27.2L884.7,14.6L885.7,14.6L886.7,32.3L887.7,32.3L888.7,22.2L889.7,22.1L890.7,29.9L891.7,29.8L892.7,28.1L893.7,28L894.7,23.1L895.6,23.2L896.6,20L897.6,20.1L898.6,32.7L901.6,32.1L902.6,32.9L909.6,33.1L910.6,31.6L911.6,31.7L912.6,14.6L913.6,14.7L914.6,33.3L915.6,33.3L916.6,30.6L917.6,30.5L918.6,33.5L919.6,33.5L920.6,26.1L921.6,26L922.6,33.6L927.6,33.8L928.6,18L929.6,18L930.6,22.5L933.6,24L934.5,34L935.5,34.1L936.5,31.1L937.5,31L938.5,34.2L939.5,34.2L940.5,21.6L941.5,21.7L942.5,34.3L943.5,34.4L944.5,31L945.5,31.2L946.5,30.5L947.5,30.7L948.5,33.8L949.5,33.8L950.5,24.7L951.5,24.7L952.5,14L953.5,13.9L954.5,34.8L955.5,34.8L956.5,22.3L957.5,22L958.5,34.7L959.5,34.6L960.5,23.5L961.5,23.4L962.5,25L963.5,24.8L964.5,31.4L965.5,31.3L966.5,20.4L967.5,20.3L968.5,29.8L969.5,30.1L970.5,29.1L973.4,29.5L974.4,27.7L975.4,27.9L976.4,34.3L977.4,34.6L978.4,28.5L979.4,28.8L980.4,35.7L981.4,35.7L982.4,31.6L983.4,32.3L984.4,20.9L985.4,20.9L986.4,35.9L989.4,36L990.4,25.8L991.4,25.4L992.4,21.9L993.4,21.6L994.4,30L995.4,30.4L996.4,36.3L997.4,36.3L998.4,23.6L999.4,23.7L1000.4,21L1001.4,21L1002.4,36.5L1003.4,36.5L1004.4,24.9L1005.4,24.7L1006.4,27.2L1007.4,27L1008.4,31.6L1009.4,31.3L1010.3,23.3L1011.3,23L1012.3,36.9L1013.3,36.9L1014.3,15.8L1015.3,15.6L1016.3,17.6L1017.3,17.4L1018.3,27.7L1019.3,27.7L1020.3,25.1L1021.3,25.1L1022.3,37.2L1023.3,37.3L1024.3,31.2L1025.3,31.3L1026.3,37.4L1027.3,37.4L1028.3,16.7L1029.3,16.4L1030.3,35.3L1031.3,35.6L1032.3,37.6L1033.3,37.6L1034.3,29.1L1035.3,29.2L1036.3,31.9L1037.3,32.1L1038.3,37.8L1041.3,37.9L1042.3,21.9L1043.3,22.2L1044.3,38L1045.3,38.1L1046.3,37.3L1047.3,37.7L1048.2,30.7L1051.2,31L1052.2,17.9L1053.2,18.1L1054.2,38.4L1055.2,38.4L1056.2,28.9L1057.2,28.9L1058.2,32L1059.2,32L1060.2,28.6L1061.2,28.9L1062.2,26.3L1063.2,26.5L1064.2,36.2L1065.2,36.4L1066.2,38.8L1067.2,38.9L1068.2,34.8L1070.2,34.5L1071.2,39L1072.2,39L1073.2,30.8L1074.2,30.5L1075.2,39.2L1076.2,39.2L1077.2,36.7L1078.2,36.4L1079.2,31.5L1080.2,31.4L1081.2,36.6L1082.2,36.7L1083.2,31.5L1084.2,31.6L1085.2,22.9L1086.2,23L1087.1,39.6L1087.1,39.6Z"/>
<path transform="translate(467.77,956.37)" d="M0,0L0,-254.7L19,-254.2L43.9,-255.7L52.9,-250.1L66.8,-254L76.8,-263.5L87.8,-266.9L116.7,-263.3L127.7,-255.4L134.6,-247.7L151.6,-221.9L163.6,-199.2L167.6,-191.1L172.5,-175.4L180.5,-168.9L187.5,-167.8L193.5,-149.3L194.5,-147.1L197.5,-143.6L202.5,-140.6L214.4,-174L215.4,-173.3L221.4,-150.3L226.4,-122.7L227.4,-124.6L233.4,-149.3L238.4,-176.2L239.4,-177.2L247.4,-140.5L248.3,-139.3L252.3,-170.5L259.3,-217.3L265.3,-172.1L269.3,-137.3L270.3,-140L272.3,-157.1L279.3,-226.7L287.2,-163.9L288.2,-165.9L297.2,-229.9L304.2,-170.4L305.2,-167.6L314.2,-239L322.2,-150.5L330.1,-235.4L331.1,-237.4L337.1,-178.4L338.1,-178.2L345.1,-243L351.1,-158.5L352.1,-156.4L359.1,-234.2L360.1,-231.9L367,-140.2L368,-147.8L373,-224.2L380,-125L385,-188.2L386,-183.5L392,-81.8L393,-78.2L398,-169L404.9,-87.7L411.9,-143.5L412.9,-132.8L416.9,-60L417.9,-65.5L421.9,-111.6L422.9,-111.4L427.9,-22.1L428.9,-23.7L433.9,-78.6L434.9,-70.2L438.8,-12.6L442.8,-48.5L446.8,-12.1L448.8,1.3L453.8,-36.3L454.8,-39.6L457.8,0.9L458.8,-1.1L461.8,-25.5L466.8,-2.7L467.8,-3.4L468.8,-3L470.8,-4.4L472.8,-4.3L473.8,-6.2L474.8,-4.6L476.7,-6.4L477.7,-8L478.7,-14.9L481.7,17.3L482.7,17.3L483.7,10.1L484.7,-8L485.7,-15.5L486.7,-15.7L489.7,-29.4L490.7,-26.4L491.7,-27.5L492.7,-33.8L496.7,6.1L497.7,11.1L499.7,13.4L500.7,7.5L501.7,5.1L502.7,8.2L503.7,5.8L504.7,-3.2L506.7,-9.9L507.7,-9.8L508.7,-8.3L511.7,-7.8L512.7,-2.6L513.7,-2.5L514.6,-0.5L517.6,-11.7L518.6,-22.6L521.6,-32.1L522.6,-28.9L523.6,-31.7L524.6,-23L525.6,-22.7L526.6,-31.2L530.6,-6.3L531.6,-5.3L532.6,-5.8L533.6,-4.7L534.6,-5.4L535.6,-4.4L536.6,0.5L537.6,2.8L538.6,2.1L541.6,9.9L542.6,3.5L543.6,2L544.6,2.5L547.6,-0.3L548.6,1.8L551.6,-1.6L552.6,3.8L553.5,4.3L554.5,2.4L555.5,2.9L556.5,8.6L557.5,9L558.5,-0.2L559.5,0.3L560.5,5.8L561.5,6.3L562.5,14.8L563.5,15.3L564.5,13L565.5,15.6L566.5,11.9L569.5,20.7L577.5,21L578.5,12.3L579.5,14.1L580.5,20.9L601.4,21.9L602.4,16.2L603.4,1.3L606.4,-10.2L607.4,-11.9L608.4,-18.9L609.4,-20.6L610.4,-15.8L611.4,-18.3L613.4,-31.9L615.4,-68.2L616.4,-65.3L617.4,-70.9L618.4,-72.4L620.4,-83.4L622.4,-88.4L623.4,-93.8L624.4,-110.1L625.4,-114.8L626.4,-115.1L629.3,-125.5L630.3,-126.8L631.3,-130.9L632.3,-139.4L633.3,-141.4L634.3,-141.2L635.3,-143L636.3,-141L637.3,-142.5L638.3,-147L639.3,-148L642.3,-137.3L645.3,-115.7L648.3,-69.8L654.3,-21.3L658.3,17.5L659.3,22.6L660.3,24L671.2,24.4L673.2,18.3L674.2,18.3L675.2,16.4L678.2,7.9L681.2,1.7L682.2,4L686.2,-1.6L687.2,-2.6L688.2,-1.6L691.2,-5.4L695.2,-40.7L696.2,-37.7L698.2,-24.3L699.2,-24.2L700.2,-25.7L701.2,-25.7L703.2,-30L704.2,-28.9L707.1,-34.5L720.1,-79.2L725.1,-100.3L727.1,-112.9L730.1,-126.7L733.1,-148.3L737.1,-197.7L741.1,-260L742.1,-263.5L744,-254.9L745,-257L746,-256.8L747,-258.1L749,-262.6L750,-272.1L752,-303.9L755,-372.2L757,-402.9L758,-405.3L759,-399.5L760,-383.8L764,-281.4L765,-271.2L767,-288.7L770,-341.5L775,-476.1L776,-488.7L779,-506.7L782.9,-495L784.9,-446.6L793.9,-55.7L795.9,-16.6L797.9,5.1L798.9,14.1L801.9,26.1L802.9,24.6L803.9,24.1L804.9,27.9L805.9,27.2L806.9,23.6L807.9,23.5L808.9,21.7L809.9,21.7L810.9,29.5L811.9,29.6L812.9,19.9L813.9,20.1L814.9,26.1L815.9,26.4L816.9,22.7L817.9,22.9L818.9,29.7L819.8,29.7L820.8,22.5L821.8,22.5L822.8,18.4L823.8,18.4L824.8,30L827.8,30.1L828.8,25L829.8,25L830.8,30.3L833.8,30.4L834.8,27.7L837.8,27.2L838.8,30.5L839.8,30.6L840.8,29.2L841.8,29.2L842.8,30.7L843.8,30.7L844.8,27.4L845.8,27.6L846.8,30.8L847.8,30.9L848.8,24L849.8,24.2L850.8,31L861.7,31.4L862.7,26.8L865.7,26.1L866.7,21.5L867.7,21.6L868.7,25.5L869.7,25.6L870.7,31.7L871.7,31.7L872.7,26.5L873.7,26.6L874.7,28.7L875.7,28.9L876.7,31.8L877.7,31.9L878.7,29.4L879.7,29.4L880.7,32.1L881.7,32.1L882.7,24L883.7,23.9L884.7,14.5L885.7,14.4L886.7,32.3L887.7,32.3L888.7,24.8L889.7,24.8L890.7,32.4L891.7,32.5L892.7,25.5L893.7,25.5L894.7,32.4L897.6,31.5L898.6,32.7L903.6,32.9L904.6,30.2L905.6,30.5L906.6,33L909.6,32.2L910.6,25.2L911.6,25.3L912.6,17.3L913.6,17.4L914.6,33.3L919.6,33.5L920.6,30.6L921.6,30.6L922.6,33L927.6,33.8L928.6,30.6L929.6,30.7L930.6,24.9L931.6,25L932.6,31.4L933.6,31.5L934.5,34L935.5,34.1L936.5,28.4L937.5,28.3L938.5,34.2L939.5,34.2L940.5,25.8L941.5,25.9L942.5,34.3L945.5,34.4L946.5,30.2L947.5,30.4L948.5,34.5L949.5,34.6L950.5,19.5L953.5,18.8L954.5,34.8L955.5,34.8L956.5,31.3L957.5,31.2L958.5,34.9L959.5,34.9L960.5,32L961.5,32L962.5,21.8L963.5,21.8L964.5,31.6L965.5,31.5L966.5,26.4L967.5,26.3L968.5,34.9L971.5,35.4L972.4,29.5L973.4,29.7L974.4,26.4L975.4,26.5L976.4,35.6L979.4,35.7L980.4,33.8L981.4,34L982.4,30.7L983.4,31L984.4,33.8L985.4,33.8L986.4,35.9L989.4,36L990.4,26.7L991.4,26.5L992.4,28.9L993.4,28.8L994.4,30.1L995.4,30.3L996.4,36.3L997.4,36.3L998.4,35.1L999.4,35.2L1000.4,20.4L1001.4,20.4L1002.4,36.5L1003.4,36.5L1004.4,29.2L1005.4,29.1L1006.4,36.6L1009.4,36.8L1010.3,29L1011.3,28.9L1012.3,36.9L1013.3,36.9L1014.3,27.5L1017.3,26.4L1018.3,28.7L1019.3,28.7L1020.3,33.7L1021.3,33.7L1022.3,37.2L1023.3,37.3L1024.3,28.6L1025.3,28.7L1026.3,37.4L1027.3,37.4L1028.3,25.1L1029.3,25L1030.3,37.5L1035.3,37.7L1036.3,36.8L1039.3,37.8L1040.3,36.2L1041.3,36.5L1042.3,28.6L1043.3,28.8L1044.3,38L1047.3,38.1L1048.2,34.7L1049.2,34.9L1050.2,36.7L1051.2,36.9L1052.2,32.9L1053.2,33L1054.2,34.3L1055.2,34.4L1056.2,32.1L1059.2,31.8L1060.2,26.9L1061.2,27.1L1062.2,33L1063.2,33.2L1064.2,38.1L1067.2,38.9L1068.2,37.5L1070.2,37.3L1071.2,39L1072.2,39L1073.2,27.3L1074.2,27.1L1075.2,28.3L1076.2,28.2L1077.2,39.2L1080.2,39.3L1081.2,35.6L1082.2,35.7L1083.2,29.8L1086.2,31L1087.1,39.6L1087.1,39.6Z"/>
<path transform="translate(465.20,961.08)" d="M0,0L0,-254.3L19,-254L43.9,-255.1L52.9,-249.1L66.8,-252.4L76.8,-261.3L87.8,-263.6L116.7,-257.1L127.7,-248.1L134.6,-239.7L151.6,-212L163.6,-188.1L167.6,-179.7L172.5,-163.4L180.5,-156.2L187.5,-154.7L192.5,-139.3L194.5,-135.2L195.5,-134.2L198.5,-133L202.5,-134.5L209.5,-159.8L214.4,-174.7L215.4,-174.1L221.4,-149.9L226.4,-118.9L227.4,-119.5L228.4,-122.2L232.4,-135.1L236.4,-152.4L238.4,-164.8L239.4,-166L244.4,-144.1L247.4,-133.7L248.3,-133.4L253.3,-173.4L259.3,-212.9L264.3,-176.3L269.3,-131.9L270.3,-133.5L273.3,-156.5L279.3,-214.8L287.2,-155.4L288.2,-157.8L297.2,-222.8L304.2,-163.3L305.2,-160L308.2,-179.5L314.2,-226.9L322.2,-137.4L330.1,-223.3L331.1,-225.3L337.1,-165.9L338.1,-165.6L345.1,-230.3L351.1,-145.2L352.1,-143.1L359.1,-221.6L360.1,-219.2L367,-127.3L368,-134.9L373,-211.6L380,-112.2L385,-175.7L386,-171L392,-69.1L393,-65.5L398,-156.5L404.9,-74.9L411.9,-131.3L412.9,-120.7L416.9,-48L417.9,-53.5L421.9,-99.5L422.9,-99.3L427.9,-10.1L428.9,-11.7L433.9,-66.9L434.9,-58.6L438.8,-1.3L442.8,-37.3L445.8,-9.4L448.8,12.2L454.8,-30.8L457.8,10.4L458.8,9.6L461.8,-12.2L462.8,-12.1L466.8,9.4L469.8,6.7L470.8,5.1L471.8,5.2L472.8,4.5L473.8,2.6L475.8,0.7L476.7,1L478.7,-2.6L480.7,14.7L481.7,17.5L482.7,17.6L483.7,16.6L485.7,-6.6L486.7,-8.9L487.7,-13.9L489.7,-27L490.7,-25.2L491.7,-26.5L492.7,-26.7L496.7,9.1L498.7,18.2L500.7,17.7L503.7,7.4L504.7,6.4L505.7,4L507.7,3.5L508.7,-2.5L509.7,-2.5L510.7,-3.9L511.7,-3.8L512.7,1.7L513.7,1.7L514.6,6.3L515.6,3.5L516.6,-4.9L519.6,-14L520.6,-20.7L521.6,-23.6L522.6,-21.2L523.6,-24.1L525.6,-22.9L526.6,-20.3L527.6,-13.3L529.6,-5.7L530.6,2.2L531.6,3.2L532.6,2.1L533.6,3.1L534.6,0.5L535.6,1.6L541.6,18.5L542.6,9.2L543.6,7.6L544.6,11.9L545.6,10.8L546.6,12.7L547.6,12.1L548.6,7.1L551.6,4.6L552.6,7.9L553.5,8.3L554.5,10.3L555.5,10.8L556.5,18.8L557.5,19.3L558.5,4.6L559.5,5.1L560.5,14.9L561.5,15.3L562.5,20.5L563.5,20.5L564.5,18.1L565.5,20.6L577.5,21L578.5,18.2L580.5,21.1L602.4,21.9L603.4,10.6L604.4,12.9L605.4,9.2L606.4,-0.2L609.4,-3.9L612.4,-11.1L613.4,-17.8L615.4,-56.2L616.4,-56L617.4,-61.4L618.4,-63.4L620.4,-74.1L621.4,-76.6L625.4,-100.9L631.3,-122.9L632.3,-135.9L633.3,-138.1L634.3,-133.4L637.3,-138.6L638.3,-143.9L639.3,-144.9L642.3,-132.3L646.3,-102.6L648.3,-65.7L655.3,-7.2L658.3,22.7L659.3,24L674.2,24.5L679.2,15.8L680.2,11.7L681.2,9.9L682.2,10.7L689.2,5.3L690.2,5.5L691.2,4.7L695.2,-29.4L696.2,-26.7L698.2,-13.6L699.2,-13.3L700.2,-16L702.2,-16.1L705.1,-21L706.1,-20.6L707.1,-22.5L720.1,-66L727.1,-97.1L732.1,-125L734.1,-144.3L741.1,-242.8L742.1,-246.2L743.1,-243.9L744,-238.5L745,-241.3L747,-241.4L748,-242.9L749,-246.3L750,-255.7L757,-388.3L758,-390.8L760,-366.9L764,-265.5L765,-253.3L767,-272.9L770,-324.9L775,-458.7L777,-479.3L779,-489.6L782.9,-479.1L783.9,-459.7L787.9,-313.5L791.9,-116.2L793.9,-42.7L796.9,3.8L798.9,21L800.9,29L805.9,29.3L806.9,27.4L807.9,27.1L808.9,22.7L809.9,22.3L810.9,29.5L811.9,29.6L812.9,25L813.9,25.1L814.9,26.9L815.9,27L816.9,28.7L817.9,28.8L818.9,29.8L819.8,29.9L820.8,27.4L821.8,27.4L822.8,29.6L829.8,30.2L830.8,27.3L831.8,27.3L832.8,30.2L835.8,30.4L836.8,28.1L837.8,28.1L838.8,30.5L843.8,30.7L844.8,26.5L845.8,26.5L846.8,30.8L857.7,31.2L858.7,29.7L859.7,29.7L860.7,31.3L861.7,31.4L862.7,26.6L863.7,26.6L864.7,24.8L865.7,24.8L867.7,25L868.7,26.7L869.7,26.7L870.7,31.7L871.7,31.7L872.7,24L873.7,24L874.7,31.9L875.7,31.9L876.7,29.7L877.7,29.7L878.7,30.7L879.7,30.7L880.7,32.1L881.7,32.1L882.7,27L883.7,27L884.7,23.6L885.7,23.6L886.7,32.3L887.7,32.3L888.7,27.6L889.7,27.6L890.7,32.4L893.7,31.6L894.7,32.6L895.6,32.6L896.6,26.2L897.6,26.2L898.6,32.7L911.6,33.2L912.6,22.8L913.6,22.9L914.6,33.3L917.6,32.9L919.6,33.5L920.6,30.3L921.6,30.3L922.6,33.6L927.6,33.8L928.6,29L929.6,29L930.6,27.8L931.6,27.9L932.6,32.4L933.6,32.4L934.5,34L939.5,34.2L940.5,28.5L941.5,28.6L943.5,29L944.5,34.4L949.5,34.6L950.5,33.2L951.5,33.3L952.5,31L953.5,31.1L954.5,34.8L959.5,34.6L960.5,30.3L961.5,30.3L962.5,32.7L963.5,32.7L964.5,35.1L965.5,35.2L966.5,32L967.5,32.1L968.5,33.6L969.5,33.6L970.5,35.3L975.4,35.5L976.4,34.1L977.4,34.1L978.4,31.8L979.4,31.9L980.4,35.7L981.4,35.7L982.4,32.4L985.4,31.8L986.4,35.9L989.4,36L990.4,30.9L991.4,30.9L992.4,22.3L993.4,22.3L994.4,34.5L995.4,34.6L996.4,36.3L999.4,36.4L1000.4,28.7L1001.4,28.7L1002.4,36.5L1003.4,36.5L1004.4,35.8L1005.4,35.8L1006.4,36.6L1009.4,36.8L1010.3,31.6L1011.3,31.7L1012.3,36.9L1015.3,37L1016.3,29.2L1017.3,29.3L1018.3,32.7L1019.3,32.7L1020.3,37.2L1027.3,37.4L1028.3,31.7L1029.3,31.7L1030.3,37.5L1041.3,37.9L1042.3,29.3L1043.3,29.4L1044.3,38L1049.2,38.2L1050.2,27.4L1051.2,27.4L1052.2,33.2L1053.2,33.3L1054.2,38.4L1057.2,38.5L1058.2,37L1059.2,37L1060.2,34.8L1062.2,34.8L1063.2,34.8L1064.2,38.8L1072.2,39L1073.2,26.9L1074.2,27L1075.2,39.2L1084.2,39.3L1085.2,34.7L1086.2,34.7L1087.1,39.6L1087.1,39.6Z"/>
<path transform="translate(462.64,965.80)" d="M0,0L0,-177.1L19,-176.1L32.9,-176.4L43.9,-177.5L52.9,-172.1L66.8,-176.4L76.8,-186.1L87.8,-191.1L116.7,-191.6L133.6,-182.1L151.6,-164.2L167.6,-141.8L172.5,-129L180.5,-127.2L187.5,-130.9L191.5,-121.4L194.5,-117.2L196.5,-117.9L198.5,-120L202.5,-128.3L209.5,-163.6L214.4,-180.9L215.4,-180.5L220.4,-160.5L223.4,-142.6L226.4,-119.5L227.4,-118.4L230.4,-122.3L233.4,-129.8L236.4,-141.6L238.4,-153.9L239.4,-155.5L241.4,-146.5L244.4,-136.9L247.4,-130.2L248.3,-131.2L253.3,-173.6L259.3,-212.5L264.3,-176.9L269.3,-130.6L270.3,-130.8L273.3,-149.1L279.3,-203.4L287.2,-149.4L288.2,-152.6L297.2,-218.4L300.2,-196.2L304.2,-159.4L305.2,-155.4L308.2,-171.5L314.2,-215.4L322.2,-125.6L330.1,-212.2L331.1,-214.2L337.1,-154.6L338.1,-154.1L345.1,-217.9L351.1,-131.8L352.1,-129.7L359.1,-209L360.1,-206.7L367,-114.4L368,-122.1L373,-199.2L380,-99.7L385,-163.5L386,-158.7L392,-56.7L393,-53.1L398,-144.3L404.9,-62.5L411.9,-119.5L412.9,-109L416.9,-36.4L417.9,-41.9L421.9,-87.9L422.9,-87.6L427.9,1.3L428.9,-0.4L433.9,-55.7L434.9,-47.5L438.8,9.6L442.8,-26.3L447.8,16.3L448.8,16.3L449.8,14.7L454.8,-20L457.8,16.7L458.8,16.7L461.8,-5.5L466.8,17L467.8,17L469.8,13.8L471.8,13.4L475.8,8.4L476.7,9.1L478.7,4.4L479.7,13.5L480.7,17.5L483.7,17.6L485.7,1.9L488.7,-15.2L489.7,-19.7L491.7,-21.4L493.7,-10.3L495.7,7.9L497.7,18.1L501.7,18.2L502.7,17.1L505.7,11.3L506.7,4.7L511.7,5.4L512.7,9.2L513.7,9.2L514.6,10.8L515.6,8L516.6,0.9L519.6,-6.8L521.6,-15L522.6,-11.7L524.6,-16.7L525.6,-16.3L526.6,-14.1L529.6,2.1L531.6,4.6L532.6,7.6L535.6,10.3L537.6,15.4L538.6,15.3L540.6,19.7L541.6,19.7L543.6,15.2L544.6,17.3L545.6,16.2L546.6,19.6L547.6,18.9L548.6,12.5L551.6,10.7L552.6,14L553.5,14.4L554.5,17.2L555.5,17.7L556.5,19.7L557.5,20.2L558.5,15.3L559.5,15.7L560.5,19.1L562.5,20.5L602.4,21.9L603.4,18.1L604.4,18.9L605.4,15.7L606.4,8.6L607.4,7.7L608.4,4.1L609.4,3.2L610.4,6.6L611.4,4.9L612.4,0.6L613.4,-5.5L615.4,-42.9L616.4,-40.3L622.4,-64.4L624.4,-83L625.4,-88.9L626.4,-90.7L628.4,-99.8L632.3,-124.4L633.3,-127.3L634.3,-125.6L636.3,-131.5L639.3,-135.9L640.3,-135.6L642.3,-126.7L645.3,-103.9L646.3,-94.5L648.3,-58L658.3,24L678.2,24.7L681.2,18.2L682.2,19L684.2,18.1L687.2,15.3L688.2,15.7L689.2,15L691.2,12.7L695.2,-21L698.2,-3.8L699.2,-3.4L700.2,-5.9L701.2,-5.6L702.2,-6.3L707.1,-12.8L711.1,-25.4L712.1,-26.2L714.1,-32.7L715.1,-38L722.1,-60.8L726.1,-78.8L732.1,-110.6L734.1,-129L741.1,-226.6L742.1,-229.9L744,-221.3L745,-224.6L747,-224.9L748,-226.6L749,-230.1L751,-252.5L755,-339.1L757,-369.6L758,-372L759,-366L760,-350.3L764,-248.8L765,-237.6L767,-257.5L770,-310.1L775,-442.3L776,-454.7L779,-472.7L782.9,-462.3L783.9,-443.1L787.9,-299L791.9,-105.6L793.9,-32.9L795.9,1.7L798.9,25.9L799.9,28.6L800.9,29.2L805.9,29.3L807.9,28.5L808.9,27.3L809.9,27.3L810.9,29.5L811.9,29.6L812.9,24.9L813.9,25L814.9,29.7L815.9,29.7L816.9,28.6L817.9,28.6L818.9,29.8L819.8,29.9L820.8,28.2L821.8,28.3L822.8,25.3L823.8,25.3L824.8,30L829.8,30.2L830.8,28L831.8,28L832.8,29.9L835.8,30.4L836.8,26.8L837.8,26.8L838.8,30.5L843.8,30.7L844.8,27.6L845.8,27.6L846.8,30.8L853.8,31.1L854.8,28.5L855.8,28.5L856.8,31.2L857.7,31.2L858.7,29.7L859.7,29.7L860.7,31.3L863.7,31.5L864.7,29.1L867.7,29.8L868.7,26.3L869.7,26.2L870.7,31.7L871.7,31.7L872.7,24L873.7,24L874.7,29.7L877.7,29L878.7,31.1L881.7,32.1L882.7,26.9L883.7,27L884.7,23.4L885.7,23.4L886.7,32.3L889.7,31.5L890.7,32.4L891.7,32.5L892.7,29.1L895.6,28.5L896.6,25.5L897.6,25.5L898.6,32.7L903.6,32.9L904.6,32L909.6,33.1L910.6,28.3L911.6,28.3L912.6,18.8L913.6,18.8L914.6,33.3L917.6,33.4L918.6,28.1L919.6,28.2L920.6,33.5L927.6,33.8L928.6,25.9L929.6,25.9L930.6,33.9L935.5,34.1L936.5,31.6L937.5,31.6L938.5,32.8L939.5,32.9L940.5,31.2L941.5,31.2L942.5,34.3L951.5,34.6L952.5,23.5L953.5,23.5L954.5,34.8L957.5,34.2L958.5,34.9L961.5,35L962.5,28.7L963.5,28.8L964.5,35.1L967.5,34.5L968.5,32.9L969.5,33L970.5,35.3L975.4,35.1L977.4,35.6L978.4,29.9L979.4,29.9L980.4,35.7L981.4,35.7L982.4,30.6L985.4,30.7L986.4,35.9L989.4,36L990.4,30.6L993.4,31.8L994.4,36.2L999.4,36.4L1000.4,27.3L1001.4,27.3L1002.4,36.5L1009.4,36.8L1010.3,28L1011.3,28.1L1012.3,36.9L1017.3,36.4L1018.3,32.6L1019.3,32.6L1020.3,37.2L1027.3,37.4L1028.3,25.1L1029.3,25.2L1030.3,37.5L1038.3,37.4L1041.3,37.9L1042.3,31.4L1043.3,31.4L1044.3,38L1047.3,38L1048.2,36.4L1049.2,36.4L1050.2,27.7L1051.2,27.8L1052.2,31.7L1053.2,31.8L1054.2,38.4L1057.2,38.5L1058.2,37.8L1061.2,38.6L1062.2,37L1063.2,37L1064.2,38.8L1072.2,39L1073.2,33.6L1074.2,33.6L1075.2,34.8L1076.2,34.8L1077.2,39.2L1084.2,39.5L1085.2,34.2L1086.2,34.2L1087.1,39.6L1087.1,39.6Z"/>
<path transform="translate(460.08,970.52)" d="M0,0L0,-98.6L19,-94L31.9,-91.8L43.9,-91.9L52.9,-85.9L66.8,-89.2L76.8,-98.3L87.8,-105.3L116.7,-111.2L127.7,-107L134.6,-105.6L151.6,-95.1L164.6,-82.2L172.5,-71.9L180.5,-80.1L187.5,-93.1L191.5,-90.1L193.5,-90.1L194.5,-91.2L196.5,-96.3L199.5,-107.9L202.5,-123.3L209.5,-173L211.4,-182.8L214.4,-193.6L215.4,-193.5L216.4,-190.6L220.4,-173.3L223.4,-152.7L226.4,-126.1L227.4,-122.6L229.4,-120.3L230.4,-119.9L232.4,-121.2L234.4,-125L237.4,-136.3L238.4,-143.8L239.4,-145.9L241.4,-138.5L244.4,-132.3L245.4,-131.4L247.4,-130.7L248.3,-133.4L253.3,-178.8L259.3,-216.7L264.3,-182.6L269.3,-134.3L270.3,-132.5L273.3,-144.5L276.3,-165.1L279.3,-192.6L284.3,-161.2L287.2,-146.3L288.2,-150.3L293.2,-190.7L297.2,-216.8L300.2,-195.7L304.2,-158.8L305.2,-154L307.2,-161.1L309.2,-171.5L314.2,-204.6L322.2,-115L330.1,-202L331.1,-204L337.1,-144.5L338.1,-143.7L345.1,-205.9L351.1,-118.4L352.1,-116.3L359.1,-196.4L360.1,-194.1L367,-101.4L368,-109.2L373,-186.7L380,-87.2L385,-151.3L386,-146.5L392,-44.3L393,-40.8L398,-132.2L404.9,-50.4L411.9,-107.9L412.9,-97.5L416.9,-25.1L417.9,-30.6L421.9,-76.3L422.9,-76.1L427.9,12.3L428.9,10.6L433.9,-44.7L438.8,16L439.8,12.2L442.8,-15.6L445.8,12L446.8,16.3L450.8,16.4L454.8,-10.4L456.8,15.6L457.8,16.7L459.8,16.7L460.8,14.7L461.8,6.4L462.8,8.4L464.8,16.9L475.8,17.3L478.7,13.4L479.7,17.5L484.7,17.7L486.7,3.1L489.7,-12.9L490.7,-12.9L492.7,-15.9L493.7,-8.9L494.7,8.6L495.7,16L496.7,18.1L504.7,18.4L505.7,16.1L509.7,14.9L510.7,12.6L511.7,12.7L512.7,15.9L514.6,16.6L515.6,13.8L516.6,7.2L519.6,-0.2L520.6,-6.5L523.6,-13.2L524.6,-10.4L526.6,-10.1L530.6,12.5L531.6,13.6L532.6,17.6L533.6,18.6L534.6,12L535.6,13L536.6,19.5L547.6,19.9L548.6,18.2L551.6,16.9L552.6,20.1L605.4,22L607.4,21.4L608.4,18.5L610.4,18.6L612.4,17.3L613.4,11.9L615.4,-22.6L616.4,-19.5L619.4,-31.1L620.4,-32.6L621.4,-32.7L623.4,-40.9L624.4,-51.7L625.4,-54.8L626.4,-51.1L629.3,-55.7L631.3,-55.8L632.3,-60.3L633.3,-58.4L634.3,-51.2L635.3,-49.6L637.3,-48.3L638.3,-50.1L639.3,-50.4L642.3,-44.2L646.3,-31.3L648.3,-5.7L652.3,5.7L656.3,23.9L686.2,24.9L691.2,21.8L695.2,-12.6L698.2,5L699.2,5.5L700.2,4.9L701.2,5.4L703.2,2.2L704.2,2.5L707.1,-1.1L712.1,-15.3L720.1,-40.9L725.1,-60.4L731.1,-90L735.1,-125L741.1,-209L742.1,-212.4L743.1,-210.5L744,-205.3L745,-207.8L746,-207.9L747,-208.8L749,-214.3L750,-223.7L757,-353.5L758,-355.9L759,-349L760,-333.4L764,-233.4L765,-222.2L767,-241.9L770,-294.9L775,-426.9L776,-439.2L779,-456L782.9,-445.4L783.9,-426.5L787.9,-286.2L791.9,-94.1L793.9,-22.9L795.9,9.7L797.9,25.4L798.9,29.1L805.9,29.3L807.9,27.9L808.9,29.5L811.9,29.6L812.9,27.8L813.9,27.9L814.9,29.7L815.9,29.7L816.9,27.6L817.9,27.7L818.9,29.8L819.8,29.9L820.8,27.7L823.8,27L824.8,30L827.8,30.1L828.8,28L829.8,28L830.8,25.8L831.8,25.8L832.8,28.3L833.8,28.3L834.8,30.4L835.8,30.4L836.8,28.7L837.8,28.7L838.8,30.5L843.8,30.7L844.8,26.7L845.8,26.7L846.8,30.8L865.7,31.5L866.7,26L867.7,25.9L868.7,30.1L869.7,30.1L870.7,31.7L871.7,31.7L872.7,28.8L873.7,28.8L874.7,30.6L877.7,30.6L878.7,32L881.7,32.1L882.7,29.3L883.7,29.3L884.7,18.3L885.7,18.3L886.7,32.3L887.7,32.3L888.7,27.8L889.7,27.9L890.7,32.4L891.7,32.5L892.7,30.7L893.7,30.8L894.7,32.6L895.6,32.6L896.6,25.4L897.6,25.5L898.6,32.7L909.6,32.9L910.6,30.7L911.6,30.8L912.6,26.5L913.6,26.6L914.6,33.3L927.6,33.8L928.6,27.4L929.6,27.4L930.6,23.8L931.6,23.8L932.6,32L933.6,32.1L934.5,34L935.5,34.1L936.5,31.2L937.5,31.2L938.5,34.2L939.5,34.2L940.5,30.3L941.5,30.3L942.5,34.3L945.5,34.4L946.5,32.6L947.5,32.6L948.5,34.5L949.5,34.6L950.5,31.2L951.5,31.2L952.5,29.8L953.5,29.8L954.5,34.8L959.5,34.9L960.5,30.7L963.5,31.7L964.5,35.1L965.5,35.2L966.5,26.1L967.5,26.2L968.5,35.3L973.4,35.4L974.4,33.7L975.4,33.7L976.4,35.6L981.4,35.7L982.4,32.8L983.4,32.9L984.4,29.6L985.4,29.6L986.4,35.9L989.4,36L990.4,34.9L993.4,34L994.4,36.2L997.4,36.3L998.4,32.1L999.4,32.2L1000.4,33.4L1001.4,33.5L1002.4,36.5L1003.4,36.5L1004.4,30.4L1005.4,30.4L1006.4,36.6L1013.3,36.9L1014.3,35.8L1015.3,35.8L1016.3,29.5L1017.3,29.5L1018.3,34.8L1021.3,35.9L1022.3,37.2L1027.3,37.4L1028.3,35.7L1029.3,35.8L1030.3,37.5L1041.3,37.9L1042.3,34.7L1043.3,34.8L1044.3,38L1047.3,38.1L1049.2,37.7L1050.2,33L1051.2,33.1L1052.2,31.3L1053.2,31.4L1054.2,38.4L1055.2,38.4L1056.2,35.3L1057.2,35.3L1058.2,36.6L1060.2,36L1063.2,36.5L1064.2,38.8L1067.2,38.9L1068.2,37.4L1070.2,37.5L1071.2,39L1072.2,39L1073.2,32.9L1074.2,32.9L1075.2,36.8L1076.2,36.8L1077.2,39.2L1082.2,38.8L1084.2,39.5L1085.2,36.6L1086.2,36.7L1087.1,39.6L1087.1,39.6Z"/>
<path transform="translate(457.51,975.23)" d="M0,0L0,-79.8L19,-75.1L31.9,-73L43.9,-73.9L52.9,-68.5L66.8,-72.8L76.8,-82.5L87.8,-86.1L116.7,-83.1L127.7,-75.6L134.6,-74.2L151.6,-63.7L167.6,-47.5L172.5,-39.3L180.5,-45.3L187.5,-57.1L190.5,-54.9L191.5,-55.5L193.5,-58.8L194.5,-61.7L197.5,-76.2L200.5,-95.7L209.5,-169.4L211.4,-180.8L214.4,-192.5L215.4,-192.7L217.4,-187L220.4,-172.7L223.4,-150.9L226.4,-122.7L227.4,-118.3L229.4,-113.8L231.4,-111.9L232.4,-112.1L234.4,-114.8L235.4,-117.4L237.4,-125L238.4,-132.4L239.4,-134.7L241.4,-128L244.4,-123.1L245.4,-122.7L247.4,-123.4L248.3,-126.8L253.3,-173.4L256.3,-194.7L259.3,-211.1L263.3,-185.4L269.3,-128.1L270.3,-125.5L272.3,-130.8L274.3,-140.3L279.3,-181L284.3,-151.4L287.2,-138.4L288.2,-142.9L294.2,-191.7L297.2,-210.2L299.2,-197.4L304.2,-152.3L305.2,-147.1L307.2,-152.6L309.2,-161.7L314.2,-192.9L319.2,-133.7L322.2,-105.2L330.1,-192.5L331.1,-194.5L337.1,-135.1L338.1,-134L345.1,-194L351.1,-105L352.1,-102.9L359.1,-183.7L360.1,-181.4L367,-88.4L368,-96.3L373,-174.2L380,-74.8L385,-139.1L386,-134.4L392,-32.1L393,-28.7L398,-120.1L404.9,-38.5L411.9,-96.5L412.9,-86.2L416.9,-14.1L417.9,-19.5L421.9,-64.9L422.9,-64.6L426.9,6.3L427.9,15.6L428.9,15.6L429.9,10.3L433.9,-34.1L434.9,-26L437.9,15.9L439.8,16L440.8,13.5L442.8,-4.6L444.8,13.6L445.8,16.2L451.8,16.5L454.8,-0.7L455.8,13L456.8,16.6L460.8,16.8L461.8,14.8L462.8,16.9L484.7,17.7L485.7,15L489.7,-6.1L490.7,-5.9L491.7,-7.1L492.7,-6.2L495.7,18.1L505.7,18.4L506.7,17L507.7,17.1L508.7,18.5L514.6,18.7L516.6,15.5L517.6,12.7L521.6,-2.2L522.6,-1.4L523.6,-4.2L524.6,-4.2L525.6,-3.9L526.6,-2.2L528.6,11.6L530.6,19L531.6,19.4L613.4,22.3L615.4,-6.4L616.4,-5.7L618.4,-11.8L620.4,-15.3L622.4,-12.7L624.4,-24.5L626.4,-29.8L627.4,-30.1L628.4,-25.1L629.3,-24.4L630.3,-25.4L631.3,-23.5L632.3,-24.8L634.3,-11.3L637.3,-0.1L638.3,-2L639.3,-1.8L640.3,1.5L641.3,2.6L643.3,2.9L644.3,4.4L645.3,3.7L646.3,1.4L648.3,21.4L651.3,22.1L653.3,23.8L691.2,25.2L692.2,22.7L695.2,-2.7L696.2,1L698.2,14.8L699.2,15.5L700.2,14.1L701.2,14.7L703.2,12.5L704.2,12.6L705.1,11.3L706.1,11L707.1,9.5L714.1,-9.8L723.1,-38.7L731.1,-76.7L733.1,-90.2L735.1,-109.9L741.1,-192.4L742.1,-195.7L743.1,-194.1L744,-189L745,-191L747,-192.3L749,-198L750,-207.5L757,-336.5L758,-338.9L759,-331.9L760,-316.5L764,-217.7L765,-207.1L767,-226.1L770,-279.8L775,-410.5L776,-422.7L779,-440.4L781,-436.2L782.9,-429.9L783.9,-411.2L787.9,-272.8L791.9,-83.2L793.9,-13.8L795.9,16.6L797.9,29.1L806.9,29.4L809.9,28.6L810.9,29.5L811.9,29.6L812.9,25L813.9,25.1L814.9,29.7L815.9,29.7L816.9,27.5L817.9,27.5L818.9,29.8L819.8,29.9L820.8,29.1L821.8,29.1L822.8,28L823.8,28L826.8,30.1L835.8,30.4L836.8,25.7L837.8,25.7L838.8,30.5L845.8,30.4L853.8,31.1L854.8,30.2L855.8,30.2L856.8,31L861.7,31.4L862.7,29L863.7,29L864.7,30.8L866.7,31.6L869.7,31.7L870.7,30.2L873.7,30.1L875.7,29.5L876.7,31.9L877.7,32L878.7,28.7L879.7,28.7L880.7,32.1L881.7,32.1L882.7,28.3L883.7,28.4L884.7,27L885.7,27L886.7,32.3L887.7,32.3L888.7,26.9L889.7,26.9L890.7,32.4L891.7,32.5L892.7,25.3L893.7,25.3L894.7,28.6L895.6,28.6L896.6,31.4L897.6,31.5L898.6,32.7L903.6,32.9L904.6,30.9L905.6,30.9L906.6,33L909.6,33.1L911.6,33L912.6,25.4L913.6,25.4L914.6,33.3L927.6,33.8L928.6,30.4L931.6,30.7L932.6,32L933.6,32.1L934.5,34L935.5,34.1L936.5,31.1L937.5,31.1L938.5,34.2L939.5,34.2L940.5,32.7L941.5,32.8L942.5,30.8L943.5,30.8L944.5,34.4L945.5,34.4L946.5,32.3L947.5,32.3L948.5,34.5L949.5,34.6L950.5,32.4L951.5,32.5L952.5,29.9L953.5,30L954.5,34.8L955.5,34.8L956.5,32.5L957.5,32.5L958.5,34.1L959.5,34.1L960.5,30.5L963.5,29.9L964.5,35.1L966.5,34.6L968.5,35.3L971.5,35.4L972.4,34.1L973.4,34.1L977.4,35.6L978.4,33.2L979.4,33.2L980.4,35.7L981.4,35.7L982.4,30.4L983.4,30.5L985.4,30.9L986.4,35.9L989.4,36L990.4,32.7L993.4,31.9L994.4,36.2L999.4,36.4L1000.4,31.5L1001.4,31.5L1002.4,36.5L1003.4,36.5L1004.4,35.4L1005.4,35.5L1006.4,36.6L1009.4,36.8L1010.3,35.2L1011.3,35.3L1012.3,36.9L1013.3,36.9L1014.3,35.4L1015.3,35.4L1016.3,33L1017.3,33L1018.3,37.1L1027.3,37.4L1028.3,31.4L1029.3,31.4L1030.3,37.5L1033.3,37.2L1041.3,37.9L1042.3,33.1L1043.3,33.2L1044.3,38L1045.3,38.1L1046.3,36.4L1047.3,36.4L1048.2,38.2L1049.2,38.2L1050.2,35.6L1051.2,35.6L1052.2,34.8L1053.2,34.9L1054.2,38.4L1057.2,38.5L1058.2,34.9L1059.2,35L1060.2,37.6L1061.2,37.6L1062.2,35.3L1063.2,35.4L1064.2,38.8L1072.2,39L1073.2,34.8L1074.2,34.9L1075.2,38L1076.2,38L1077.2,39.2L1084.2,39.5L1085.2,36.9L1086.2,37L1087.1,39.6L1087.1,39.6Z"/>
<path transform="translate(454.95,979.95)" d="M0,0L0,-80.8L19,-75L31.9,-72L43.9,-72.9L52.9,-67.5L66.8,-71.8L76.8,-81.4L86.8,-83.9L116.7,-78.8L127.7,-70.4L134.6,-68.4L151.6,-56.6L167.6,-39.2L172.5,-31.3L180.5,-38.2L187.5,-50.8L190.5,-49.3L191.5,-50.1L193.5,-53.9L194.5,-57.2L197.5,-72.9L200.5,-94L209.5,-170.6L211.4,-182L214.4,-193.3L215.4,-193.5L217.4,-187.8L220.4,-173.3L223.4,-150.8L226.4,-121.3L227.4,-116.1L230.4,-107.6L232.4,-105.6L233.4,-105.8L234.4,-106.9L235.4,-108.9L237.4,-115.7L238.4,-122.8L239.4,-125.2L241.4,-118.9L243.4,-115.8L245.4,-115.3L247.4,-117.1L248.3,-120.9L254.3,-175.6L259.3,-205.2L263.3,-179.8L269.3,-121.7L270.3,-118.6L272.3,-122.4L274.3,-130.7L279.3,-169.4L284.3,-140.1L287.2,-127.7L288.2,-132.3L294.2,-181.6L297.2,-199.9L299.2,-187.3L304.2,-141.7L305.2,-136.2L307.2,-140.9L309.2,-149.6L314.2,-180.3L319.2,-122.5L322.2,-95.6L330.1,-183.2L331.1,-185.1L337.1,-126L338.1,-124.6L345.1,-182.3L351.1,-92.7L352.1,-90.7L359.1,-172.1L360.1,-169.9L367,-77.1L368,-84.8L373,-162.4L380,-64.4L385,-128.6L386,-123.9L392,-22.6L393,-19L398,-109.2L404.9,-29.5L411.9,-87.6L412.9,-77.4L416.9,-6.5L417.9,-11.6L421.9,-55.7L422.9,-55.3L426.9,13.7L427.9,15.6L429.9,15.7L433.9,-26.8L437.9,15.9L440.8,16.1L442.8,3.4L444.8,16.2L452.8,16.5L454.8,5.6L455.8,16.6L485.7,17.7L486.7,15.1L490.7,-3.6L491.7,-4.8L494.7,16.7L495.7,18.1L516.6,18.8L517.6,17.2L524.6,-2.8L525.6,-2.5L528.6,18.5L529.6,19.3L613.4,22.3L615.4,3.5L619.4,-6.3L621.4,-3.9L625.4,-18.3L627.4,-20.2L628.4,-20.4L629.3,-19.9L631.3,-17.4L637.3,3L638.3,4.5L639.3,4.5L641.3,7.3L642.3,6.8L644.3,7.8L646.3,6.3L648.3,23.6L692.2,25.2L693.2,22.6L695.2,5.8L698.2,22.6L701.2,24.7L707.1,17.1L722.1,-25.2L728.1,-51.5L732.1,-72.2L735.1,-98.8L741.1,-177.3L742.1,-180.4L743.1,-179L744,-174.2L745,-176.3L747,-177.7L749,-185.3L750,-194.7L757,-320.6L758,-323L759,-316.2L760,-301.1L764,-204.8L765,-194.9L767,-214.8L770,-269.7L775,-399.7L776,-411.9L779,-429L781,-424.7L782.9,-418.2L783.9,-399.6L787.9,-262.4L792.9,-38.3L793.9,-6.1L795.9,22.9L796.9,29L1087.1,39.5L1087.1,39.6Z"/>
<path transform="translate(452.39,984.67)" d="M0,0L0,-81.9L19,-74.8L31.9,-71L43.9,-71.8L52.9,-66.4L66.8,-70.7L76.8,-80.3L86.8,-82L116.7,-74.4L127.7,-65.1L134.6,-62.7L151.6,-49.5L164.6,-34.6L172.5,-23.4L180.5,-31L187.5,-44.5L190.5,-43.6L191.5,-44.6L193.5,-48.7L194.5,-52.3L199.5,-83.4L209.5,-169.9L211.4,-181.2L214.4,-192.3L215.4,-192.4L217.4,-186.8L220.4,-172.1L227.4,-112.7L230.4,-102L232.4,-98.6L233.4,-98.2L235.4,-100.2L236.4,-102.7L238.4,-112.9L239.4,-115.4L241.4,-109.5L243.4,-106.8L245.4,-106.9L247.4,-109.3L248.3,-113.4L254.3,-168.4L259.3,-197.6L263.3,-172.4L269.3,-113.7L270.3,-110.2L272.3,-112.9L274.3,-120.4L279.3,-157.5L284.3,-128.1L287.2,-115.8L288.2,-120.5L294.2,-170.1L297.2,-188.5L300.2,-167.7L304.2,-129.6L305.2,-123.9L307.2,-128.3L309.2,-136.8L314.2,-167.4L319.2,-111.9L322.2,-87.1L330.1,-174.7L331.1,-176.6L337.1,-117.9L338.1,-116.1L345.1,-170.8L351.1,-80.9L352.1,-79L359.1,-160.9L360.1,-158.7L367,-66.4L368,-73.9L373,-150.8L380,-55L385,-118.8L386,-114.2L392,-14.2L393,-10.5L398,-98.7L404.9,-22L411.9,-79.9L412.9,-70L416.9,-0.9L417.9,-5.6L421.9,-47.4L422.9,-46.7L426.9,15.5L429.9,15.7L430.9,10.4L433.9,-21.3L436.9,12.9L437.9,15.9L441.8,16.1L442.8,9.6L443.8,16.2L453.8,16.5L454.8,10.9L455.8,16.6L486.7,17.7L490.7,1.2L491.7,0.2L493.7,14.6L494.7,18L518.6,18.9L524.6,2.2L525.6,2.5L527.6,16.4L528.6,19.2L614.4,22.4L615.4,12.2L616.4,9.6L619.4,3.4L621.4,6.2L625.4,-9.4L627.4,-12L628.4,-12.5L629.3,-12.4L631.3,-10.7L637.3,7.7L638.3,8.9L639.3,8.9L641.3,11.7L642.3,11.4L644.3,12.7L646.3,11.4L647.3,21.2L648.3,23.6L693.2,25.2L694.2,22.2L695.2,13.9L697.2,24.7L698.2,25.4L707.1,25.8L711.1,15.9L722.1,-15.7L728.1,-41.7L732.1,-62.1L734.1,-78.1L741.1,-161.9L742.1,-164.7L743.1,-163.4L744,-159L745,-161.6L747,-164.3L749,-172.7L751,-195.6L757,-304.5L758,-307L759,-300.4L760,-285.6L764,-191.6L765,-182.1L767,-202.7L770,-258L775,-388.3L776,-400.3L779,-417.3L781,-413L782.9,-406.7L783.9,-388.1L787.9,-251.8L792.9,-30L793.9,1.6L795.9,28.8L1087.1,39.5L1087.1,39.6Z"/>
<path transform="translate(449.82,989.38)" d="M0,0L0,-82.9L19,-74.6L31.9,-70L43.9,-70.8L52.9,-65.4L66.8,-69.7L76.8,-79.2L86.8,-80.1L116.7,-70.1L127.7,-59.9L134.6,-56.9L151.6,-42.4L164.6,-26.5L172.5,-15.5L180.5,-23.8L187.5,-38L189.5,-37.4L190.5,-37.6L191.5,-38.7L193.5,-43L194.5,-46.6L199.5,-78.6L208.5,-159.4L211.4,-177.6L214.4,-188.5L215.4,-188.6L217.4,-183L220.4,-168.2L227.4,-107.4L230.4,-95.2L232.4,-90.8L233.4,-90L234.4,-90.1L235.4,-91.2L236.4,-93.4L238.4,-102.9L239.4,-105.5L241.4,-99.6L243.4,-97.1L245.4,-97.4L247.4,-100L248.3,-104.2L254.3,-159.3L259.3,-188.3L263.3,-163.1L269.3,-103.9L270.3,-100.1L271.3,-100.6L272.3,-102.3L274.3,-109.4L279.3,-145.7L284.3,-115.8L287.2,-103.2L288.2,-107.8L294.2,-157.8L297.2,-176.4L300.2,-155.3L305.2,-110.7L307.2,-115L309.2,-123.6L314.2,-154.6L319.2,-99.1L322.2,-74.7L330.1,-163.1L331.1,-165.1L337.1,-106.1L338.1,-104.2L345.1,-158.6L351.1,-70.1L352.1,-68.5L359.1,-150.7L360.1,-148.6L367,-56.8L368,-64L373,-140L380,-47.5L385,-110.5L386,-106.1L392,-8L393,-4.1L398,-89L404.9,-17L411.9,-74.6L412.9,-65.1L416.9,1.3L417.9,-2.7L421.9,-40.9L422.9,-39.8L425.9,7.8L426.9,15.5L429.9,15.7L430.9,11.8L433.9,-18.6L436.9,13.9L437.9,15.9L441.8,16.1L442.8,13.6L443.8,16.2L453.8,16.5L454.8,14L455.8,16.6L487.7,17.8L490.7,5.7L491.7,4.8L493.7,18L520.6,18.9L524.6,7.2L525.6,7.4L527.6,19.2L614.4,22.4L618.4,14.2L619.4,13.1L621.4,16.2L625.4,-0.5L627.4,-3.8L629.3,-5L631.3,-4L632.3,-2L637.3,12.3L638.3,13.4L639.3,13.3L641.3,16.2L642.3,15.9L644.3,17.5L646.3,16.5L647.3,23.6L694.2,25.3L695.2,22L696.2,25.4L710.1,25.9L711.1,24.9L722.1,-6.2L728.1,-31.9L732.1,-52L734.1,-67.6L741.1,-146.5L742.1,-149.2L743.1,-147.9L744,-143.9L747,-151L749,-160.1L751,-182.7L757,-288.5L758,-291L759,-284.5L760,-270.2L764,-178.4L765,-169.4L767,-190.6L770,-246.3L775,-376.8L776,-388.8L779,-405.6L782.9,-395.2L783.9,-376.7L787.9,-241.2L792.9,-21.7L793.9,9.2L794.9,22.9L795.9,29L1087.1,39.5L1087.1,39.6Z"/>
<path transform="translate(447.26,994.10)" d="M0,0L0,-82.9L19,-74.3L31.9,-69.4L43.9,-70L52.9,-64.5L66.8,-68.6L76.8,-78L86.8,-78.5L115.7,-67.8L116.7,-67.3L127.7,-56.7L134.6,-53.7L151.6,-39.3L163.6,-24.7L172.5,-12.6L180.5,-21.3L187.5,-35.9L189.5,-35.3L191.5,-36.4L193.5,-40.2L194.5,-43.6L199.5,-74.5L208.5,-153.6L211.4,-171.4L214.4,-182L215.4,-182L217.4,-176.5L220.4,-161.8L227.4,-101L231.4,-85.6L233.4,-82.6L234.4,-82.4L236.4,-85.3L239.4,-96.7L241.4,-90.8L243.4,-88.4L245.4,-88.6L247.4,-91.1L248.3,-95.2L254.3,-149.8L259.3,-178.5L263.3,-153.3L269.3,-94.2L270.3,-90.4L271.3,-91L272.3,-92.6L274.3,-99.6L279.3,-135.6L284.3,-105.4L287.2,-92.4L288.2,-97L294.2,-146.7L297.2,-165.2L300.2,-144.1L304.2,-105.1L305.2,-99.3L307.2,-103.6L308.2,-107.5L314.2,-143.7L319.2,-87.7L322.2,-62.8L330.1,-151.7L331.1,-153.7L337.1,-94.6L338.1,-92.7L345.1,-147.8L351.1,-63.1L352.1,-62L359.1,-143.4L360.1,-141.3L367,-50.9L368,-57.6L373,-131.7L380,-44.5L385,-105.9L386,-101.6L392,-6.9L393,-2.5L398,-82.1L404.9,-17.5L411.9,-73.8L412.9,-64.9L416.9,-2.2L417.9,-5.1L421.9,-38.2L422.9,-36.5L425.9,7.9L426.9,15.5L429.9,15.7L433.9,-20.2L436.9,10.3L437.9,15.9L441.8,16.1L442.8,13.7L443.8,16.2L453.8,16.5L454.8,13.8L455.8,16.6L487.7,17.8L490.7,7.4L491.7,6.8L493.7,18L521.6,19L524.6,10.1L525.6,10.4L526.6,17.3L527.6,19.2L616.4,22.4L619.4,17.8L621.4,21.1L625.4,4.2L627.4,0.7L629.3,-0.6L631.3,0.1L632.3,2.1L637.3,16.1L638.3,17.1L639.3,17L641.3,19.9L642.3,19.6L644.3,21.3L646.3,20.2L647.3,23.6L713.1,26L722.1,1.9L729.1,-28.1L732.1,-43.2L734.1,-58.2L741.1,-131.5L742.1,-133.9L743.1,-132.8L744,-129.1L747,-138.5L749,-148.7L751,-171L757,-272.7L758,-275.1L759,-268.9L760,-255L764,-166.2L765,-157.8L767,-179.5L770,-235.3L775,-365.4L776,-377.3L779,-393.9L782.9,-383.7L783.9,-365.4L787.9,-231.3L791.9,-48.3L793.9,16.1L794.9,28.9L1087.1,39.5L1087.1,39.6Z"/>
<path transform="translate(444.70,998.82)" d="M0,0L0,-82.9L19,-73.9L31.9,-68.7L43.9,-69.2L52.9,-63.5L66.8,-67.4L76.8,-76.7L87.8,-76.8L115.7,-65.1L116.7,-64.6L127.7,-53.6L134.6,-50.6L151.6,-36.2L172.5,-9.7L180.5,-18.8L187.5,-33.6L189.5,-33L191.5,-33.8L193.5,-37L194.5,-40L196.5,-49.4L199.5,-68.8L209.5,-151.8L211.4,-162.4L214.4,-172.6L215.4,-172.6L217.4,-167L220.4,-152.6L227.4,-92.4L231.4,-77.4L233.4,-74.3L234.4,-74.1L236.4,-76.7L239.4,-87.9L241.4,-82L243.4,-79.6L245.4,-79.8L247.4,-82.1L248.3,-86.1L254.3,-140.1L259.3,-168.6L263.3,-143.4L269.3,-84.3L270.3,-80.6L272.3,-82.9L274.3,-89.8L276.3,-101.6L279.3,-125.8L284.3,-95.7L287.2,-83L288.2,-87.5L294.2,-137.1L297.2,-155.5L300.2,-134.4L305.2,-89.5L307.2,-93.6L308.2,-97.3L314.2,-133.1L319.2,-77.6L322.2,-53.3L330.1,-142L331.1,-144L337.1,-85.2L338.1,-83.3L345.1,-137.5L351.1,-59.1L352.1,-58.7L359.1,-138.5L360.1,-136.5L367,-48.5L368,-54.2L373,-125L380,-47.1L385,-105.6L386,-101.6L392,-12.2L393,-7.2L398,-77.2L401.9,-43.1L404.9,-24.3L411.9,-78.7L412.9,-70.6L416.9,-13.4L417.9,-14.9L421.9,-39.9L422.9,-37.2L423.9,-19.6L426.9,13.2L427.9,15.6L428.9,15.6L433.9,-27.2L434.9,-21.1L437.9,11.7L438.8,16L440.8,16.1L442.8,9.2L443.8,16.2L452.8,16.5L453.8,14.6L454.8,9.7L455.8,16.6L487.7,17.8L490.7,8.2L491.7,7.9L492.7,15.5L493.7,18L522.6,19L524.6,13.1L525.6,13.3L526.6,19.2L621.4,22.6L622.4,21.3L625.4,8.8L627.4,5.2L629.3,3.7L631.3,4.3L632.3,6.2L637.3,19.8L638.3,20.9L639.3,20.7L641.3,23.4L716.1,26.1L723.1,6.4L732.1,-34.3L737.1,-75.2L741.1,-116.6L742.1,-118.7L743.1,-117.7L744,-114.5L747,-126.1L749,-137.3L751,-159.3L757,-256.7L758,-259.1L759,-253.1L760,-239.6L764,-153.3L765,-145.4L767,-167.5L770,-223.1L775,-352.1L776,-363.8L779,-380.3L782.9,-370.3L783.9,-352.2L787.9,-220.3L791.9,-39.7L793.9,23.4L794.9,28.9L1087.1,39.5L1087.1,39.6Z"/>
<path transform="translate(442.13,1003.53)" d="M0,0L0,-82.9L19,-73.6L31.9,-68.1L43.9,-68.4L52.9,-62.6L66.8,-66.3L76.8,-75.4L87.8,-75.1L116.7,-61.9L127.7,-50.5L134.6,-47.5L151.6,-33L172.5,-6.8L180.5,-16.4L187.5,-31.3L189.5,-30.6L191.5,-31L194.5,-35.9L197.5,-49.6L200.5,-69L209.5,-141L211.4,-151.1L214.4,-161L215.4,-161L217.4,-155.4L220.4,-141.2L227.4,-82.3L231.4,-68.4L233.4,-65.5L234.4,-65.3L236.4,-67.9L239.4,-79.1L241.4,-73.2L243.4,-70.8L245.4,-70.9L247.4,-73.1L248.3,-76.9L254.3,-130.4L259.3,-158.6L263.3,-133.3L269.3,-74.4L270.3,-70.7L272.3,-73L274.3,-80L279.3,-116.1L284.3,-86.6L287.2,-74.3L297.2,-146.6L305.2,-80.6L307.2,-84.2L309.2,-92.4L314.2,-122.6L319.2,-68.3L322.2,-45L329.1,-123.4L330.1,-133.4L331.1,-135.4L337.1,-77.1L338.1,-75L345.1,-127.6L351.1,-52.5L352.1,-52.4L359.1,-131.5L360.1,-129.6L367,-43L369,-60.3L373,-117.4L380,-45.8L385,-102.4L386,-98.6L392,-12.7L393,-7.2L398,-71.1L401.9,-39.9L404.9,-24.5L411.9,-77.9L416.9,-15.8L417.9,-16.6L421.9,-37.3L422.9,-34.1L426.9,15.5L428.9,15.6L433.9,-24.7L437.9,12.8L438.8,16L441.8,15.9L442.8,12.4L443.8,16.2L453.8,16.5L454.8,14.5L455.8,16.6L488.7,17.8L490.7,11.8L491.7,11.6L492.7,17.9L523.6,19.1L524.6,16.1L525.6,16.3L526.6,19.2L622.4,22.7L623.4,21.4L626.4,11.3L628.4,8.6L630.3,8L632.3,10.3L637.3,23.2L719.1,25.8L723.1,14.5L732.1,-25.5L741.1,-101.7L742.1,-103.6L744,-100L749,-125.9L757,-240.6L758,-243L760,-224.1L764,-140.2L765,-132.6L767,-155.1L770,-210.4L775,-338L776,-349.6L779,-365.9L782.9,-356.1L784.9,-312.7L793.9,28.9L1087.1,39.5L1087.1,39.6Z"/>
<path transform="translate(442.13,1003.53)" d="M215.4,7.8L215.4,-161L220.4,-141.2L227.4,-82.3L230.4,-71L233.4,-65.5L233.4,8.5ZM259.3,9.4L259.3,-158.6L263.3,-133.3L270.3,-70.7L270.3,9.8ZM279.3,10.2L279.3,-116.1L287.2,-74.3L287.2,10.5ZM297.2,10.8L297.2,-146.6L305.2,-80.6L305.2,11.1ZM314.2,11.4L314.2,-122.6L322.2,-45L322.2,11.7ZM331.1,12.1L331.1,-135.4L337.1,-77.1L338.1,-75L338.1,12.3ZM345.1,12.6L345.1,-127.6L351.1,-52.5L351.1,12.8ZM359.1,13.1L359.1,-131.5L360.1,-129.6L367,-43L367,13.4ZM373,13.6L373,-117.4L380,-45.8L380,13.8ZM385,14L385,-102.4L393,-7.2L393,14.3ZM398,14.5L398,-71.1L404.9,-24.5L404.9,14.7ZM411.9,15L411.9,-77.9L416.9,-15.8L416.9,15.2ZM421.9,15.4L421.9,-37.3L426.9,15.5L426.9,15.5ZM433.9,15.8L433.9,-24.7L438.8,16L438.8,16Z" fill="rgba(0,0,70,0.24)"/>
<path transform="translate(439.57,1008.25)" d="M0,0L0,-82.9L19,-73.2L31.9,-67.5L43.9,-67.6L52.9,-61.7L66.8,-65.2L76.8,-74.1L87.8,-73.4L116.7,-59.1L127.7,-47.3L134.6,-44.3L151.6,-29.9L172.5,-3.9L180.5,-13.9L187.5,-29L190.5,-28.1L192.5,-28.6L194.5,-31.7L195.5,-35L201.5,-68L209.5,-129.2L214.4,-148.4L215.4,-148.4L217.4,-142.8L220.4,-128.9L227.4,-71.6L231.4,-59L233.4,-56.5L234.4,-56.4L236.4,-59L239.4,-70.5L241.4,-64.6L243.4,-62.3L245.4,-62.6L247.4,-64.6L248.3,-68.5L254.3,-121.5L259.3,-149.3L263.3,-124.2L269.3,-65.3L270.3,-61.6L272.3,-63.8L274.3,-70.5L279.3,-106.6L284.3,-78.2L287.2,-66.9L294.2,-121.1L297.2,-139L305.2,-73.2L307.2,-76.1L309.2,-83.5L314.2,-112.5L319.2,-60L322.2,-38.5L329.1,-116.3L330.1,-126.2L331.1,-128.1L337.1,-70.5L338.1,-68.2L345.1,-118.1L351.1,-47.4L352.1,-47.9L359.1,-125.8L360.1,-123.9L367,-39.2L369,-54.9L373,-110.5L380,-46.4L385,-100.8L386,-97.3L392,-15.2L393,-9.3L398,-65.9L400.9,-42.8L404.9,-24.7L411.9,-77.1L416.9,-18.1L417.9,-18.2L421.9,-34.8L422.9,-31.1L424.9,1.6L426.9,15.5L428.9,15.6L429.9,12.3L433.9,-21L437.9,15.7L438.8,16L489.7,17.8L490.7,15.7L491.7,15.4L492.7,17.9L623.4,22.7L627.4,13.5L630.3,11.1L632.3,12.9L636.3,23.2L722.1,26L732.1,-16.7L741.1,-88.9L742.1,-90.7L744,-87.4L749,-115.1L757,-227L758,-229.2L760,-210.6L764,-127.7L765,-120.3L767,-142.7L770,-197.7L775,-323.9L776,-335.4L779,-351.5L782.9,-341.9L784.9,-299.2L791.9,-22.1L793.9,28.9L1087.1,39.5L1087.1,39.6Z"/>
<path transform="translate(439.57,1008.25)" d="M215.4,7.8L215.4,-148.4L220.4,-128.9L227.4,-71.6L232.4,-57.4L232.4,8.5ZM259.3,9.4L259.3,-149.3L263.3,-124.2L270.3,-61.6L270.3,9.8ZM279.3,10.2L279.3,-106.6L284.3,-78.2L287.2,-66.9L287.2,10.5ZM297.2,10.8L297.2,-139L305.2,-73.2L305.2,11.1ZM314.2,11.4L314.2,-112.5L322.2,-38.5L322.2,11.7ZM331.1,12.1L331.1,-128.1L337.1,-70.5L338.1,-68.2L338.1,12.3ZM345.1,12.6L345.1,-118.1L351.1,-47.4L351.1,12.8ZM359.1,13.1L359.1,-125.8L360.1,-123.9L367,-39.2L367,13.4ZM373,13.6L373,-110.5L380,-46.4L380,13.8ZM385,14L385,-100.8L393,-9.3L393,14.3ZM398,14.5L398,-65.9L400.9,-42.8L404.9,-24.7L404.9,14.7ZM411.9,15L411.9,-77.1L416.9,-18.1L416.9,15.2ZM421.9,15.4L421.9,-34.8L426.9,15.5L426.9,15.5ZM433.9,15.8L433.9,-21L437.9,15.7L437.9,15.9Z" fill="rgba(0,0,70,0.24)"/>
<path transform="translate(437.01,1012.97)" d="M0,0L0,-82.9L19,-72.8L31.9,-66.9L43.9,-66.8L52.9,-60.8L66.8,-64.1L76.8,-72.9L87.8,-71.8L116.7,-56.4L127.7,-44.2L134.6,-41.2L151.6,-26.8L172.5,-1L180.5,-11.4L187.5,-26.7L192.5,-25.5L194.5,-27.7L195.5,-30.5L201.5,-60L209.5,-117.8L214.4,-136.2L215.4,-136.1L217.4,-130.4L220.4,-117L227.4,-61.1L231.4,-49.8L233.4,-47.5L234.4,-47.5L236.4,-50.2L239.4,-62.1L241.4,-56.4L243.4,-54.5L245.4,-55.1L247.4,-57.4L248.3,-61.4L254.3,-114.2L259.3,-141.5L264.3,-108.7L269.3,-57.7L270.3,-53.8L272.3,-55.5L274.3,-61.8L279.3,-97.6L284.3,-70.9L287.2,-61.2L294.2,-115.8L297.2,-133.3L300.2,-113L305.2,-67.8L307.2,-69.6L309.2,-75.9L314.2,-102.8L319.2,-52.9L322.2,-33.9L329.1,-111L330.1,-120.6L331.1,-122.5L337.1,-65.9L338.1,-63.2L345.1,-109.2L351.1,-44.2L352.1,-45.3L359.1,-121.6L360.1,-119.9L367,-37.3L368,-40.9L370,-62L373,-104.2L380,-48.4L385,-100.5L386,-97.2L393,-12.8L398,-61.4L400.9,-38.3L404.9,-23.9L411.9,-75.4L416.9,-19L417.9,-18.5L421.9,-31.8L422.9,-27.6L425.9,15.5L429.9,15.7L433.9,-15.5L437.9,15.9L624.4,22.7L628.4,15.8L631.3,14.3L635.3,22.9L636.3,23.2L724.1,26.4L732.1,-7.8L741.1,-76.2L742.1,-77.8L744,-74.8L749,-104.3L757,-213.3L758,-215.5L760,-197.1L764,-115.3L765,-108L767,-130.4L770,-185L775,-309.9L776,-321.2L779,-337.1L782.9,-327.8L783.9,-310.4L787.9,-185.9L791.9,-13.4L793.9,28.9L1087.1,39.5L1087.1,39.6Z"/>
<path transform="translate(437.01,1012.97)" d="M215.4,7.8L215.4,-136.1L218.4,-126.7L221.4,-110.7L227.4,-61.1L232.4,-48.3L232.4,8.5ZM259.3,9.4L259.3,-141.5L264.3,-108.7L270.3,-53.8L270.3,9.8ZM279.3,10.2L279.3,-97.6L284.3,-70.9L287.2,-61.2L287.2,10.5ZM297.2,10.8L297.2,-133.3L305.2,-67.8L305.2,11.1ZM314.2,11.4L314.2,-102.8L319.2,-52.9L322.2,-33.9L322.2,11.7ZM331.1,12.1L331.1,-122.5L338.1,-63.2L338.1,12.3ZM345.1,12.6L345.1,-109.2L351.1,-44.2L351.1,12.8ZM359.1,13.1L359.1,-121.6L360.1,-119.9L367,-37.3L367,13.4ZM373,13.6L373,-104.2L380,-48.4L380,13.8ZM385,14L385,-100.5L393,-12.8L393,14.3ZM398,14.5L398,-61.4L400.9,-38.3L404.9,-23.9L404.9,14.7ZM411.9,15L411.9,-75.4L416.9,-19L416.9,15.2ZM421.9,15.4L421.9,-31.8L425.9,15.5L425.9,15.5ZM433.9,15.8L433.9,-15.5L437.9,15.9L437.9,15.9Z" fill="rgba(0,0,70,0.24)"/>
<path transform="translate(434.44,1017.68)" d="M0,0L0,-83.1L31.9,-63.9L43.9,-63.5L52.9,-57.3L66.8,-60.3L76.8,-69L87.8,-68L116.7,-53.1L127.7,-41L134.6,-38.4L151.6,-24.8L172.5,0.1L180.5,-10.5L187.5,-25.7L191.5,-23.9L193.5,-23.8L196.5,-30.3L202.5,-59.4L209.5,-108.4L214.4,-126L215.4,-125.8L217.4,-120L220.4,-106.9L227.4,-52.3L230.4,-44.1L233.4,-40.4L235.4,-41.5L236.4,-43.4L239.4,-56.2L242.4,-49.8L244.4,-49.8L247.4,-53.6L254.3,-110.7L259.3,-137.7L264.3,-105.3L269.3,-54.5L270.3,-50.5L272.3,-51.6L273.3,-53.8L275.3,-61.8L279.3,-92.4L284.3,-68.3L287.2,-60.7L293.2,-108.4L297.2,-132.4L300.2,-112.8L305.2,-68.2L307.2,-68.9L309.2,-73.7L314.2,-97.8L319.2,-51.8L322.2,-35.7L329.1,-111.1L330.1,-120.3L331.1,-122.1L337.1,-67.1L338.1,-64L345.1,-105L351.1,-46.3L352.1,-48.1L359.1,-122.2L360.1,-120.5L367,-40.5L368,-43L370,-61.6L373,-101.7L377,-70L380,-53.1L385,-103L386,-100L393,-18.5L398,-60.2L400,-40.7L401.9,-31.4L404.9,-23.4L411.9,-74.1L416.9,-19.1L417.9,-18.3L421.9,-29.6L422.9,-25.2L424.9,11L425.9,15.5L429.9,15.7L430.9,13.2L433.9,-10.2L436.9,15.4L437.9,15.9L625.4,22.8L628.4,18L631.3,16.1L635.3,23.1L725.1,26.4L732.1,-2.3L741.1,-64.6L742.1,-65.9L744,-63.5L748,-88.9L751,-116.8L757,-199.9L758,-202L760,-184.1L764,-104.1L765,-97L767,-119.4L770,-173.2L775,-295.8L776,-307L779,-322.8L782.9,-313.6L783.9,-296.6L787.9,-175.3L791.9,-5.9L792.9,24.9L793.9,28.9L1087.1,39.5L1087.1,39.6Z"/>
<path transform="translate(434.44,1017.68)" d="M215.4,7.8L215.4,-125.8L218.4,-116.4L221.4,-100.8L226.4,-57.2L229.4,-46.4L232.4,-41.1L232.4,8.5ZM259.3,9.4L259.3,-137.7L264.3,-105.3L270.3,-50.5L270.3,9.8ZM279.3,10.2L279.3,-92.4L284.3,-68.3L287.2,-60.7L287.2,10.5ZM297.2,10.8L297.2,-132.4L305.2,-68.2L305.2,11.1ZM314.2,11.4L314.2,-97.8L319.2,-51.8L322.2,-35.7L322.2,11.7ZM331.1,12.1L331.1,-122.1L338.1,-64L338.1,12.3ZM345.1,12.6L345.1,-105L351.1,-46.3L351.1,12.8ZM359.1,13.1L359.1,-122.2L360.1,-120.5L367,-40.5L367,13.4ZM373,13.6L373,-101.7L380,-53.1L380,13.8ZM385,14L385,-103L386,-100L393,-18.5L393,14.3ZM398,14.5L398,-60.2L400,-40.7L404.9,-23.4L404.9,14.7ZM411.9,15L411.9,-74.1L416.9,-19.1L416.9,15.2ZM421.9,15.4L421.9,-29.6L425.9,15.5L425.9,15.5ZM433.9,15.8L433.9,-10.2L436.9,15.4L436.9,15.9Z" fill="rgba(0,0,70,0.24)"/>
<path transform="translate(431.88,1022.40)" d="M0,0L0,-83.3L31.9,-60.8L43.9,-60.1L52.9,-53.8L66.8,-56.6L76.8,-65L87.8,-64.3L116.7,-49.8L127.7,-37.9L134.6,-35.6L151.6,-22.8L172.5,1.2L180.5,-9.5L187.5,-24.7L193.5,-21.9L196.5,-27.4L202.5,-54.2L209.5,-101.3L214.4,-118.2L215.4,-117.9L217.4,-112.1L220.4,-99.1L227.4,-45.3L231.4,-35.7L233.4,-34L234.4,-34.1L236.4,-36.9L239.4,-50.7L240.4,-47.8L242.4,-45.4L244.4,-46.4L247.4,-51.8L254.3,-109.9L259.3,-136.4L264.3,-104.8L269.3,-53.9L270.3,-49.4L271.3,-49L273.3,-51L275.3,-57.8L279.3,-87.7L284.3,-67L287.2,-62.1L293.2,-110.5L297.2,-133.7L300.2,-114.9L305.2,-70.8L307.2,-70L309.2,-73L314.2,-93.5L318.2,-58.5L320.2,-46.1L322.2,-39L329.1,-112.7L330.1,-121.4L331.1,-123.1L337.1,-69.8L338.1,-66.3L339.1,-69.4L345.1,-101.4L351.1,-49.2L352.1,-51.8L359.1,-123.5L360.1,-122L361.1,-112.2L367,-44.4L368,-45.9L370,-61.9L373,-99L377,-70.7L380,-56.5L385,-104.7L386,-101.8L393,-22.8L395,-33.5L398,-58.7L400,-36.3L401.9,-27.7L404.9,-20.6L411.9,-70.6L416.9,-16.2L417.9,-15.3L421.9,-25.6L422.9,-21.1L424.9,14.9L425.9,15.5L430.9,15.7L433.9,-3.7L436.9,15.9L626.4,22.8L629.3,19L631.3,18L634.3,23.1L726.1,26.4L727.1,25L732.1,3.3L741.1,-53.2L742.1,-54.1L744,-52.4L750,-97.7L757,-187.3L758,-189.4L760,-172.3L764,-95.5L765,-89L767,-112L770,-166L775,-288.6L776,-299.6L779,-315.3L782.9,-306.3L784.9,-265.5L792.9,28.9L1087.1,39.5L1087.1,39.6Z"/>
<path transform="translate(431.88,1022.40)" d="M215.4,7.8L215.4,-117.9L221.4,-93.1L226.4,-50L229.4,-39.6L232.4,-34.6L232.4,8.5ZM259.3,9.4L259.3,-136.4L264.3,-104.8L270.3,-49.4L270.3,9.8ZM279.3,10.2L279.3,-87.7L283.3,-70.3L286.2,-62.9L286.2,10.4ZM297.2,10.8L297.2,-133.7L305.2,-70.8L305.2,11.1ZM314.2,11.4L314.2,-93.5L318.2,-58.5L322.2,-39L322.2,11.7ZM331.1,12.1L331.1,-123.1L338.1,-66.3L338.1,12.3ZM345.1,12.6L345.1,-101.4L351.1,-49.2L351.1,12.8ZM359.1,13.1L359.1,-123.5L360.1,-122L361.1,-112.2L367,-44.4L367,13.4ZM373,13.6L373,-99L380,-56.5L380,13.8ZM385,14L385,-104.7L386,-101.8L393,-22.8L393,14.3ZM398,14.5L398,-58.7L400,-36.3L404.9,-20.6L404.9,14.7ZM411.9,15L411.9,-70.6L416.9,-16.2L416.9,15.2ZM421.9,15.4L421.9,-25.6L424.9,14.9L424.9,15.5ZM433.9,15.8L433.9,-3.7L436.9,15.9L436.9,15.9Z" fill="rgba(0,0,70,0.24)"/>
<path transform="translate(429.32,1027.12)" d="M0,0L0,-83.5L31.9,-57.7L32.9,-57.1L43.9,-56.8L52.9,-50.3L66.8,-52.8L76.8,-61.1L86.8,-60.7L115.7,-47L127.7,-34.8L134.6,-32.8L151.6,-20.8L172.5,2.2L180.5,-8.5L187.5,-23.8L193.5,-20.4L194.5,-21.1L196.5,-25.3L202.5,-51L209.5,-97.2L214.4,-113.5L215.4,-113.2L217.4,-107.3L220.4,-94.3L227.4,-40.3L231.4,-30.4L233.4,-28.3L234.4,-28.3L236.4,-30.8L239.4,-45.8L240.4,-43.3L242.4,-42.2L244.4,-44.6L247.4,-52.3L254.3,-112L259.3,-137.9L264.3,-107.2L269.3,-56.1L270.3,-51L272.3,-49.3L274.3,-51.9L276.3,-59.6L279.3,-83.5L283.3,-69.2L285.3,-65.6L287.2,-65.3L293.2,-114.6L297.2,-136.9L300.2,-119.1L305.2,-75.5L307.2,-72.8L309.2,-73.8L314.2,-89.8L318.2,-58L320.2,-48.1L322.2,-43.4L329.1,-115.2L330.1,-123.5L331.1,-125.1L338.1,-69.6L341.1,-78.9L345.1,-98.2L348.1,-70.6L351.1,-52.1L352.1,-55.3L359.1,-125L360.1,-123.5L361.1,-114.2L367,-48.3L368,-48.9L370,-62.3L373,-95.6L377,-69.9L380,-57.7L385,-104.6L386,-101.8L393,-24.6L395,-33.5L398,-56.2L400,-30.9L401.9,-22.6L404.9,-15.5L411.9,-65L416.9,-10.7L417.9,-9.7L421.9,-20.1L422.9,-15.6L424.9,15.5L431.9,15.7L433.9,3.1L435.9,15.9L627.4,22.8L631.3,19.9L633.3,22.8L634.3,23.1L728.1,26.3L732.1,8.8L741.1,-41.9L742.1,-42.5L744,-41.5L750,-90.6L757,-176.8L758,-179.1L760,-163.9L764,-93.2L765,-88L770,-170L775,-297.2L776,-308.4L779,-323.9L782.9,-315.1L784.9,-272.7L792.9,28.9L1087.1,39.5L1087.1,39.6Z"/>
<path transform="translate(429.32,1027.12)" d="M215.4,7.8L215.4,-113.2L221.4,-88.3L226.4,-45.1L229.4,-34.4L232.4,-29.1L232.4,8.5ZM259.3,9.4L259.3,-137.9L264.3,-107.2L269.3,-56.1L271.3,-49.7L271.3,9.9ZM279.3,10.2L279.3,-83.5L283.3,-69.2L285.3,-65.6L285.3,10.4ZM297.2,10.8L297.2,-136.9L305.2,-75.5L306.2,-73.8L306.2,11.2ZM314.2,11.4L314.2,-89.8L318.2,-58L322.2,-43.4L322.2,11.7ZM331.1,12.1L331.1,-125.1L338.1,-69.6L338.1,12.3ZM345.1,12.6L345.1,-98.2L351.1,-52.1L351.1,12.8ZM359.1,13.1L359.1,-125L360.1,-123.5L361.1,-114.2L367,-48.3L367,13.4ZM373,13.6L373,-95.6L377,-69.9L380,-57.7L380,13.8ZM385,14L385,-104.6L386,-101.8L393,-24.6L393,14.3ZM398,14.5L398,-56.2L400,-30.9L404.9,-15.5L404.9,14.7ZM411.9,15L411.9,-65L416.9,-10.7L416.9,15.2ZM421.9,15.4L421.9,-20.1L424.9,15.5L424.9,15.5ZM433.9,15.8L433.9,3.1L435.9,15.9L435.9,15.9Z" fill="rgba(0,0,70,0.24)"/>
<path transform="translate(426.75,1031.83)" d="M0,0L0,-83.7L31.9,-54.7L32.9,-54L43.9,-53.5L52.9,-46.8L66.8,-49.1L76.8,-57.2L86.8,-56.9L115.7,-43.7L127.7,-31.6L134.6,-30L151.6,-18.9L172.5,3.3L180.5,-7.6L187.5,-23L193.5,-19.5L194.5,-20L196.5,-24.1L202.5,-50L209.5,-96.3L214.4,-112.3L215.4,-111.9L217.4,-106L220.4,-92.9L227.4,-37.8L231.4,-26.3L234.4,-23.2L236.4,-25.1L239.4,-41.6L240.4,-39.7L241.4,-39.3L242.4,-40.1L244.4,-44.4L247.4,-55.1L253.3,-109.8L256.3,-129.1L259.3,-142.2L264.3,-112.6L269.3,-61.1L270.3,-55.2L272.3,-51.2L273.3,-50.7L275.3,-53.6L277.3,-61.9L279.3,-79.8L283.3,-69L285.3,-67.8L287.2,-69.8L293.2,-120.2L297.2,-141.5L300.2,-124.7L305.2,-81.5L307.2,-77L309.2,-75.6L311.2,-78.4L314.2,-86.6L318.2,-57.8L320.2,-50.3L322.2,-47.8L328.1,-109.2L330.1,-125.8L331.1,-127.4L338.1,-73L341.1,-79.4L345.1,-95.3L348.1,-69.5L351.1,-54.1L352.1,-57.8L359.1,-125.7L360.1,-124.3L361.1,-115.5L367,-51.1L368,-50.9L370,-62.2L373,-91.3L377,-67.3L380,-56.2L385,-102.3L386,-99.6L393,-23.5L395,-31.3L398,-52.6L400,-25.9L401.9,-16.4L404.9,-9.1L411.9,-58.1L416.9,-3.3L417.9,-2.5L421.9,-13.4L422.9,-9L424.9,15.5L432.9,15.8L433.9,9.5L434.9,15.4L435.9,15.9L629.3,22.9L631.3,21.7L633.3,23.1L729.1,26.5L741.1,-30.7L744,-30.7L750,-83.5L757,-166.8L758,-169.5L760,-156.1L764,-91.6L765,-87.8L770,-174.5L775,-305.9L776,-317.1L779,-332.5L782.9,-323.8L783.9,-306L787.9,-175.9L792.9,28.9L1087.1,39.5L1087.1,39.6Z"/>
<path transform="translate(426.75,1031.83)" d="M215.4,7.8L215.4,-111.9L221.4,-86.8L227.4,-37.8L230.4,-28.5L233.4,-23.6L233.4,8.5ZM259.3,9.4L259.3,-142.2L264.3,-112.6L269.3,-61.1L270.3,-55.2L272.3,-51.2L272.3,9.9ZM297.2,10.8L297.2,-141.5L300.2,-124.7L305.2,-81.5L308.2,-75.8L308.2,11.2ZM314.2,11.4L314.2,-86.6L317.2,-63.2L321.2,-48.4L321.2,11.7ZM331.1,12.1L331.1,-127.4L338.1,-73L338.1,12.3ZM345.1,12.6L345.1,-95.3L348.1,-69.5L351.1,-54.1L351.1,12.8ZM359.1,13.1L359.1,-125.7L360.1,-124.3L361.1,-115.5L367,-51.1L367,13.4ZM373,13.6L373,-91.3L377,-67.3L380,-56.2L380,13.8ZM385,14L385,-102.3L386,-99.6L393,-23.5L393,14.3ZM398,14.5L398,-52.6L400,-25.9L401.9,-16.4L404.9,-9.1L404.9,14.7ZM411.9,15L411.9,-58.1L416.9,-3.3L416.9,15.2ZM421.9,15.4L421.9,-13.4L424.9,15.5L424.9,15.5Z" fill="rgba(0,0,70,0.24)"/>
<path transform="translate(424.19,1036.55)" d="M0,0L0,-83.9L19,-64.1L32.9,-50.8L43.9,-50.1L52.9,-43.3L66.8,-45.3L76.8,-53.3L87.8,-53L116.7,-39.9L127.7,-28.5L134.6,-27.2L151.6,-16.9L172.5,4.4L180.5,-6.6L187.5,-22.3L190.5,-21.3L193.5,-19L194.5,-19.6L196.5,-23.9L202.5,-51.4L209.5,-98.9L214.4,-114.7L215.4,-114.3L217.4,-108.4L220.4,-95L227.4,-37.8L231.4,-23.7L233.4,-19.8L235.4,-18.9L236.4,-20L239.4,-38L240.4,-37L242.4,-39.3L247.4,-60.1L253.3,-117.3L256.3,-136.6L259.3,-149L264.3,-120.5L270.3,-61.6L272.3,-55.1L274.3,-52.7L275.3,-53.5L277.3,-59.5L279.3,-76.4L283.3,-69.3L285.3,-70.4L287.2,-74.8L293.2,-126.2L297.2,-146.6L300.2,-130.8L305.2,-87.9L307.2,-81.5L309.2,-77.9L311.2,-78.3L314.2,-83.7L316.2,-66.8L318.2,-57.2L320.2,-51.8L321.2,-51L322.2,-51.2L330.1,-127.5L331.1,-129L332.1,-122.9L338.1,-75.6L340.1,-77.4L341.1,-79.5L345.1,-92.2L348.1,-67.5L351.1,-54.5L352.1,-58.6L359.1,-125.1L360.1,-123.7L361.1,-115.2L367,-52L368,-51.3L370,-60.9L373,-86.1L377,-62.8L380,-52.3L385,-97.9L386,-95.2L393,-19.7L395,-27.1L398,-47.8L400.9,-13.8L404.9,-2.1L411.9,-50.7L416.9,4.7L417.9,5.4L421.9,-6.3L422.9,-2.1L423.9,15.4L432.9,15.8L433.9,14.6L434.9,15.8L730.1,26.6L732.1,19.9L736.1,-2L739.1,-10.6L741.1,-19.6L744,-20.1L751,-87L757,-156.7L758,-159.8L760,-148.2L764,-89.3L765,-86.6L770,-177.1L775,-311.6L776,-322.8L779,-338.2L782.9,-329.6L783.9,-311.5L792.9,28.9L1087.1,39.5L1087.1,39.6Z"/>
<path transform="translate(424.19,1036.55)" d="M215.4,7.8L215.4,-114.3L218.4,-104.6L221.4,-88.7L227.4,-37.8L230.4,-26.5L233.4,-19.8L233.4,8.5ZM259.3,9.4L259.3,-149L264.3,-120.5L270.3,-61.6L273.3,-53.2L273.3,10ZM297.2,10.8L297.2,-146.6L300.2,-130.8L305.2,-87.9L309.2,-77.9L309.2,11.3ZM314.2,11.4L314.2,-83.7L316.2,-66.8L320.2,-51.8L320.2,11.7ZM331.1,12.1L331.1,-129L338.1,-75.6L338.1,12.3ZM345.1,12.6L345.1,-92.2L348.1,-67.5L351.1,-54.5L351.1,12.8ZM359.1,13.1L359.1,-125.1L360.1,-123.7L361.1,-115.2L367,-52L367,13.4ZM373,13.6L373,-86.1L377,-62.8L380,-52.3L380,13.8ZM385,14L385,-97.9L386,-95.2L393,-19.7L393,14.3ZM398,14.5L398,-47.8L400.9,-13.8L404.9,-2.1L404.9,14.7ZM411.9,15L411.9,-50.7L416.9,4.7L416.9,15.2ZM421.9,15.4L421.9,-6.3L423.9,15.4L423.9,15.4Z" fill="rgba(0,0,70,0.24)"/>
<path transform="translate(421.63,1041.27)" d="M0,0L0,-84.1L32.9,-47.7L43.9,-46.8L52.9,-39.8L66.8,-41.6L76.8,-49.4L87.8,-49.3L116.7,-36.5L127.7,-25.4L134.6,-24.4L151.6,-14.9L172.5,5.5L180.5,-5.7L187.5,-21.7L190.5,-21.1L193.5,-19L194.5,-19.8L196.5,-24.7L201.5,-48.9L209.5,-104.7L211.4,-113L214.4,-120.6L215.4,-120.2L217.4,-114.3L220.4,-100.5L226.4,-47L228.4,-35.3L232.4,-19.6L234.4,-15.6L235.4,-14.9L236.4,-15.4L238.4,-30.6L239.4,-35L240.4,-34.9L242.4,-39.5L246.4,-60.1L253.3,-126.2L256.3,-145.5L259.3,-157.3L264.3,-129.9L270.3,-69.5L272.3,-60.3L274.3,-55L275.3,-54.4L276.3,-55.3L277.3,-57.8L279.3,-72.9L282.3,-69.2L283.3,-69.4L285.3,-72.6L287.2,-78.9L292.2,-124.1L295.2,-143L297.2,-150.9L300.2,-135.9L305.2,-93.3L308.2,-82.2L310.2,-78.4L312.2,-78.6L314.2,-80.8L316.2,-63.7L318.2,-55.7L320.2,-51.9L322.2,-52.8L330.1,-127.7L331.1,-129L332.1,-123.2L338.1,-76.5L340.1,-77L341.1,-78.5L345.1,-88.7L348.1,-64.3L351.1,-52.9L359.1,-122.7L360.1,-121.4L362.1,-104.1L367,-50.7L368,-49.6L370,-58.2L373,-80.3L377,-57.1L380,-46.5L385,-92L386,-89.4L393,-14L395,-21.4L398,-42.2L400.9,-7.6L404.9,4.5L411.9,-43.6L416.9,12.3L417.9,12.9L421.9,0.4L423.9,15.4L731.1,26.6L732.1,25.4L736.1,4.6L739.1,-1.4L741.1,-8.7L743.1,-8.5L744,-9.6L757,-147.1L758,-150.6L759,-148.3L760,-140.9L764,-87.5L765,-85.9L770,-180.1L775,-317.4L776,-328.6L779,-343.9L782.9,-335.4L783.9,-317.1L792.9,28.9L1087.1,39.5L1087.1,39.6Z"/>
<path transform="translate(421.63,1041.27)" d="M215.4,7.8L215.4,-120.2L218.4,-110.4L221.4,-94L227.4,-40.4L231.4,-22.7L234.4,-15.6L234.4,8.5ZM259.3,9.4L259.3,-157.3L264.3,-129.9L270.3,-69.5L274.3,-55L274.3,10ZM297.2,10.8L297.2,-150.9L300.2,-135.9L305.2,-93.3L310.2,-78.4L310.2,11.3ZM314.2,11.4L314.2,-80.8L316.2,-63.7L320.2,-51.9L320.2,11.7ZM331.1,12.1L331.1,-129L338.1,-76.5L338.1,12.3ZM345.1,12.6L345.1,-88.7L348.1,-64.3L351.1,-52.9L351.1,12.8ZM359.1,13.1L359.1,-122.7L360.1,-121.4L362.1,-104.1L367,-50.7L368,-49.6L368,13.4ZM373,13.6L373,-80.3L377,-57.1L380,-46.5L380,13.8ZM385,14L385,-92L386,-89.4L393,-14L393,14.3ZM398,14.5L398,-42.2L400.9,-7.6L404.9,4.5L404.9,14.7ZM411.9,15L411.9,-43.6L416.9,12.3L416.9,15.2ZM421.9,15.4L421.9,0.4L423.9,15.4L423.9,15.4Z" fill="rgba(0,0,70,0.24)"/>
<path transform="translate(419.06,1045.98)" d="M0,0L0,-84.3L32.9,-44.6L43.9,-43.4L52.9,-36.3L66.8,-37.8L76.8,-45.5L87.8,-45.5L116.7,-33.2L127.7,-22.3L134.6,-21.6L151.6,-13L172.5,6.3L180.5,-4.8L187.5,-21.2L190.5,-21L193.5,-19.5L195.5,-23L200.5,-47.1L209.5,-113.3L211.4,-121.8L214.4,-129.4L215.4,-129L217.4,-123.1L220.4,-108.8L226.4,-52.9L229.4,-33.3L233.4,-15.6L235.4,-11.6L236.4,-11.4L239.4,-32.4L241.4,-35.9L244.4,-51.6L248.3,-82L253.3,-135.1L256.3,-154.6L259.3,-165.8L262.3,-152.8L264.3,-139.3L270.3,-77.5L273.3,-61.1L275.3,-55.7L276.3,-55.3L278.3,-59.5L279.3,-69.1L281.3,-67.5L282.3,-67.3L283.3,-68.4L287.2,-81.1L292.2,-126.9L295.2,-145.5L297.2,-153.2L301.2,-131.7L305.2,-96.3L308.2,-83.4L310.2,-78L312.2,-76.6L314.2,-77.4L315.2,-64.4L317.2,-55.8L319.2,-50.9L320.2,-50.1L322.2,-51.9L330.1,-125.7L331.1,-127.1L332.1,-121.4L338.1,-75.2L340.1,-74.9L341.1,-75.8L345.1,-84.3L347.1,-65.7L349.1,-55.3L351.1,-49.5L359.1,-118.8L360.1,-117.5L362.1,-100.4L367,-47.5L368,-46.2L369,-49.7L373,-74.7L377,-50.8L380,-40L385,-85.5L386,-82.8L393,-7.4L395,-15.1L398,-36.2L400.9,-2.2L404.9,9.9L411.9,-37.7L416.9,15.2L418.9,15.3L421.9,6.2L423.9,15.4L732.1,26.7L733.1,25.6L736.1,11.2L739.1,7.7L741.1,2.2L743.1,2.6L744,1L757,-135.7L758,-139.2L759,-137.4L760,-130.6L764,-80.4L765,-79.3L770,-174.6L775,-312.6L776,-323.8L779,-339.1L782.9,-330.6L783.9,-312.3L792.9,28.9L1087.1,39.5L1087.1,39.6Z"/>
<path transform="translate(419.06,1045.98)" d="M215.4,7.8L215.4,-129L218.4,-119.1L221.4,-102L228.4,-39.1L232.4,-19L235.4,-11.6L235.4,8.6ZM259.3,9.4L259.3,-165.8L264.3,-139.3L270.3,-77.5L273.3,-61.1L275.3,-55.7L275.3,10ZM297.2,10.8L297.2,-153.2L301.2,-131.7L305.2,-96.3L308.2,-83.4L311.2,-76.8L311.2,11.3ZM314.2,11.4L314.2,-77.4L315.2,-64.4L319.2,-50.9L319.2,11.6ZM331.1,12.1L331.1,-127.1L338.1,-75.2L338.1,12.3ZM345.1,12.6L345.1,-84.3L347.1,-65.7L351.1,-49.5L351.1,12.8ZM359.1,13.1L359.1,-118.8L360.1,-117.5L367,-47.5L368,-46.2L368,13.4ZM373,13.6L373,-74.7L377,-50.8L380,-40L380,13.8ZM385,14L385,-85.5L386,-82.8L393,-7.4L393,14.3ZM398,14.5L398,-36.2L400.9,-2.2L404.9,9.9L404.9,14.7ZM411.9,15L411.9,-37.7L416.9,15.2L416.9,15.2Z" fill="rgba(0,0,70,0.24)"/>
<path transform="translate(416.50,1050.70)" d="M0,0L0,-84.5L32.9,-41.4L43.9,-40.1L52.9,-32.8L66.8,-34.1L76.8,-41.5L87.8,-41.8L116.7,-29.9L127.7,-19.1L134.6,-18.8L151.6,-11L170.6,5.7L173.5,6.3L180.5,-3.8L187.5,-20.7L190.5,-21.2L192.5,-20.1L193.5,-20.3L195.5,-24.8L200.5,-52.4L208.5,-117.5L211.4,-132.3L214.4,-139.9L215.4,-139.5L217.4,-133.6L220.4,-118.8L229.4,-37.4L233.4,-15L235.4,-9L236.4,-8L238.4,-23.9L242.4,-40.3L245.4,-61.9L254.3,-150.1L256.3,-162L259.3,-172.8L262.3,-160.4L264.3,-147L271.3,-76.9L274.3,-59.8L276.3,-54.9L277.3,-55.1L278.3,-57L279.3,-64.4L281.3,-63.7L283.3,-65.6L287.2,-80.4L292.2,-126.6L295.2,-145L297.2,-152.4L300.2,-138.3L306.2,-91.3L310.2,-75.7L312.2,-73.1L314.2,-73.1L315.2,-59.2L317.2,-51.1L319.2,-46.8L320.2,-46.4L322.2,-48.5L330.1,-121.7L331.1,-123L332.1,-117.4L338.1,-71.6L340.1,-70.9L341.1,-71.6L345.1,-79.2L347.1,-60.4L349.1,-50.5L351.1,-44.9L359.1,-113.8L360.1,-112.5L362.1,-95.6L367,-43.1L368,-41.7L370,-49.3L373,-69.3L376,-49.9L380,-33.8L385,-79.3L386,-76.6L393,-1.3L395,-9.1L398,-30.4L400.9,2.2L404.9,13.4L408.9,-17L411.9,-33.6L416.9,15.2L419.9,15.3L420.9,14.4L421.9,10.6L422.9,14.6L423.9,15.4L733.1,26.7L734.1,25.8L736.1,17.7L737.1,16.5L739.1,16.7L740.1,15.9L741.1,13L742.1,14L743.1,13.6L744,11.5L748,-34.8L757,-122.8L758,-126.2L759,-124.5L760,-118.2L764,-69.6L765,-68.6L770,-163.5L775,-300.9L776,-312.1L779,-327.3L782.9,-318.9L783.9,-300.6L787.9,-165.1L791.9,12.1L792.9,28.9L1087.1,39.5L1087.1,39.6Z"/>
<path transform="translate(416.50,1050.70)" d="M215.4,7.8L215.4,-139.5L218.4,-129.6L221.4,-111.8L230.4,-30.8L233.4,-15L236.4,-8L236.4,8.6ZM259.3,9.4L259.3,-172.8L264.3,-147L271.3,-76.9L274.3,-59.8L276.3,-54.9L276.3,10.1ZM297.2,10.8L297.2,-152.4L301.2,-131.4L305.2,-96.2L308.2,-82.2L311.2,-73.9L311.2,11.3ZM314.2,11.4L314.2,-73.1L315.2,-59.2L319.2,-46.8L319.2,11.6ZM331.1,12.1L331.1,-123L338.1,-71.6L338.1,12.3ZM345.1,12.6L345.1,-79.2L347.1,-60.4L351.1,-44.9L351.1,12.8ZM359.1,13.1L359.1,-113.8L360.1,-112.5L367,-43.1L368,-41.7L368,13.4ZM373,13.6L373,-69.3L376,-49.9L380,-33.8L380,13.8ZM385,14L385,-79.3L386,-76.6L393,-1.3L393,14.3ZM398,14.5L398,-30.4L400.9,2.2L404.9,13.4L404.9,14.7ZM411.9,15L411.9,-33.6L416.9,15.2L416.9,15.2Z" fill="rgba(0,0,70,0.24)"/>
<path transform="translate(413.94,1055.42)" d="M0,0L0,-80.9L32.9,-36.4L43.9,-35.1L52.9,-27.8L66.8,-29L76.8,-36.6L87.8,-37.4L116.7,-27.1L127.7,-16.9L134.6,-16.9L151.6,-9.7L170.6,6.2L173.5,6.3L180.5,-3.2L187.5,-20.5L193.5,-21.6L195.5,-27.2L199.5,-50.7L208.5,-127.9L211.4,-143.4L214.4,-151L215.4,-150.6L217.4,-144.8L220.4,-129.6L229.4,-43.4L233.4,-16.7L236.4,-6.9L244.4,-55.7L254.3,-154.5L256.3,-166.4L259.3,-176.9L262.3,-164.8L264.3,-151.6L270.3,-88.2L273.3,-66.7L276.3,-54.8L277.3,-54.1L278.3,-55.4L279.3,-60.3L281.3,-59.6L283.3,-61.7L286.2,-72L293.2,-129.5L297.2,-148L300.2,-134L306.2,-87.4L310.2,-71.8L312.2,-69.1L314.2,-68.9L315.2,-54.7L317.2,-46.2L319.2,-41.8L320.2,-41.2L322.2,-42.9L330.1,-115.7L331.1,-117L332.1,-111.4L338.1,-66L340.1,-65.6L341.1,-66.4L345.1,-74.4L347.1,-55.6L349.1,-45.6L351.1,-39.7L359.1,-108.3L360.1,-107L362.1,-90.2L367,-37.7L368,-36.4L370,-44.3L373,-64.7L376,-45L380,-28.3L385,-73.9L386,-71.2L393,4.3L395,-3.9L398,-25.7L400,0.1L401.9,7.9L404.9,14.7L408.9,-15.3L411.9,-31.6L415.9,11L416.9,15.2L420.9,15.3L421.9,13L422.9,15.4L432.9,15.8L433.9,12.3L434.9,15.8L735.1,26.8L736.1,24.3L737.1,23.8L740.1,26L741.1,23.9L742.1,25.3L743.1,24.8L744,22.2L748,-26.2L757,-107.1L758,-110L759,-108.1L760,-101.6L764,-52.2L765,-50.7L771,-164.3L775,-275.3L776,-286.3L779,-301.5L782.9,-293.1L783.9,-275.4L787.9,-145.9L791.9,24.8L792.9,28.9L1087.1,39.5L1087.1,39.6Z"/>
<path transform="translate(413.94,1055.42)" d="M215.4,7.8L215.4,-150.6L220.4,-129.6L229.4,-43.4L233.4,-16.7L236.4,-6.9L236.4,8.6ZM259.3,9.4L259.3,-176.9L264.3,-151.6L270.3,-88.2L273.3,-66.7L276.3,-54.8L276.3,10.1ZM297.2,10.8L297.2,-148L301.2,-127.2L305.2,-92.3L308.2,-78.3L311.2,-69.9L311.2,11.3ZM314.2,11.4L314.2,-68.9L315.2,-54.7L319.2,-41.8L319.2,11.6ZM331.1,12.1L331.1,-117L338.1,-66L338.1,12.3ZM345.1,12.6L345.1,-74.4L347.1,-55.6L351.1,-39.7L351.1,12.8ZM359.1,13.1L359.1,-108.3L360.1,-107L362.1,-90.2L367,-37.7L368,-36.4L368,13.4ZM373,13.6L373,-64.7L376,-45L380,-28.3L380,13.8ZM385,14L385,-73.9L386,-71.2L393,4.3L393,14.3ZM398,14.5L398,-25.7L400,0.1L404.9,14.7L404.9,14.7ZM411.9,15L411.9,-31.6L416.9,15.2L416.9,15.2Z" fill="rgba(0,0,70,0.24)"/>
<path transform="translate(411.37,1060.13)" d="M0,0L0,-77.3L32.9,-31.4L43.9,-30.1L52.9,-22.7L66.8,-24L76.8,-31.6L87.8,-33L116.7,-24.3L127.7,-14.7L134.6,-15L151.6,-8.5L169.6,6L174.5,6.2L180.5,-2.6L187.5,-20.2L190.5,-21.8L192.5,-21.8L193.5,-22.8L195.5,-29.2L199.5,-55.3L208.5,-136.7L211.4,-152.6L214.4,-160.2L215.4,-159.8L217.4,-154.1L220.4,-138.7L230.4,-39.9L233.4,-18L236.4,-5.7L243.4,-46.3L254.3,-154.7L256.3,-166.5L259.3,-176.8L262.3,-165L264.3,-151.9L270.3,-88.3L273.3,-66L276.3,-52.8L277.3,-51.8L279.3,-55.5L281.3,-54.3L282.3,-54.6L284.3,-58.5L286.2,-65.7L293.2,-122.2L297.2,-140.7L301.2,-119.8L305.2,-85.2L310.2,-65.9L312.2,-63.5L314.2,-63.8L315.2,-49.7L317.2,-40.9L319.2,-36.1L320.2,-35.3L322.2,-36.5L328.1,-94.4L330.1,-109L331.1,-110.3L338.1,-59.6L340.1,-59.7L341.1,-60.7L345.1,-69.4L347.1,-51.2L349.1,-41.1L351.1,-35.2L359.1,-103.5L360.1,-102.2L362.1,-85.3L367,-32.9L368,-31.7L370,-39.8L373,-60.4L377,-36.3L380,-24.9L385,-70.3L386,-67.6L393,7.7L395,-0.4L398,-22.1L400,1.9L401.9,8.2L404.9,13.8L407.9,-9.7L411.9,-32L416.9,15.2L420.9,15.3L421.9,13.5L422.9,15.4L431.9,15.7L433.9,4.8L435.9,15.9L453.8,16.5L454.8,15.5L455.8,16.6L744,27.1L750,-37L757,-91.7L758,-94L760,-85.4L764,-35.2L765,-33.2L771,-142.2L775,-249.7L776,-260.6L779,-275.7L782.9,-267.4L783.9,-250.2L791.9,28.8L1087.1,39.5L1087.1,39.6Z"/>
<path transform="translate(411.37,1060.13)" d="M215.4,7.8L215.4,-159.8L220.4,-138.7L230.4,-39.9L233.4,-18L236.4,-5.7L236.4,8.6ZM259.3,9.4L259.3,-176.8L264.3,-151.9L272.3,-72.8L275.3,-55.7L277.3,-51.8L277.3,10.1ZM297.2,10.8L297.2,-140.7L301.2,-119.8L305.2,-85.2L308.2,-72L311.2,-64.2L311.2,11.3ZM314.2,11.4L314.2,-63.8L315.2,-49.7L319.2,-36.1L319.2,11.6ZM331.1,12.1L331.1,-110.3L338.1,-59.6L338.1,12.3ZM345.1,12.6L345.1,-69.4L347.1,-51.2L351.1,-35.2L351.1,12.8ZM359.1,13.1L359.1,-103.5L360.1,-102.2L362.1,-85.3L367,-32.9L368,-31.7L368,13.4ZM373,13.6L373,-60.4L377,-36.3L380,-24.9L380,13.8ZM385,14L385,-70.3L386,-67.6L393,7.7L393,14.3ZM398,14.5L398,-22.1L400,1.9L404.9,13.8L404.9,14.7ZM411.9,15L411.9,-32L416.9,15.2L416.9,15.2Z" fill="rgba(0,0,70,0.24)"/>
<path transform="translate(408.81,1064.85)" d="M0,0L0,-73.7L32.9,-26.4L43.9,-25L52.9,-17.7L66.8,-19L76.8,-26.6L87.8,-28.6L116.7,-21.6L127.7,-12.5L134.6,-13.1L151.6,-7.2L168.6,5.6L174.5,6.4L180.5,-2L187.5,-19.9L190.5,-21.8L192.5,-22.1L194.5,-26L199.5,-58.2L208.5,-142.3L211.4,-158.5L214.4,-166.1L215.4,-165.7L217.4,-160L220.4,-144.4L230.4,-42.2L233.4,-18.2L236.4,-3.9L237.4,-4.5L239.4,-21L241.4,-28.4L243.4,-42.3L254.3,-150.3L256.3,-162L259.3,-172.2L262.3,-160.5L264.3,-147.5L270.3,-84.2L273.3,-62.1L276.3,-48.8L277.3,-47.7L278.3,-48.6L279.3,-51.4L281.3,-48.2L282.3,-48.1L283.3,-49.2L287.2,-61.5L292.2,-106L294.2,-118.7L297.2,-131.2L301.2,-110.2L305.2,-76L310.2,-58.7L312.2,-57.1L314.2,-58L315.2,-44.5L317.2,-35.8L319.2,-30.7L320.2,-29.7L322.2,-30.3L328.1,-87.8L330.1,-102.5L331.1,-103.9L338.1,-53.4L340.1,-54L341.1,-55.1L345.1,-64.4L348.1,-42.2L351.1,-32.1L359.1,-99.9L360.1,-98.6L362.1,-81.9L367,-29.7L368,-28.5L370,-36.4L373,-57.1L377,-34.7L380,-24.1L385,-68.8L386,-66.2L393,8.2L395,0.9L398,-19.8L400,1.8L401.9,6.6L404.9,10.1L407.9,-13.5L411.9,-35L416.9,15.2L419.9,15.3L421.9,11.8L422.9,15.4L429.9,15.7L433.9,-5.2L436.9,15.2L437.9,15.9L450.8,16.4L451.8,15.4L454.8,6.1L456.8,16.6L745,27.1L750,-28.6L757,-76.5L758,-78.3L760,-69.4L764,-18.7L765,-16.2L771,-120.4L775,-224.2L776,-234.9L779,-249.9L782.9,-241.7L783.9,-225.1L791.9,28.8L1087.1,39.5L1087.1,39.6Z"/>
<path transform="translate(408.81,1064.85)" d="M215.4,7.8L215.4,-165.7L218.4,-155.8L221.4,-136.9L230.4,-42.2L233.4,-18.2L236.4,-3.9L236.4,8.6ZM259.3,9.4L259.3,-172.2L264.3,-147.5L272.3,-68.9L275.3,-51.7L277.3,-47.7L277.3,10.1ZM297.2,10.8L297.2,-131.2L301.2,-110.2L305.2,-76L308.2,-64.1L311.2,-57.4L311.2,11.3ZM314.2,11.4L314.2,-58L316.2,-39.7L318.2,-32.7L320.2,-29.7L320.2,11.7ZM331.1,12.1L331.1,-103.9L338.1,-53.4L338.1,12.3ZM345.1,12.6L345.1,-64.4L348.1,-42.2L351.1,-32.1L351.1,12.8ZM359.1,13.1L359.1,-99.9L360.1,-98.6L362.1,-81.9L367,-29.7L368,-28.5L368,13.4ZM373,13.6L373,-57.1L377,-34.7L380,-24.1L380,13.8ZM385,14L385,-68.8L386,-66.2L393,8.2L393,14.3ZM398,14.5L398,-19.8L400,1.8L403.9,9.2L403.9,14.7ZM411.9,15L411.9,-35L416.9,15.2L416.9,15.2ZM433.9,15.8L433.9,-5.2L436.9,15.2L436.9,15.9Z" fill="rgba(0,0,70,0.24)"/>
<path transform="translate(406.25,1069.57)" d="M0,0L0,-70L32.9,-21.3L43.9,-20L52.9,-12.7L66.8,-14L76.8,-21.6L87.8,-24.2L115.7,-19L127.7,-10.3L134.6,-11.2L151.6,-6L168.6,6.1L175.5,6.1L180.5,-1.4L187.5,-19.3L190.5,-21.4L192.5,-21.8L194.5,-25.8L198.5,-50.2L208.5,-143.7L211.4,-160L214.4,-167.5L215.4,-167.1L217.4,-161.5L220.4,-145.8L231.4,-32.9L234.4,-10.2L236.4,-1.2L237.4,0.3L238.4,-9.5L241.4,-22.6L244.4,-44L253.3,-134.6L256.3,-153.6L259.3,-163.8L262.3,-152L264.3,-139.1L270.3,-76.5L273.3,-55.4L276.3,-43.1L277.3,-42.2L278.3,-43.4L279.3,-46.5L281.3,-41.8L282.3,-41.4L283.3,-42.1L287.2,-52.3L292.2,-95.9L297.2,-121.1L301.2,-99.8L305.2,-66.1L310.2,-51.2L312.2,-50.3L314.2,-52.1L316.2,-35.3L318.2,-28.3L320.2,-25.1L322.2,-25.5L330.1,-97.1L331.1,-98.5L332.1,-92.8L338.1,-48.4L341.1,-50.4L345.1,-60L348.1,-40L351.1,-30.9L359.1,-98.1L360.1,-96.8L367,-28.7L368,-27.3L371,-39.7L373,-55.5L376,-39.3L380,-26.1L385,-69.8L386,-67.3L393,5.8L395,-0.2L398,-18.8L400,0.2L401.9,3.1L404.9,3.9L407.9,-19.8L411.9,-40.6L416.9,8.9L417.9,10.9L419.9,10.2L421.9,8L423.9,15.4L428.9,15.6L433.9,-16.6L438.8,16L449.8,16.4L452.8,3.3L454.8,-1.5L457.8,16.7L745,27.1L746,23.8L751,-28.3L757,-62.1L758,-63.4L759,-61L760,-54.6L764,-4.4L765,-1.6L771,-102.2L775,-203.1L776,-213.7L779,-228.6L782.9,-220.5L783.9,-204.4L791.9,28.8L1087.1,39.5L1087.1,39.6Z"/>
<path transform="translate(406.25,1069.57)" d="M215.4,7.8L215.4,-167.1L218.4,-157.3L221.4,-138.2L231.4,-32.9L234.4,-10.2L237.4,0.3L237.4,8.6ZM259.3,9.4L259.3,-163.8L264.3,-139.1L270.3,-76.5L273.3,-55.4L276.3,-43.1L276.3,10.1ZM297.2,10.8L297.2,-121.1L301.2,-99.8L305.2,-66.1L310.2,-51.2L310.2,11.3ZM314.2,11.4L314.2,-52.1L316.2,-35.3L318.2,-28.3L320.2,-25.1L320.2,11.7ZM331.1,12.1L331.1,-98.5L338.1,-48.4L338.1,12.3ZM345.1,12.6L345.1,-60L348.1,-40L351.1,-30.9L351.1,12.8ZM359.1,13.1L359.1,-98.1L360.1,-96.8L367,-28.7L368,-27.3L368,13.4ZM373,13.6L373,-55.5L376,-39.3L380,-26.1L380,13.8ZM385,14L385,-69.8L386,-67.3L393,5.8L393,14.3ZM398,14.5L398,-18.8L400,0.2L401.9,3.1L401.9,14.6ZM411.9,15L411.9,-40.6L416.9,8.9L417.9,10.9L417.9,15.2ZM433.9,15.8L433.9,-16.6L438.8,16L438.8,16ZM454.8,16.6L454.8,-1.5L457.8,16.7L457.8,16.7Z" fill="rgba(0,0,70,0.24)"/>
<path transform="translate(403.68,1074.28)" d="M0,0L0,-66.4L32.9,-16.3L43.9,-15L52.9,-7.7L66.8,-9L76.8,-16.6L87.8,-19.8L116.7,-16L127.7,-8.2L134.6,-9.2L151.6,-4.7L167.6,5.9L175.5,6.4L180.5,-0.8L187.5,-18.7L190.5,-20.6L192.5,-20.7L193.5,-21.9L195.5,-28.8L199.5,-56.5L208.5,-140.8L211.4,-157L214.4,-164.3L215.4,-163.9L217.4,-158.3L220.4,-142.7L231.4,-29.8L234.4,-6.8L237.4,4.3L239.4,-9.7L242.4,-21.3L244.4,-35.7L254.3,-130.9L256.3,-142.3L259.3,-152.6L262.3,-140.6L264.3,-127.9L271.3,-59.3L274.3,-42L276.3,-36.2L277.3,-35.9L278.3,-37.4L279.3,-40.9L281.3,-35.8L282.3,-35L283.3,-35.3L287.2,-43.7L292.2,-86.4L297.2,-111.4L301.2,-90L305.2,-56.7L308.2,-47.6L310.2,-44L312.2,-43.9L314.2,-46.5L316.2,-31.7L318.2,-25.1L320.2,-22.2L322.2,-22.7L330.1,-93.7L331.1,-95L332.1,-89.4L338.1,-45.4L341.1,-47.2L345.1,-56.3L348.1,-39.5L351.1,-32.2L359.1,-98.6L360.1,-97.4L361.1,-89.6L367,-30.4L368,-28.5L371,-39.1L373,-55L376,-41.1L380,-30.9L385,-73.3L386,-70.9L387,-61.7L393,0.5L396,-7.5L398,-19.4L399,-6.3L400,-2.8L401.9,-2.1L404.9,-4.3L407.9,-28.2L411.9,-48.1L416.9,-1.5L417.9,1.1L419.9,2.4L421.9,2.4L422.9,7.3L424.9,10.8L427.9,9.5L430.9,-12.7L433.9,-28L438.8,6.3L441.8,15.4L442.8,16.1L448.8,16.3L449.8,14.8L451.8,2.7L454.8,-5.9L457.8,14.4L458.8,16.7L746,27.2L751,-19.9L757,-47.8L758,-48.7L760,-40.1L764,9.7L765,12.7L771,-84.3L775,-182L776,-192.4L779,-207.3L782.9,-199.3L783.9,-183.7L790.9,22.4L791.9,28.8L1087.1,39.5L1087.1,39.6Z"/>
<path transform="translate(403.68,1074.28)" d="M215.4,7.8L215.4,-163.9L218.4,-154.1L221.4,-135.1L231.4,-29.8L234.4,-6.8L237.4,4.3L237.4,8.6ZM259.3,9.4L259.3,-152.6L264.3,-127.9L271.3,-59.3L274.3,-42L276.3,-36.2L276.3,10.1ZM297.2,10.8L297.2,-111.4L301.2,-90L305.2,-56.7L310.2,-44L310.2,11.3ZM314.2,11.4L314.2,-46.5L316.2,-31.7L319.2,-23.2L319.2,11.6ZM331.1,12.1L331.1,-95L338.1,-45.4L338.1,12.3ZM345.1,12.6L345.1,-56.3L348.1,-39.5L351.1,-32.2L351.1,12.8ZM359.1,13.1L359.1,-98.6L360.1,-97.4L361.1,-89.6L367,-30.4L368,-28.5L368,13.4ZM373,13.6L373,-55L376,-41.1L380,-30.9L380,13.8ZM385,14L385,-73.3L387,-61.7L393,0.5L393,14.3ZM398,14.5L398,-19.4L400,-2.8L400,14.6ZM411.9,15L411.9,-48.1L417.9,1.1L417.9,15.2ZM433.9,15.8L433.9,-28L438.8,6.3L441.8,15.4L441.8,16.1ZM454.8,16.6L454.8,-5.9L458.8,16.7L458.8,16.7Z" fill="rgba(0,0,70,0.24)"/>
<path transform="translate(401.12,1079.00)" d="M0,0L0,-62.8L32.9,-11.3L43.9,-10L52.9,-2.7L66.8,-3.9L76.8,-11.6L87.8,-15.5L116.7,-13.2L127.7,-6L134.6,-7.3L151.6,-3.4L166.6,5.9L175.5,6.4L180.5,-0.1L187.5,-17.8L190.5,-19.5L192.5,-19L193.5,-19.9L195.5,-26.1L199.5,-52.2L208.5,-134.1L211.4,-149.8L214.4,-157.1L215.4,-156.6L217.4,-151L220.4,-135.5L231.4,-24.4L234.4,-2L236.4,7L237.4,8.6L239.4,-3.4L241.4,-8.4L243.4,-19.7L248.3,-58.9L253.3,-111.4L256.3,-129.8L259.3,-140.3L262.3,-128.1L264.3,-115.4L270.3,-55L273.3,-37.7L276.3,-29L277.3,-29.2L278.3,-31.2L279.3,-35.3L281.3,-30.4L283.3,-29.5L287.2,-36.7L292.2,-78.6L297.2,-103.4L301.2,-81.9L305.2,-49.1L308.2,-41L310.2,-38L312.2,-38.4L314.2,-41.3L316.2,-29.3L319.2,-22L320.2,-21.5L322.2,-22.6L328.1,-78.5L330.1,-92.7L331.1,-94L338.1,-45L340.1,-45.1L342.1,-47.1L345.1,-55L348.1,-40.8L351.1,-36L359.1,-101.6L360.1,-100.4L361.1,-93L367,-34.8L368,-32.3L371,-40.2L373,-55.8L376,-44.6L380,-38L385,-78.9L386,-76.6L387,-68.1L393,-7.4L395,-9.1L396,-11.8L398,-21.3L399,-8L400,-6.6L401.9,-8.3L404.9,-13.6L407.9,-37.6L411.9,-56.8L416.9,-12.9L417.9,-9.7L421.9,-4.3L422.9,2.4L423.9,3.6L424.9,3.5L427.9,-1L430.9,-23.1L433.9,-37.7L435.9,-28L438.8,-4.9L443.8,16.2L448.8,16.3L452.8,-1.9L454.8,-6.4L458.8,16.7L747,27.1L751,-11.5L757,-33.6L758,-34.1L760,-25.6L764,23.5L765,26.8L771,-66.5L775,-160.9L776,-171.2L779,-186L782.9,-178.1L783.9,-163.1L790.9,28.8L1087.1,39.5L1087.1,39.6Z"/>
<path transform="translate(401.12,1079.00)" d="M215.4,7.8L215.4,-156.6L218.4,-146.8L221.4,-128L231.4,-24.4L234.4,-2L237.4,8.6L237.4,8.6ZM259.3,9.4L259.3,-140.3L264.3,-115.4L270.3,-55L273.3,-37.7L276.3,-29L276.3,10.1ZM297.2,10.8L297.2,-103.4L301.2,-81.9L305.2,-49.1L310.2,-38L310.2,11.3ZM314.2,11.4L314.2,-41.3L316.2,-29.3L319.2,-22L319.2,11.6ZM331.1,12.1L331.1,-94L338.1,-45L338.1,12.3ZM345.1,12.6L345.1,-55L347.1,-44.4L350.1,-36.8L350.1,12.7ZM359.1,13.1L359.1,-101.6L361.1,-93L367,-34.8L368,-32.3L368,13.4ZM373,13.6L373,-55.8L376,-44.6L380,-38L380,13.8ZM385,14L385,-78.9L387,-68.1L393,-7.4L393,14.3ZM398,14.5L398,-21.3L399,-8L400,-6.6L400,14.6ZM411.9,15L411.9,-56.8L416.9,-12.9L420.9,-5.2L420.9,15.3ZM433.9,15.8L433.9,-37.7L438.8,-4.9L443.8,16.2L443.8,16.2ZM454.8,16.6L454.8,-6.4L458.8,16.7L458.8,16.7Z" fill="rgba(0,0,70,0.24)"/>
<path transform="translate(398.56,1083.72)" d="M0,0L0,-59.2L32.9,-6.3L43.9,-5L51.9,1.8L56.9,2L66.8,1.1L76.8,-6.6L87.8,-11.1L115.7,-10.4L127.7,-3.8L134.6,-5.4L151.6,-2.2L165.6,5.9L176.5,6.4L180.5,0.5L187.5,-16.9L190.5,-18.1L192.5,-17L193.5,-17.4L195.5,-22.6L199.5,-46.4L208.5,-124.7L211.4,-139.8L214.4,-146.8L215.4,-146.3L217.4,-140.7L221.4,-118.1L229.4,-34.9L235.4,8.6L237.4,8.6L238.4,7.7L242.4,-6L247.4,-39.5L253.3,-99.6L256.3,-117.7L259.3,-128.3L262.3,-115.9L264.3,-103.4L270.3,-44.2L273.3,-29L275.3,-23L276.3,-22L278.3,-25.3L279.3,-29.8L281.3,-26L283.3,-25.1L287.2,-31.9L292.2,-73.4L297.2,-97.9L301.2,-76.5L305.2,-44.1L308.2,-36.4L310.2,-33.5L312.2,-33.9L314.2,-37L316.2,-28.3L318.2,-23.9L320.2,-23.3L322.2,-25.6L328.1,-81L330.1,-94.6L331.1,-95.9L338.1,-47.5L340.1,-46.5L342.1,-47.3L344.1,-50.8L345.1,-55.1L348.1,-44L349.1,-42.6L351.1,-42.4L359.1,-107L360.1,-105.8L362.1,-91.3L367,-42L368,-38.8L370,-40.7L371,-43.3L373,-57.4L376,-49.4L378,-47.5L380,-46.7L385,-86L386,-83.9L388,-67.4L393,-16.8L395,-16.1L396,-17.5L398,-24.4L399,-10.7L400,-10.7L401.9,-14.5L404.9,-22.7L407.9,-46.9L411.9,-65.5L416.9,-24L421.9,-11.1L423.9,-0.4L427.9,-8.1L430.9,-30.3L433.9,-44.2L435.9,-35L438.8,-12.6L442.8,4.2L443.8,15.2L444.8,16.2L449.8,16.4L452.8,1.5L454.8,-2.9L457.8,16.7L747,27.2L752,-8.2L756,-15.1L757,-19.5L758,-19.6L760,-11.3L763,24.3L764,27.8L766,27.9L771,-49L775,-139.9L776,-150L779,-164.8L782.9,-156.8L783.9,-142.5L790.9,28.8L1087.1,39.5L1087.1,39.6Z"/>
<path transform="translate(398.56,1083.72)" d="M215.4,7.8L215.4,-146.3L218.4,-136.6L221.4,-118.1L229.4,-34.9L235.4,8.6L235.4,8.6ZM259.3,9.4L259.3,-128.3L264.3,-103.4L270.3,-44.2L275.3,-23L275.3,10ZM297.2,10.8L297.2,-97.9L301.2,-76.5L305.2,-44.1L310.2,-33.5L310.2,11.3ZM314.2,11.4L314.2,-37L318.2,-23.9L318.2,11.6ZM331.1,12.1L331.1,-95.9L338.1,-47.5L338.1,12.3ZM345.1,12.6L345.1,-55.1L347.1,-46.5L349.1,-42.6L349.1,12.7ZM359.1,13.1L359.1,-107L360.1,-105.8L362.1,-91.3L368,-38.8L368,13.4ZM385,14L385,-86L388,-67.4L393,-16.8L393,14.3ZM398,14.5L398,-24.4L399,-10.7L399,14.5ZM411.9,15L411.9,-65.5L416.9,-24L421.9,-11.1L423.9,-0.4L423.9,15.4ZM433.9,15.8L433.9,-44.2L438.8,-12.6L442.8,4.2L443.8,15.2L444.8,16.2L444.8,16.2ZM454.8,16.6L454.8,-2.9L457.8,16.7L457.8,16.7Z" fill="rgba(0,0,70,0.24)"/>
<path transform="translate(395.99,1088.43)" d="M0,0L0,-55.6L32.9,-1.2L43.9,0.1L45.9,1.6L70.8,2.6L76.8,-1.6L87.8,-6.7L116.7,-7.6L127.7,-1.6L134.6,-3.5L151.6,-0.9L164.6,5.9L176.5,6.4L180.5,1.2L187.5,-15.9L190.5,-16.7L193.5,-14.8L195.5,-18.9L200.5,-47.4L208.5,-114.1L211.4,-128.6L214.4,-135.3L215.4,-134.7L217.4,-129L221.4,-107L228.4,-35L234.4,8.5L238.4,8.7L240.4,7.5L242.4,0.6L247.4,-30.8L253.3,-89.6L256.3,-107.3L259.3,-118L264.3,-93.1L270.3,-35L273.3,-21.5L275.3,-16.5L276.3,-15.9L278.3,-19.9L279.3,-26.4L281.3,-22.9L282.3,-22.1L283.3,-22.3L287.2,-29.9L292.2,-71.3L297.2,-95.5L301.2,-74.4L305.2,-42.2L310.2,-30.9L312.2,-30.8L314.2,-35.9L316.2,-29L317.2,-27.2L319.2,-26.8L322.2,-32L326.1,-71L330.1,-99.7L331.1,-100.9L332.1,-95.8L338.1,-53.1L340.1,-50.6L342.1,-49.6L344.1,-51.5L345.1,-56.4L347.1,-50.1L349.1,-48.8L351.1,-50.9L352.1,-57.3L355.1,-87.1L359.1,-114.4L360.1,-113.4L362.1,-99.7L367,-51.4L368,-47.3L370,-46.7L371,-47.9L372,-50.5L373,-59.6L376,-54.7L380,-55.8L385,-93.6L386,-91.6L388,-76.1L393,-26.5L395,-23.6L396,-23.6L398,-27.9L399,-14L400,-14.1L404.9,-30.3L407.9,-54.6L411.9,-72.6L416.9,-33.1L421.9,-16.8L423.9,-1.5L427.9,-11.1L430.9,-33.2L433.9,-46.8L444.8,16.2L450.8,16.4L452.8,8.3L454.8,4L456.8,16.6L748,27.2L752,0.6L756,-1.9L757,-5.5L758,-5.1L759,-2.6L760,2.8L762,25.5L763,27.8L767,27.9L771,-31.7L775,-118.8L776,-128.7L779,-143.5L782.9,-135.6L783.9,-122L789.9,20.5L790.9,28.8L1087.1,39.5L1087.1,39.6Z"/>
<path transform="translate(395.99,1088.43)" d="M215.4,7.8L215.4,-134.7L218.4,-125L221.4,-107L228.4,-35L234.4,8.5L234.4,8.5ZM259.3,9.4L259.3,-118L264.3,-93.1L270.3,-35L275.3,-16.5L275.3,10ZM297.2,10.8L297.2,-95.5L301.2,-74.4L305.2,-42.2L310.2,-30.9L310.2,11.3ZM331.1,12.1L331.1,-100.9L337.1,-58.6L338.1,-53.1L340.1,-50.6L340.1,12.4ZM359.1,13.1L359.1,-114.4L360.1,-113.4L362.1,-99.7L368,-47.3L368,13.4ZM385,14L385,-93.6L388,-76.1L393,-26.5L395,-23.6L395,14.4ZM398,14.5L398,-27.9L399,-14L399,14.5ZM411.9,15L411.9,-72.6L416.9,-33.1L421.9,-16.8L423.9,-1.5L423.9,15.4ZM433.9,15.8L433.9,-46.8L444.8,16.2L444.8,16.2ZM454.8,16.6L454.8,4L456.8,16.6L456.8,16.6Z" fill="rgba(0,0,70,0.24)"/>
<path transform="translate(393.43,1093.15)" d="M0,0L0,-52L19.9,-17.4L30.9,0.8L31.9,1.2L77.8,2.8L87.8,-2.3L116.7,-4.8L127.7,0.6L134.6,-1.5L151.6,0.4L163.6,6L177.5,6.3L181.5,-0.3L187.5,-15L190.5,-15.4L193.5,-12.4L194.5,-13.1L196.5,-18.7L200.5,-40.7L208.5,-103.9L211.4,-117.6L214.4,-124L215.4,-123.5L217.4,-117.7L221.4,-96.1L227.4,-34.7L232.4,3.9L233.4,8.5L241.4,8.8L243.4,0.7L247.4,-24.4L254.3,-89.2L259.3,-110.5L264.3,-85.7L270.3,-28.4L273.3,-15.8L275.3,-11.3L276.3,-11L278.3,-15.3L279.3,-23.8L281.3,-21L282.3,-20.7L283.3,-21.5L287.2,-31L292.2,-72.7L297.2,-96.4L301.2,-75.9L305.2,-43.7L310.2,-30.4L312.2,-29.3L313.2,-30.3L314.2,-36.1L315.2,-33.1L317.2,-30.8L319.2,-33L322.2,-41.4L326.1,-80.5L330.1,-107.8L331.1,-108.9L333.1,-98.6L338.1,-61.8L342.1,-54.2L344.1,-53.8L345.1,-58.5L346.1,-55.9L347.1,-54.7L348.1,-54.9L351.1,-60.6L355.1,-97.1L359.1,-123.1L360.1,-122.2L363,-101.8L367,-61.9L369,-55.1L371,-53.7L372,-54.9L373,-61.5L375,-59.5L376,-59.5L380,-63.8L385,-100.3L386,-98.5L388,-83.8L393,-35L396,-29.1L398,-31.2L399,-16.9L400,-15.9L404.9,-35.1L407.9,-59.6L411.9,-77.2L416.9,-39L421.9,-20.3L423.9,0.4L427.9,-9.7L430.9,-31.8L433.9,-45.2L435.9,-36.4L438.8,-14.4L442.8,3.8L443.8,14.8L444.8,16.2L452.8,16.5L454.8,13.1L455.8,16.6L749,27.3L752,9.3L756,11L757,8.4L759,11.8L761,27.5L768,28L772,-32.5L775,-97.8L776,-107.5L779,-122.2L782.9,-114.4L783.9,-101.6L789.9,28.8L1087.1,39.5L1087.1,39.6Z"/>
<path transform="translate(393.43,1093.15)" d="M215.4,7.8L215.4,-123.5L218.4,-113.7L221.4,-96.1L227.4,-34.7L233.4,8.5L233.4,8.5ZM259.3,9.4L259.3,-110.5L264.3,-85.7L270.3,-28.4L275.3,-11.3L275.3,10ZM297.2,10.8L297.2,-96.4L301.2,-75.9L305.2,-43.7L309.2,-32.2L311.2,-29.3L311.2,11.3ZM331.1,12.1L331.1,-108.9L338.1,-61.8L342.1,-54.2L342.1,12.5ZM360.1,13.1L360.1,-122.2L367,-61.9L368,-57L370,-53.9L370,13.5ZM385,14L385,-100.3L388,-83.8L393,-35L396,-29.1L396,14.4ZM398,14.5L398,-31.2L399,-16.9L399,14.5ZM411.9,15L411.9,-77.2L416.9,-39L421.9,-20.3L423.9,0.4L423.9,15.4ZM433.9,15.8L433.9,-45.2L442.8,3.8L443.8,14.8L444.8,16.2L444.8,16.2Z" fill="rgba(0,0,70,0.24)"/>
<path transform="translate(390.87,1097.87)" d="M0,0L0,-48.4L19.9,-13L27.9,0.6L28.9,1.1L85.8,3.1L87.8,2.1L116.7,-2L127.7,2.8L134.6,0.4L150.6,1.5L161.6,5.9L177.5,6.5L180.5,2.5L187.5,-14.2L190.5,-14.2L193.5,-10.3L194.5,-10.7L196.5,-15.3L201.5,-41.9L208.5,-95.3L211.4,-108.5L214.4,-114.6L215.4,-114L217.4,-108.2L220.4,-93.9L227.4,-26.8L232.4,8.5L242.4,8.8L247.4,-20.7L253.3,-78.5L256.3,-95.8L259.3,-106.4L264.3,-81.8L270.3,-24.8L273.3,-12.4L275.3,-7.8L276.3,-7.3L278.3,-11.5L279.3,-22.2L281.3,-20.6L283.3,-22.6L287.2,-35.1L292.2,-77.7L297.2,-100.9L301.2,-81L305.2,-48.8L310.2,-32.1L312.2,-29.4L313.2,-29.7L314.2,-37.6L315.2,-35.7L316.2,-35.3L317.2,-36.2L319.2,-41.3L322.2,-53.4L326.1,-92.5L330.1,-118.5L331.1,-119.4L333.1,-109.8L338.1,-73L342.1,-60.8L344.1,-57.8L345.1,-60.9L346.1,-59.5L347.1,-59.6L348.1,-61L351.1,-70.1L355.1,-106.9L359.1,-131.8L360.1,-130.9L363,-111.6L367,-72.2L368,-66.6L370,-61.2L371,-59.7L372,-59.6L373,-62.5L375,-62L376,-62.7L380,-69.4L385,-105L386,-103.3L388,-89.2L393,-41L396,-32.9L397,-32.5L398,-33.1L399,-18.7L400,-15.7L404.9,-36.7L407.9,-61.2L411.9,-78.5L416.9,-41L421.9,-21L423.9,4.8L427.9,-4.8L430.9,-26.8L433.9,-40.2L443.8,16.2L750,27.3L752,18.8L756,26.3L757,25.1L759,27.6L770,28L775,-51.3L776,-60.4L779,-75.1L782.9,-67.3L784.9,-47.4L789.9,28.8L1087.1,39.5L1087.1,39.6Z"/>
<path transform="translate(390.87,1097.87)" d="M215.4,7.8L215.4,-114L218.4,-104.2L221.4,-87.1L227.4,-26.8L232.4,8.5L232.4,8.5ZM259.3,9.4L259.3,-106.4L264.3,-81.8L270.3,-24.8L275.3,-7.8L275.3,10ZM297.2,10.8L297.2,-100.9L301.2,-81L305.2,-48.8L311.2,-30.2L311.2,11.3ZM331.1,12.1L331.1,-119.4L338.1,-73L342.1,-60.8L344.1,-57.8L344.1,12.5ZM360.1,13.1L360.1,-130.9L364,-103.4L367,-72.2L368,-66.6L371,-59.7L371,13.5ZM385,14L385,-105L388,-89.2L393,-41L396,-32.9L396,14.4ZM398,14.5L398,-33.1L400,-15.7L400,14.6ZM411.9,15L411.9,-78.5L416.9,-41L421.9,-21L423.9,4.8L423.9,15.4ZM433.9,15.8L433.9,-40.2L443.8,16.2L443.8,16.2Z" fill="rgba(0,0,70,0.24)"/>
<path transform="translate(388.30,1102.58)" d="M0,0L0,-43.4L19,-12.2L27.9,1L86.8,3.2L116.7,-1.4L127.7,3.4L134.6,0.9L151.6,2.1L160.6,5.8L177.5,6.5L180.5,2.8L187.5,-13.7L190.5,-13.6L193.5,-9.1L194.5,-9.2L196.5,-13.3L201.5,-38.2L208.5,-89.8L211.4,-102.5L214.4,-108.4L215.4,-107.8L217.4,-101.9L221.4,-81.2L226.4,-30.6L231.4,7.1L232.4,8.5L242.4,8.8L247.4,-20.2L253.3,-78.3L256.3,-95.4L259.3,-105.9L264.3,-81.5L270.3,-24.5L273.3,-11.4L275.3,-6.3L276.3,-5.6L278.3,-9.3L279.3,-22.2L281.3,-22L282.3,-23.3L287.2,-41.7L292.2,-85.3L294.2,-96.8L297.2,-108L301.2,-88.9L305.2,-56.4L310.2,-35.7L312.2,-31.3L313.2,-30.8L314.2,-39.8L315.2,-39.1L317.2,-42.2L322.2,-65.1L326.1,-104.3L330.1,-129.1L331.1,-130L333.1,-120.9L338.1,-84.1L343.1,-64.7L344.1,-62.5L346.1,-61.6L348.1,-64.8L351.1,-76L355.1,-113L359.1,-137.3L360.1,-136.4L363,-117.8L367,-78.7L368,-72.6L371,-63.5L372,-62.5L373,-63.2L374,-61.3L375,-61.2L380,-69.6L385,-104.9L386,-103.2L388,-89.4L393,-41.4L396,-32.6L397,-31.9L398,-32.3L400,-12.6L404.9,-33.3L407.9,-57.7L411.9,-74.8L416.9,-37.2L421.9,-17.5L423.9,8.2L424.9,11.3L427.9,4.5L430.9,-17.5L433.9,-31.1L435.9,-21.8L438.8,0.6L442.8,16.1L751,27.3L752,26.4L753,27.4L772,28.1L773,23.9L776,-13.3L779,-28.1L782.9,-20.2L784.9,-11.8L788.9,28.7L1087.1,39.5L1087.1,39.6Z"/>
<path transform="translate(388.30,1102.58)" d="M215.4,7.8L215.4,-107.8L218.4,-98L221.4,-81.2L227.4,-21.9L231.4,7.1L232.4,8.5L232.4,8.5ZM259.3,9.4L259.3,-105.9L264.3,-81.5L270.3,-24.5L275.3,-6.3L275.3,10ZM297.2,10.8L297.2,-108L301.2,-88.9L305.2,-56.4L309.2,-39.3L312.2,-31.3L312.2,11.4ZM331.1,12.1L331.1,-130L338.1,-84.1L344.1,-62.5L344.1,12.5ZM360.1,13.1L360.1,-136.4L364,-109.7L367,-78.7L371,-63.5L371,13.5ZM385,14L385,-104.9L388,-89.4L393,-41.4L396,-32.6L396,14.4ZM398,14.5L398,-32.3L400,-12.6L400,14.6ZM411.9,15L411.9,-74.8L416.9,-37.2L421.9,-17.5L424.9,11.3L424.9,15.5ZM433.9,15.8L433.9,-31.1L438.8,0.6L442.8,16.1L442.8,16.1Z" fill="rgba(0,0,70,0.24)"/>
<path transform="translate(385.74,1107.30)" d="M0,0L0,-38.3L19,-9.7L26.9,1L88.8,3.2L116.7,-0.7L127.7,4.1L134.6,1.5L151.6,2.5L159.6,5.8L177.5,6.5L178.5,6.1L180.5,3.1L187.5,-13.4L190.5,-13.1L193.5,-8.4L194.5,-8.4L196.5,-12.3L201.5,-36.5L208.5,-87.6L211.4,-100L214.4,-105.8L215.4,-105.1L217.4,-99.3L221.4,-78.7L226.4,-28.3L231.4,8.4L242.4,8.8L247.4,-22.6L253.3,-81.5L256.3,-98.6L259.3,-108.9L264.3,-84.9L270.3,-27.3L273.3,-12.8L276.3,-5.3L277.3,-5.7L278.3,-9.6L279.3,-23.1L281.3,-24.7L282.3,-27L287.2,-50.6L292.2,-95.3L294.2,-106.8L297.2,-117.7L301.2,-99.2L305.2,-66.5L310.2,-41.2L313.2,-33.1L314.2,-42.3L315.2,-42.7L317.2,-48.2L322.2,-76.2L326.1,-115.6L330.1,-139.5L331.1,-140.3L333.1,-131.6L338.1,-94.7L343.1,-70.6L346.1,-62.1L348.1,-66.3L351.1,-78.9L355.1,-116L359.1,-139.8L360.1,-138.9L363,-120.7L368,-75.5L371,-64.9L372,-63.4L373,-63.5L374,-58.1L376,-58.9L380,-66.2L384,-96.2L385,-101.4L386,-99.8L389,-77.8L393,-37.9L396,-29.3L397,-28.7L398,-29.2L400,-7.7L404.9,-27.4L407.9,-51.6L411.9,-68.7L416.9,-30.5L421.9,-11.8L423.9,13.7L424.9,15.5L426.9,15.5L427.9,14.5L430.9,-7.5L433.9,-21.3L438.8,11.2L440.8,16.1L777,28.3L779,22.1L781.9,27.9L782.9,28.5L783.9,28.5L784.9,22.7L785.9,22.6L786.9,23L787.9,28.7L1087.1,39.5L1087.1,39.6Z"/>
<path transform="translate(385.74,1107.30)" d="M215.4,7.8L215.4,-105.1L218.4,-95.5L221.4,-78.7L226.4,-28.3L231.4,8.4L231.4,8.4ZM259.3,9.4L259.3,-108.9L264.3,-84.9L270.3,-27.3L273.3,-12.8L276.3,-5.3L276.3,10.1ZM297.2,10.8L297.2,-117.7L301.2,-99.2L305.2,-66.5L310.2,-41.2L313.2,-33.1L313.2,11.4ZM331.1,12.1L331.1,-140.3L334.1,-125.8L338.1,-94.7L343.1,-70.6L346.1,-62.1L346.1,12.6ZM360.1,13.1L360.1,-138.9L368,-75.5L372,-63.4L372,13.5ZM385,14L385,-101.4L388,-85.9L393,-37.9L396,-29.3L396,14.4ZM398,14.5L398,-29.2L400,-7.7L400,14.6ZM411.9,15L411.9,-68.7L416.9,-30.5L421.9,-11.8L423.9,13.7L424.9,15.5L424.9,15.5ZM433.9,15.8L433.9,-21.3L438.8,11.2L440.8,16.1L440.8,16.1Z" fill="rgba(0,0,70,0.24)"/>
<path transform="translate(383.18,1112.02)" d="M0,0L0,-33.3L19,-7.2L24.9,0.5L25.9,0.9L92.8,3.4L116.7,-0.1L127.7,4.6L134.6,2.1L151.6,2.9L158.6,5.8L178.5,6.4L181.5,1.3L187.5,-13.1L190.5,-13L193.5,-8.3L194.5,-8.3L196.5,-12.3L201.5,-37.1L208.5,-88.7L211.4,-101.2L214.4,-107L215.4,-106.3L217.4,-100.5L221.4,-79.8L227.4,-20.2L231.4,8.4L242.4,8.8L247.4,-27.5L253.3,-87.6L256.3,-104.9L259.3,-114.9L262.3,-103.2L264.3,-91.2L270.3,-32.7L274.3,-11.7L276.3,-6.3L277.3,-6L279.3,-24.7L282.3,-31.8L287.2,-60.6L293.2,-112.9L297.2,-128.6L301.2,-110.9L305.2,-77.8L309.2,-53.5L313.2,-36.3L314.2,-44.2L316.2,-48.6L318.2,-58.5L322.2,-85.2L327.1,-131.8L330.1,-147.7L331.1,-148.5L334.1,-134.5L338.1,-103.2L346.1,-60.2L348.1,-64.8L351.1,-77.8L356.1,-122.3L359.1,-138.5L360.1,-137.7L363,-119.6L368,-74.4L371,-63.4L372,-61.7L373,-61.7L374,-53L375,-52.6L376,-53.3L380,-59.5L384,-89.7L385,-95.1L386,-93.4L393,-31.1L396,-23.5L397,-23.2L398,-24.2L400,-2.1L404.9,-20.1L407.9,-44.2L411.9,-61.2L416.9,-22.2L421.9,-4.9L423.9,15.4L428.9,15.6L431.9,-4L433.9,-12.4L438.8,16L1087.1,39.5L1087.1,39.6Z"/>
<path transform="translate(383.18,1112.02)" d="M215.4,7.8L215.4,-106.3L218.4,-96.6L221.4,-79.8L227.4,-20.2L231.4,8.4L231.4,8.4ZM259.3,9.4L259.3,-114.9L264.3,-91.2L270.3,-32.7L273.3,-16.1L276.3,-6.3L276.3,10.1ZM297.2,10.8L297.2,-128.6L301.2,-110.9L309.2,-53.5L313.2,-36.3L313.2,11.4ZM331.1,12.1L331.1,-148.5L346.1,-60.2L346.1,12.6ZM360.1,13.1L360.1,-137.7L363,-119.6L368,-74.4L372,-61.7L372,13.5ZM385,14L385,-95.1L388,-79.3L393,-31.1L396,-23.5L396,14.4ZM398,14.5L398,-24.2L400,-2.1L400,14.6ZM411.9,15L411.9,-61.2L416.9,-22.2L421.9,-4.9L423.9,15.4L423.9,15.4ZM433.9,15.8L433.9,-12.4L438.8,16L438.8,16Z" fill="rgba(0,0,70,0.24)"/>
<path transform="translate(380.61,1116.73)" d="M0,0L0,-28.3L23.9,0.9L96.7,3.5L116.7,0.5L125.7,4.5L129.7,4.5L134.6,2.7L151.6,3.4L157.6,5.7L178.5,6.5L181.5,1.6L187.5,-12.9L190.5,-13L193.5,-8.6L194.5,-8.9L196.5,-13.3L200.5,-33.1L208.5,-92.9L211.4,-105.8L214.4,-111.6L216.4,-108.4L218.4,-101.3L221.4,-84.2L226.4,-32.7L231.4,8.1L241.4,8.8L242.4,6.6L247.4,-34.2L253.3,-95.9L256.3,-113.3L259.3,-123L262.3,-111.7L264.3,-99.8L269.3,-48.9L272.3,-27L275.3,-11.3L277.3,-7.1L279.3,-26.5L282.3,-36.7L287.2,-70.5L292.2,-117.7L296.2,-136.8L297.2,-139.3L300.2,-128.1L309.2,-61.3L313.2,-39.7L316.2,-50.4L318.2,-61.8L322.2,-90.4L327.1,-136.9L330.1,-152.5L331.1,-153.2L334.1,-139.5L338.1,-108.1L345.1,-68.2L346.1,-56L348.1,-60.3L351.1,-72.8L356.1,-117.1L359.1,-133.4L360.1,-132.6L363,-114.5L368,-69.4L371,-58.9L372,-57.4L373,-57.6L374,-46.7L375,-45.9L376,-46.1L380,-50.7L384,-81.2L385,-86.8L386,-85L393,-22.1L396,-15.9L398,-17.8L400,3.5L404.9,-12.9L407.9,-36.7L411.9,-53.8L416.9,-13.8L421.9,1.9L423.9,15.4L429.9,15.6L433.9,-5.5L437.9,15.9L1087.1,39.5L1087.1,39.6Z"/>
<path transform="translate(380.61,1116.73)" d="M215.4,7.8L215.4,-110.9L218.4,-101.3L221.4,-84.2L231.4,8.1L231.4,8.4ZM259.3,9.4L259.3,-123L264.3,-99.8L272.3,-27L275.3,-11.3L277.3,-7.1L277.3,10.1ZM297.2,10.8L297.2,-139.3L301.2,-122.2L305.2,-88.8L313.2,-39.7L313.2,11.4ZM331.1,12.1L331.1,-153.2L334.1,-139.5L338.1,-108.1L345.1,-68.2L346.1,-56L346.1,12.6ZM360.1,13.1L360.1,-132.6L363,-114.5L368,-69.4L372,-57.4L372,13.5ZM385,14L385,-86.8L388,-70.6L393,-22.1L396,-15.9L396,14.4ZM398,14.5L398,-17.8L400,3.5L400,14.6ZM411.9,15L411.9,-53.8L416.9,-13.8L421.9,1.9L423.9,15.4L423.9,15.4ZM433.9,15.8L433.9,-5.5L437.9,15.9L437.9,15.9Z" fill="rgba(0,0,70,0.24)"/>
<path transform="translate(378.05,1121.45)" d="M0,0L0,-23.3L21.9,0.8L99.7,3.6L116.7,1.2L124.7,4.5L130.7,4.7L134.6,3.2L151.6,3.8L156.6,5.7L178.5,6.5L181.5,1.9L187.5,-12.8L190.5,-13.2L193.5,-9.4L194.5,-10L196.5,-15.2L200.5,-36.9L208.5,-99.6L211.4,-113L214.4,-118.9L216.4,-115.9L218.4,-108.7L221.4,-91.2L231.4,5.3L232.4,8.5L241.4,8.8L247.4,-41.7L253.3,-105L256.3,-122.6L259.3,-132L262.3,-121.1L264.3,-109.2L270.3,-48.3L274.3,-20.2L277.3,-8.8L278.3,-13.1L279.3,-27.9L281.3,-35.3L284.3,-55.1L292.2,-126.8L296.2,-145.8L297.2,-148.2L298.2,-145.7L301.2,-131.5L310.2,-60.2L313.2,-42.5L315.2,-45.6L317.2,-55.1L322.2,-91L327.1,-137.5L330.1,-152.8L331.1,-153.5L334.1,-140L338.1,-108.6L345.1,-67.1L346.1,-50.1L348.1,-53.2L351.1,-64.5L355.1,-101.3L359.1,-125.1L360.1,-124.3L363,-105.9L368,-61L371,-51.9L372,-50.9L373,-51.7L374,-40.1L376,-38.4L380,-41.1L385,-77.8L386,-75.9L388,-61.1L393,-12.2L395,-8.4L396,-7.8L398,-11.2L400,8.2L404.9,-6.9L407.9,-30.6L411.9,-47.5L416.9,-6.9L421.9,7.6L422.9,15.1L423.9,15.4L429.9,15.7L433.9,-1.6L436.9,15.9L437.9,15.9L1087.1,39.5L1087.1,39.6Z"/>
<path transform="translate(378.05,1121.45)" d="M215.4,7.8L215.4,-118.3L218.4,-108.7L221.4,-91.2L227.4,-28.9L232.4,8.5L232.4,8.5ZM259.3,9.4L259.3,-132L264.3,-109.2L270.3,-48.3L274.3,-20.2L277.3,-8.8L277.3,10.1ZM297.2,10.8L297.2,-148.2L301.2,-131.5L313.2,-42.5L313.2,11.4ZM331.1,12.1L331.1,-153.5L334.1,-140L338.1,-108.6L345.1,-67.1L346.1,-50.1L346.1,12.6ZM360.1,13.1L360.1,-124.3L364,-97.9L367,-67L371,-51.9L371,13.5ZM373,13.6L373,-51.7L374,-40.1L375,-38.7L375,13.7ZM385,14L385,-77.8L388,-61.1L393,-12.2L395,-8.4L395,14.4ZM398,14.5L398,-11.2L400,8.2L400,14.6ZM411.9,15L411.9,-47.5L416.9,-6.9L421.9,7.6L422.9,15.1L422.9,15.4ZM433.9,15.8L433.9,-1.6L436.9,15.9L436.9,15.9Z" fill="rgba(0,0,70,0.24)"/>
<path transform="translate(375.49,1126.17)" d="M0,0L0,-18.3L19.9,0.7L103.7,3.8L116.7,1.8L122.7,4.4L131.7,4.8L134.6,3.8L151.6,4.3L155.6,5.7L178.5,6.5L181.5,2.2L187.5,-12.8L190.5,-13.6L193.5,-10.5L194.5,-11.5L196.5,-17.6L200.5,-41.6L208.5,-107.7L211.4,-121.7L214.4,-127.8L216.4,-124.8L218.4,-117.6L221.4,-99.7L227.4,-35.5L232.4,8.5L240.4,8.8L241.4,7.9L243.4,-9.3L253.3,-113.4L255.3,-126.4L258.3,-138.1L259.3,-140.4L260.3,-137.6L264.3,-117.9L270.3,-56L274.3,-24.7L277.3,-10.5L278.3,-13.3L279.3,-28.4L281.3,-37L284.3,-58.7L292.2,-132.6L294.2,-144.2L297.2,-153.7L299.2,-147.8L301.2,-137.4L311.2,-56L314.2,-39.9L316.2,-46L319.2,-64.9L327.1,-133.3L330.1,-148.6L331.1,-149.3L334.1,-135.9L338.1,-104.6L345.1,-63.6L346.1,-46.6L347.1,-42.8L351.1,-54.1L356.1,-98L359.1,-114.8L360.1,-113.9L363,-95.1L368,-50.5L371,-43.3L372,-43.1L373,-44.6L374,-34L375,-32L377,-31.2L380,-32.2L385,-69.4L386,-67.5L393,-3.1L395,-0.3L396,-0.4L398,-5L399,8.6L400,11.5L404.9,-3.2L407.9,-26.8L411.9,-43.6L416.9,-2.7L422.9,15.4L429.9,15.7L433.9,-1.1L436.9,15.9L1087.1,39.5L1087.1,39.6Z"/>
<path transform="translate(375.49,1126.17)" d="M215.4,7.8L215.4,-127.2L218.4,-117.6L221.4,-99.7L232.4,8.5L232.4,8.5ZM259.3,9.4L259.3,-140.4L264.3,-117.9L270.3,-56L274.3,-24.7L277.3,-10.5L277.3,10.1ZM297.2,10.8L297.2,-153.7L301.2,-137.4L311.2,-56L314.2,-39.9L314.2,11.4ZM331.1,12.1L331.1,-149.3L334.1,-135.9L338.1,-104.6L345.1,-63.6L347.1,-42.8L347.1,12.6ZM360.1,13.1L360.1,-113.9L364,-87.1L367,-56.1L368,-50.5L371,-43.3L371,13.5ZM373,13.6L373,-44.6L375,-32L375,13.7ZM385,14L385,-69.4L388,-52.3L393,-3.1L395,-0.3L395,14.4ZM398,14.5L398,-5L400,11.5L400,14.6ZM411.9,15L411.9,-43.6L416.9,-2.7L422.9,15.4L422.9,15.4ZM433.9,15.8L433.9,-1.1L436.9,15.9L436.9,15.9Z" fill="rgba(0,0,70,0.24)"/>
<path transform="translate(372.92,1130.88)" d="M0,0L0,-13.2L17,0.6L106.7,3.9L116.7,2.4L121.7,4.4L151.6,4.7L154.6,5.6L179.5,6.1L187.5,-12.8L190.5,-14L193.5,-11.7L195.5,-16L199.5,-38.6L208.5,-115.8L211.4,-130.3L214.4,-136.6L216.4,-133.7L218.4,-126.4L221.4,-108.1L232.4,6.9L233.4,8.5L240.4,8.8L241.4,6.2L243.4,-12.3L252.3,-111.4L255.3,-132.8L258.3,-144.5L259.3,-146.6L260.3,-144L264.3,-124.4L272.3,-44.3L275.3,-21L277.3,-11.5L278.3,-12.1L279.3,-27.3L283.3,-50.9L292.2,-134.2L294.2,-145.7L297.2,-155.2L299.2,-149.3L301.2,-139L311.2,-56.1L314.2,-38.2L315.2,-36.5L318.2,-51.1L322.2,-79L327.1,-125.1L330.1,-140.5L331.1,-141.3L334.1,-127.7L338.1,-96.7L345.1,-57.9L347.1,-34.5L349.1,-37.5L351.1,-43L355.1,-79.2L359.1,-103.9L360.1,-103L363,-83.7L368,-39.3L371,-34.4L372,-35L373,-37.3L374,-29L375,-26.7L377,-25.2L380,-25.3L385,-62.9L386,-60.9L388,-45.4L393,4L395,6L396,5.6L398,-0L399,13.5L400,13L400.9,10.4L404.9,-2.4L407.9,-25.9L411.9,-42.6L416.9,-1.9L422.9,15.4L429.9,15.7L433.9,-4.1L437.9,15.9L1087.1,39.5L1087.1,39.6Z"/>
<path transform="translate(372.92,1130.88)" d="M215.4,7.8L215.4,-136L218.4,-126.4L221.4,-108.1L230.4,-12L232.4,6.9L233.4,8.5L233.4,8.5ZM259.3,9.4L259.3,-146.6L264.3,-124.4L272.3,-44.3L277.3,-11.5L277.3,10.1ZM297.2,10.8L297.2,-155.2L301.2,-139L311.2,-56.1L315.2,-36.5L315.2,11.5ZM331.1,12.1L331.1,-141.3L334.1,-127.7L338.1,-96.7L345.1,-57.9L347.1,-34.5L347.1,12.6ZM360.1,13.1L360.1,-103L364,-75.6L367,-44.5L370,-35.3L370,13.5ZM385,14L385,-62.9L388,-45.4L393,4L394,5.4L394,14.3ZM398,14.5L398,-0L399,13.5L399,14.5ZM411.9,15L411.9,-42.6L416.9,-1.9L422.9,15.4L422.9,15.4ZM433.9,15.8L433.9,-4.1L437.9,15.9L437.9,15.9Z" fill="rgba(0,0,70,0.24)"/>
<path transform="translate(370.36,1135.60)" d="M0,0L0,-8.2L13,0.5L109.7,4L116.7,3L119.7,4.4L179.5,6.4L187.5,-12.7L190.5,-14.2L192.5,-12.5L193.5,-12.7L195.5,-17.6L199.5,-42.1L208.5,-122.3L211.4,-137.3L214.4,-143.7L216.4,-140.8L218.4,-133.5L221.4,-114.9L232.4,4.4L233.4,8.5L240.4,8.8L241.4,5.9L242.4,-3.2L253.3,-122.8L256.3,-140.8L259.3,-149.6L262.3,-139.4L264.3,-127.5L273.3,-37.5L276.3,-15.6L278.3,-9.4L279.3,-24.6L283.3,-48.3L292.2,-131.4L294.2,-142.9L297.2,-152.3L299.2,-146.5L301.2,-136.3L311.2,-53.4L315.2,-29.6L318.2,-42.4L322.2,-68.3L327.1,-114.1L330.1,-129.8L331.1,-130.6L334.1,-116.9L338.1,-86.1L345.1,-50.9L347.1,-26.9L349.1,-28.6L351.1,-32.9L355.1,-68.7L359.1,-93.8L360.1,-92.8L362.1,-80.3L368,-29.1L370,-26.3L371,-26.2L373,-30.6L375,-23.2L377,-21.6L380,-21.3L385,-59L386,-57L388,-41.4L393,8.1L395,9.8L396,9.2L398,3.3L399,14.2L404.9,-4.8L407.9,-28.4L411.9,-44.8L416.9,-5L422.9,15.4L428.9,15.6L433.9,-10.2L437.9,13.6L438.8,16L1087.1,39.5L1087.1,39.6Z"/>
<path transform="translate(370.36,1135.60)" d="M215.4,7.8L215.4,-143.1L218.4,-133.5L221.4,-114.9L233.4,8.5L233.4,8.5ZM259.3,9.4L259.3,-149.6L264.3,-127.5L273.3,-37.5L276.3,-15.6L278.3,-9.4L278.3,10.1ZM297.2,10.8L297.2,-152.3L301.2,-136.3L311.2,-53.4L315.2,-29.6L315.2,11.5ZM331.1,12.1L331.1,-130.6L334.1,-116.9L338.1,-86.1L345.1,-50.9L347.1,-26.9L347.1,12.6ZM360.1,13.1L360.1,-92.8L367,-33.7L368,-29.1L370,-26.3L370,13.5ZM385,14L385,-59L388,-41.4L393,8.1L394,9.3L394,14.3ZM411.9,15L411.9,-44.8L416.9,-5L422.9,15.4L422.9,15.4ZM433.9,15.8L433.9,-10.2L438.8,16L438.8,16Z" fill="rgba(0,0,70,0.24)"/>
<path transform="translate(367.80,1140.32)" d="M0,0L0,-3.2L6,0.2L112.7,4.1L116.7,3.7L118.7,4.3L179.5,6.5L183.5,-1.6L187.5,-12.5L190.5,-14.3L192.5,-12.8L193.5,-13.1L195.5,-18.5L199.5,-44L208.5,-126L211.4,-141.1L214.4,-147.6L216.4,-144.8L218.4,-137.4L221.4,-118.7L232.4,3.3L233.4,8.5L240.4,8.8L241.4,7.5L242.4,-1.8L253.3,-122L256.3,-139.9L259.3,-148.7L262.3,-138.6L264.3,-126.7L273.3,-36.4L276.3,-14L278.3,-7.2L279.3,-20.6L281.3,-29.3L284.3,-51.5L292.2,-125.1L294.2,-136.4L297.2,-145.8L299.2,-139.9L301.2,-129.7L311.2,-48.2L315.2,-22.3L318.2,-33.1L322.2,-56.5L327.1,-102L330.1,-118.1L331.1,-118.9L334.1,-105L338.1,-74.5L345.1,-43.5L347.1,-20.6L349.1,-21.3L351.1,-24.7L355.1,-60.3L359.1,-85.7L360.1,-84.6L362.1,-71.9L368,-20.8L370,-19.1L371,-19.5L373,-26.2L376,-21L380,-21L385,-58.3L386,-56.4L388,-41L393,8.3L395,10.4L396,10L398,4.5L399,12.1L404.9,-10.6L407.9,-34.3L411.9,-50.5L416.9,-12L421.9,6.3L422.9,14.4L423.9,15.4L427.9,15.6L430.9,-5.7L433.9,-18.6L439.8,16L453.8,16.5L454.8,15.9L455.8,16.6L1087.1,39.5L1087.1,39.6Z"/>
<path transform="translate(367.80,1140.32)" d="M215.4,7.8L215.4,-147L218.4,-137.4L221.4,-118.7L233.4,8.5L233.4,8.5ZM259.3,9.4L259.3,-148.7L264.3,-126.7L273.3,-36.4L276.3,-14L278.3,-7.2L278.3,10.1ZM297.2,10.8L297.2,-145.8L301.2,-129.7L315.2,-22.3L315.2,11.5ZM331.1,12.1L331.1,-118.9L334.1,-105L338.1,-74.5L345.1,-43.5L347.1,-20.6L347.1,12.6ZM359.1,13.1L359.1,-85.7L360.1,-84.6L363,-64.6L367,-25.1L369,-19.7L369,13.4ZM385,14L385,-58.3L388,-41L393,8.3L394,9.7L394,14.3ZM411.9,15L411.9,-50.5L416.9,-12L421.9,6.3L422.9,14.4L423.9,15.4L423.9,15.4ZM433.9,15.8L433.9,-18.6L439.8,16L439.8,16Z" fill="rgba(0,0,70,0.24)"/>
<path transform="translate(365.23,1145.03)" d="M0,0L0,0L179.5,6.5L182.5,1.1L187.5,-12.2L190.5,-14L192.5,-12.5L193.5,-12.7L195.5,-18.1L199.5,-43.7L208.5,-125.8L211.4,-140.9L214.4,-147.3L216.4,-144.5L218.4,-137.2L221.4,-118.4L231.4,-6.2L233.4,8.5L241.4,8.8L252.3,-109.2L255.3,-130.5L257.3,-139.1L259.3,-144L262.3,-133.9L264.3,-122.2L273.3,-32.6L276.3,-10.5L278.3,-3.9L279.3,-15.6L281.3,-23.5L284.3,-44.4L292.2,-116.2L294.2,-127.5L297.2,-136.9L299.2,-130.9L301.2,-120.7L310.2,-49L315.2,-15.5L318.2,-24.2L322.2,-45.3L327.1,-90.5L330.1,-106.9L331.1,-107.8L334.1,-93.6L338.1,-63.6L342.1,-45.8L345.1,-36.5L346.1,-20.4L347.1,-16.2L348.1,-15.8L349.1,-16.4L351.1,-19.3L355.1,-54.8L359.1,-80.2L360.1,-79.2L362.1,-66.3L367,-19.5L368,-15.4L370,-14.2L372,-17L373,-26.5L376,-22.8L380,-24.6L385,-61.2L386,-59.4L388,-44.4L393,4.4L395,7.6L396,7.8L398,3.5L399,8.1L404.9,-19.1L408.9,-48.6L411.9,-59L416.9,-22.2L421.9,-0.9L423.9,15.4L424.9,15.5L425.9,13.3L427.9,6.2L430.9,-15.6L433.9,-28L441.8,16.1L450.8,16.4L452.8,10.6L454.8,7.3L456.8,16.6L477.7,17.4L478.7,16.4L479.7,17.5L1087.1,39.5L1087.1,39.6Z"/>
<path transform="translate(365.23,1145.03)" d="M215.4,7.8L215.4,-146.8L218.4,-137.2L221.4,-118.4L233.4,8.5L233.4,8.5ZM259.3,9.4L259.3,-144L264.3,-122.2L273.3,-32.6L276.3,-10.5L278.3,-3.9L278.3,10.1ZM297.2,10.8L297.2,-136.9L301.2,-120.7L315.2,-15.5L315.2,11.5ZM331.1,12.1L331.1,-107.8L334.1,-93.6L338.1,-63.6L345.1,-36.5L347.1,-16.2L347.1,12.6ZM359.1,13.1L359.1,-80.2L360.1,-79.2L362.1,-66.3L368,-15.4L368,13.4ZM385,14L385,-61.2L388,-44.4L393,4.4L395,7.6L395,14.4ZM411.9,15L411.9,-59L416.9,-22.2L421.9,-0.9L423.9,15.4L423.9,15.4ZM433.9,15.8L433.9,-28L441.8,16.1L441.8,16.1Z" fill="rgba(0,0,70,0.24)"/>
<path transform="translate(362.67,1149.75)" d="M0,0L0,0L179.5,6.5L182.5,1.1L187.5,-12.1L190.5,-13.7L192.5,-11.8L193.5,-11.8L195.5,-16.7L199.5,-41.1L208.5,-121.5L211.4,-136.3L214.4,-142.6L216.4,-139.7L218.4,-132.4L221.4,-113.8L232.4,7.6L233.4,8.5L241.4,8.8L242.4,6.9L252.3,-101.7L255.3,-122.7L259.3,-136.2L262.3,-126L264.3,-114.3L273.3,-26.6L276.3,-5.5L278.3,0.4L279.3,-10.3L282.3,-22.4L287.2,-59.1L292.2,-105.9L294.2,-117L297.2,-126.5L301.2,-110.1L310.2,-40.9L314.2,-19.6L315.2,-9.3L316.2,-10.2L318.2,-16.3L322.2,-35.2L327.1,-80.1L330.1,-96.8L331.1,-97.7L334.1,-83.4L338.1,-53.7L342.1,-37.9L345.1,-30.2L346.1,-15.1L347.1,-13.3L349.1,-13.7L351.1,-16.5L355.1,-51.9L359.1,-77.2L360.1,-76.2L362.1,-63.4L367,-16.7L368,-12.6L370,-11.5L372,-14.4L373,-28.5L375,-26.7L376,-26.9L380,-31.1L385,-66.9L386,-65.1L388,-50.8L393,-2.6L396,3L398,0.5L399,3.1L404.9,-28.8L407.9,-52.9L411.9,-68.6L416.9,-33.4L421.9,-9.2L423.9,13.8L427.9,-2L430.9,-23.8L433.9,-35.9L435.9,-27.7L438.8,-6.7L442.8,14.2L443.8,16.2L449.8,16.4L452.8,5.4L454.8,2.3L457.8,16.7L477.7,17.4L478.7,16.9L479.7,17.5L1087.1,39.5L1087.1,39.6Z"/>
<path transform="translate(362.67,1149.75)" d="M215.4,7.8L215.4,-142L219.4,-127.5L222.4,-105.1L232.4,7.6L232.4,8.5ZM259.3,9.4L259.3,-136.2L264.3,-114.3L273.3,-26.6L276.3,-5.5L278.3,0.4L278.3,10.1ZM297.2,10.8L297.2,-126.5L301.2,-110.1L315.2,-9.3L315.2,11.5ZM331.1,12.1L331.1,-97.7L334.1,-83.4L338.1,-53.7L345.1,-30.2L346.1,-15.1L347.1,-13.3L347.1,12.6ZM359.1,13.1L359.1,-77.2L360.1,-76.2L362.1,-63.4L368,-12.6L368,13.4ZM385,14L385,-66.9L388,-50.8L393,-2.6L396,3L396,14.4ZM411.9,15L411.9,-68.6L416.9,-33.4L421.9,-9.2L423.9,13.8L423.9,15.4ZM433.9,15.8L433.9,-35.9L443.8,16.2L443.8,16.2ZM454.8,16.6L454.8,2.3L457.8,16.7L457.8,16.7Z" fill="rgba(0,0,70,0.24)"/>
<path transform="translate(360.11,1154.47)" d="M0,0L0,0L179.5,6.5L182.5,1.1L187.5,-11.8L190.5,-13L193.5,-10.2L194.5,-11.4L196.5,-18.1L200.5,-44.3L208.5,-113.5L211.4,-127.9L214.4,-133.9L216.4,-131L218.4,-123.7L221.4,-105.5L232.4,8.5L242.4,8.8L253.3,-100.7L256.3,-117.9L259.3,-126.7L262.3,-116.4L264.3,-104.9L273.3,-19.4L276.3,0.2L278.3,5.2L279.3,-5.2L282.3,-15.9L287.2,-50.3L292.2,-96.3L294.2,-107.2L297.2,-116.7L301.2,-100.2L310.2,-33.4L314.2,-14L315.2,-4.5L316.2,-5.1L318.2,-10.5L322.2,-28.1L327.1,-72.8L330.1,-89.6L331.1,-90.5L334.1,-76.1L338.1,-46.7L342.1,-32.1L345.1,-25.5L346.1,-14.2L347.1,-12.8L349.1,-13.8L351.1,-17.2L355.1,-52.7L359.1,-77.7L360.1,-76.7L363,-56.9L367,-17.6L368,-13.4L370,-11.7L371,-12.1L372,-15.6L373,-32.3L375,-32.4L376,-33.6L380,-40.9L385,-75.7L386,-74L388,-60.5L393,-12.9L396,-4.5L397,-4L398,-4.7L399,-2.5L404.9,-38.9L407.9,-63.3L409.9,-73.1L411.9,-78.7L413.9,-68.9L416.9,-45.1L421.9,-18.1L423.9,8.5L427.9,-8L430.9,-29.9L433.9,-41.6L435.9,-33.7L443.8,16.2L449.8,16.4L452.8,3.8L454.8,0.7L457.8,16.7L1087.1,39.5L1087.1,39.6Z"/>
<path transform="translate(360.11,1154.47)" d="M215.4,7.8L215.4,-133.3L218.4,-123.7L221.4,-105.5L232.4,8.5L232.4,8.5ZM259.3,9.4L259.3,-126.7L264.3,-104.9L273.3,-19.4L276.3,0.2L278.3,5.2L278.3,10.1ZM297.2,10.8L297.2,-116.7L301.2,-100.2L310.2,-33.4L315.2,-4.5L315.2,11.5ZM331.1,12.1L331.1,-90.5L338.1,-46.7L342.1,-32.1L345.1,-25.5L346.1,-14.2L347.1,-12.8L347.1,12.6ZM359.1,13.1L359.1,-77.7L360.1,-76.7L363,-56.9L367,-17.6L369,-12.3L369,13.4ZM385,14L385,-75.7L388,-60.5L393,-12.9L396,-4.5L396,14.4ZM411.9,15L411.9,-78.7L421.9,-18.1L423.9,8.5L423.9,15.4ZM433.9,15.8L433.9,-41.6L443.8,16.2L443.8,16.2ZM454.8,16.6L454.8,0.7L457.8,16.7L457.8,16.7Z" fill="rgba(0,0,70,0.24)"/>
<path transform="translate(357.54,1159.18)" d="M0,0L0,0L179.5,6.5L182.5,1.2L187.5,-11.5L190.5,-12.2L193.5,-8.3L194.5,-8.8L196.5,-14.4L200.5,-37.7L208.5,-103.1L211.4,-116.7L214.4,-122.4L216.4,-119.3L218.4,-112.2L221.4,-94.4L231.4,8.4L243.4,8.9L253.3,-91.4L256.3,-108.3L259.3,-117.1L262.3,-106.7L264.3,-95.3L272.3,-19.7L276.3,5.8L277.3,9L278.3,9.9L279.3,-1L282.3,-10.5L287.2,-43.3L292.2,-88.7L294.2,-99.4L297.2,-108.9L301.2,-92.3L310.2,-27.3L312.2,-16L314.2,-9.2L315.2,-1.3L316.2,-1.9L318.2,-7.3L322.2,-24.5L327.1,-69L330.1,-85.8L331.1,-86.7L334.1,-72.4L338.1,-43.2L342.1,-28.8L345.1,-22.4L346.1,-15.1L347.1,-14.4L349.1,-16.7L351.1,-21.3L355.1,-57L359.1,-81.4L360.1,-80.4L363,-61.2L367,-22.3L368,-17.6L370,-14.7L371,-14.4L373,-37.6L375,-40L380,-53.1L385,-86.6L386,-85.1L389,-64.9L393,-25.6L396,-14L398,-11.6L399,-7.7L407.9,-72.6L409.9,-82.4L411.9,-87.8L421.9,-26.2L423.9,1L424.9,3.5L427.9,-10.6L430.9,-32.4L433.9,-44L436.9,-30.5L443.8,16.2L449.8,16.4L452.8,6L454.8,3L456.8,14.5L457.8,16.7L1087.1,39.5L1087.1,39.6Z"/>
<path transform="translate(357.54,1159.18)" d="M215.4,7.8L215.4,-121.7L218.4,-112.2L221.4,-94.4L231.4,8.4L231.4,8.4ZM259.3,9.4L259.3,-117.1L264.3,-95.3L270.3,-35.1L274.3,-5.3L277.3,9L277.3,10.1ZM297.2,10.8L297.2,-108.9L301.2,-92.3L310.2,-27.3L315.2,-1.3L315.2,11.5ZM331.1,12.1L331.1,-86.7L338.1,-43.2L342.1,-28.8L345.1,-22.4L346.1,-15.1L346.1,12.6ZM360.1,13.1L360.1,-80.4L364,-53.2L367,-22.3L368,-17.6L370,-14.7L370,13.5ZM385,14L385,-86.6L386,-85.1L389,-64.9L393,-25.6L397,-12.2L397,14.5ZM411.9,15L411.9,-87.8L421.9,-26.2L423.9,1L424.9,3.5L424.9,15.5ZM433.9,15.8L433.9,-44L436.9,-30.5L443.8,16.2L443.8,16.2ZM454.8,16.6L454.8,3L457.8,16.7L457.8,16.7Z" fill="rgba(0,0,70,0.24)"/>
<path transform="translate(354.98,1163.90)" d="M0,0L0,0L179.5,6.5L182.5,1.3L187.5,-11.2L190.5,-11.4L193.5,-6.2L194.5,-6.3L196.5,-10.5L200.5,-30.7L208.5,-91.6L211.4,-104.3L214.4,-109.6L216.4,-106.5L218.4,-99.4L221.4,-82.2L230.4,8.4L243.4,8.9L244.4,6.1L247.4,-21.4L253.3,-83.4L256.3,-100L259.3,-108.9L262.3,-98.4L264.3,-87.1L270.3,-27.7L276.3,10.1L278.3,10.1L279.3,2.3L282.3,-6.8L287.2,-38.9L292.2,-83.9L294.2,-94.5L297.2,-104L301.2,-87.4L310.2,-23.3L315.2,0.2L316.2,-0.6L318.2,-6.5L322.2,-24.6L326.1,-62.1L330.1,-85.5L331.1,-86.5L333.1,-77.8L338.1,-43.1L342.1,-28L346.1,-17.9L347.1,-18.1L348.1,-19.7L351.1,-28.4L356.1,-71.5L359.1,-88.1L360.1,-87.2L364,-60.8L367,-30L368,-24.8L371,-19L373,-43.8L375,-48.4L380,-66L382,-82.2L385,-98.4L386,-97L389,-77.9L393,-39.1L396,-24.4L398,-19.4L399,-11.2L407.9,-79.1L409.9,-88.8L411.9,-94.1L413.9,-85.3L421.9,-31.8L424.9,5.2L427.9,-8.9L430.9,-30.7L433.9,-42.3L436.9,-28.7L443.8,16.2L450.8,16.4L454.8,8.6L456.8,16.6L1087.1,39.5L1087.1,39.6Z"/>
<path transform="translate(354.98,1163.90)" d="M215.4,7.8L215.4,-108.9L218.4,-99.4L221.4,-82.2L230.4,8.4L230.4,8.4ZM259.3,9.4L259.3,-108.9L264.3,-87.1L270.3,-27.7L276.3,10.1L276.3,10.1ZM297.2,10.8L297.2,-104L301.2,-87.4L310.2,-23.3L315.2,0.2L315.2,11.5ZM331.1,12.1L331.1,-86.5L338.1,-43.1L342.1,-28L346.1,-17.9L346.1,12.6ZM360.1,13.1L360.1,-87.2L364,-60.8L367,-30L368,-24.8L371,-19L371,13.5ZM385,14L385,-98.4L386,-97L389,-77.9L393,-39.1L396,-24.4L398,-19.4L399,-11.2L399,14.5ZM411.9,15L411.9,-94.1L421.9,-31.8L424.9,5.2L424.9,15.5ZM433.9,15.8L433.9,-42.3L443.8,16.2L443.8,16.2Z" fill="rgba(0,0,70,0.24)"/>
<path transform="translate(352.42,1168.62)" d="M0,0L0,0L179.5,6.5L181.5,3.5L187.5,-10.9L190.5,-10.7L193.5,-4.4L194.5,-3.9L196.5,-7L198.5,-13.9L201.5,-30.4L208.5,-80.7L211.4,-92.4L214.4,-97.4L216.4,-94.1L218.4,-87.1L221.4,-70.5L229.4,7.8L230.4,8.4L244.4,8.9L253.3,-78L256.3,-94.3L259.3,-103.2L262.3,-92.7L264.3,-81.5L270.3,-22.6L275.3,10L278.3,10.1L282.3,-5L287.2,-37.6L292.2,-82.6L294.2,-93.1L297.2,-102.5L301.2,-86.1L311.2,-15.4L315.2,0.2L317.2,-4.1L322.2,-28.1L326.1,-65.7L330.1,-88.6L331.1,-89.5L333.1,-81.1L338.1,-46.4L342.1,-29.6L344.1,-23.6L346.1,-22.2L348.1,-26.1L351.1,-37.7L356.1,-81L359.1,-96.9L360.1,-96.1L364,-70.7L367,-40.1L368,-34.3L371,-25.4L373,-49.8L380,-77.9L382,-93.9L385,-109.4L386,-108.1L388,-96.9L393,-51.4L398,-26.8L399,-12.2L407.9,-81.5L409.9,-91.2L411.9,-96.5L413.9,-87.8L421.9,-33.8L424.9,10.4L427.9,-3L430.9,-24.8L433.9,-36.4L435.9,-28.4L442.8,14L443.8,16.2L1087.1,39.5L1087.1,39.6Z"/>
<path transform="translate(352.42,1168.62)" d="M215.4,7.8L215.4,-96.6L218.4,-87.1L221.4,-70.5L229.4,7.8L229.4,8.4ZM259.3,9.4L259.3,-103.2L264.3,-81.5L270.3,-22.6L275.3,10L275.3,10ZM297.2,10.8L297.2,-102.5L301.2,-86.1L311.2,-15.4L315.2,0.2L315.2,11.5ZM331.1,12.1L331.1,-89.5L334.1,-75.6L338.1,-46.4L344.1,-23.6L344.1,12.5ZM360.1,13.1L360.1,-96.1L364,-70.7L367,-40.1L371,-25.4L371,13.5ZM385,14L385,-109.4L388,-96.9L393,-51.4L398,-26.8L399,-12.2L399,14.5ZM411.9,15L411.9,-96.5L421.9,-33.8L424.9,10.4L424.9,15.5ZM433.9,15.8L433.9,-36.4L443.8,16.2L443.8,16.2Z" fill="rgba(0,0,70,0.24)"/>
<path transform="translate(349.85,1173.33)" d="M0,0L0,0L179.5,6.5L181.5,3.6L187.5,-10.7L190.5,-10.1L193.5,-3L194.5,-2.1L196.5,-4.2L197.5,-6.6L202.5,-30.5L208.5,-71.8L211.4,-82.7L214.4,-87.2L216.4,-83.9L218.4,-77L221.4,-60.8L228.4,6.7L229.4,8.4L244.4,8.9L247.4,-14.6L253.3,-75.9L256.3,-92.1L259.3,-100.9L262.3,-90.5L264.3,-79.4L270.3,-20.6L274.3,6.6L275.3,10L278.3,10.1L281.3,-0.2L283.3,-11.4L287.2,-39.4L292.2,-84.8L294.2,-95.3L297.2,-104.5L301.2,-88.4L311.2,-15.7L313.2,-6L315.2,-1.3L317.2,-7.1L322.2,-34.3L326.1,-72.1L330.1,-94.5L331.1,-95.4L333.1,-87.2L338.1,-52.4L344.1,-25.9L346.1,-27.3L347.1,-29.7L351.1,-47.9L356.1,-91.5L359.1,-106.8L360.1,-106L364,-81.5L367,-51.1L371,-32.8L372,-37L373,-54.4L380,-86.9L382,-102.8L385,-117.7L386,-116.6L389,-99L393,-60.8L398,-32.5L399,-17.1L400,-17.1L408.9,-84.7L411.9,-94.1L412.9,-90.9L421.9,-31.5L424.9,13.9L425.9,14.4L427.9,6.3L430.9,-15.4L433.9,-27.2L441.8,16.1L1087.1,39.5L1087.1,39.6Z"/>
<path transform="translate(349.85,1173.33)" d="M215.4,7.8L215.4,-86.4L219.4,-72.7L221.4,-60.8L227.4,-1.4L229.4,8.4L229.4,8.4ZM259.3,9.4L259.3,-100.9L264.3,-79.4L270.3,-20.6L275.3,10L275.3,10ZM297.2,10.8L297.2,-104.5L301.2,-88.4L311.2,-15.7L315.2,-1.3L315.2,11.5ZM331.1,12.1L331.1,-95.4L334.1,-81.8L338.1,-52.4L344.1,-25.9L344.1,12.5ZM360.1,13.1L360.1,-106L364,-81.5L367,-51.1L371,-32.8L371,13.5ZM385,14L385,-117.7L386,-116.6L389,-99L393,-60.8L398,-32.5L399,-17.1L399,14.5ZM411.9,15L411.9,-94.1L421.9,-31.5L424.9,13.9L424.9,15.5ZM433.9,15.8L433.9,-27.2L441.8,16.1L441.8,16.1Z" fill="rgba(0,0,70,0.24)"/>
<path transform="translate(347.29,1178.05)" d="M0,0L0,0L179.5,6.5L181.5,3.6L187.5,-10.5L190.5,-9.8L194.5,-0.9L196.5,-2.4L197.5,-4.4L202.5,-26.3L208.5,-65.9L211.4,-76.2L214.4,-80.5L215.4,-79.6L217.4,-73.8L220.4,-60.8L228.4,8.3L244.4,8.9L253.3,-77.5L256.3,-93.8L259.3,-102.5L262.3,-92.2L264.3,-81.1L270.3,-22L274.3,6.4L275.3,10L278.3,10.1L281.3,-1.6L283.3,-14L292.2,-90.1L294.2,-100.7L297.2,-109.8L301.2,-93.9L311.2,-18.1L314.2,-3.2L315.2,-3.8L316.2,-6.8L318.2,-17.1L322.2,-42.4L326.1,-80.3L330.1,-102.2L331.1,-103L333.1,-95.1L338.1,-60.1L344.1,-29.5L346.1,-32.4L348.1,-40.7L351.1,-57.6L356.1,-101.5L359.1,-116.1L360.1,-115.4L364,-91.7L368,-54.5L371,-39.9L372,-39.1L373,-56.5L380,-91.7L382,-107.5L385,-122.1L386,-121L389,-103.8L393,-65.8L398,-35.4L400,-11.6L407.9,-72.4L409.9,-82L411.9,-87.2L413.9,-78.2L421.9,-25.1L424.9,15.5L427.9,15.6L430.9,-3.8L433.9,-15.8L435.9,-7L438.8,14.5L439.8,16L1087.1,39.5L1087.1,39.6Z"/>
<path transform="translate(347.29,1178.05)" d="M215.4,7.8L215.4,-79.6L219.4,-66L221.4,-54.4L228.4,8.3L228.4,8.3ZM259.3,9.4L259.3,-102.5L264.3,-81.1L270.3,-22L275.3,10L275.3,10ZM297.2,10.8L297.2,-109.8L301.2,-93.9L311.2,-18.1L314.2,-3.2L314.2,11.4ZM331.1,12.1L331.1,-103L344.1,-29.5L344.1,12.5ZM360.1,13.1L360.1,-115.4L364,-91.7L368,-54.5L371,-39.9L371,13.5ZM385,14L385,-122.1L386,-121L389,-103.8L393,-65.8L398,-35.4L400,-11.6L400,14.6ZM411.9,15L411.9,-87.2L421.9,-25.1L424.9,15.5L424.9,15.5ZM433.9,15.8L433.9,-15.8L439.8,16L439.8,16Z" fill="rgba(0,0,70,0.24)"/>
<path transform="translate(344.73,1182.77)" d="M0,0L0,0L179.5,6.5L181.5,3.6L187.5,-10.5L190.5,-9.7L194.5,-0.4L196.5,-1.6L197.5,-3.5L202.5,-24.7L208.5,-63.7L211.4,-73.7L214.4,-77.9L215.4,-77L218.4,-67.6L221.4,-51.9L227.4,6.2L228.4,8.3L244.4,8.9L253.3,-83L256.3,-99.4L259.3,-108L262.3,-97.9L265.3,-79.4L270.3,-26.8L274.3,3.9L275.3,10L278.3,10.1L283.3,-18.2L292.2,-97.8L294.2,-108.5L297.2,-117.4L300.2,-107.2L302.2,-95.2L311.2,-22.1L314.2,-4.9L316.2,-10.7L318.2,-22.8L322.2,-50.9L326.1,-89.1L330.1,-110.4L331.1,-111.1L333.1,-103.5L342.1,-44.1L344.1,-33.5L345.1,-33.8L347.1,-40.7L351.1,-65.2L355.1,-102.5L359.1,-123.5L360.1,-122.8L363,-107L368,-62.2L372,-41.4L373,-55.6L380,-91.5L383,-113.1L385,-121.8L386,-120.7L389,-103.6L393,-65.6L398,-34.7L400,-3.6L407.9,-61.8L409.9,-71.3L411.9,-76.6L421.9,-15.3L423.9,11.5L424.9,15.5L428.9,15.6L429.9,14.8L433.9,-4L437.9,15.9L1087.1,39.5L1087.1,39.6Z"/>
<path transform="translate(344.73,1182.77)" d="M215.4,7.8L215.4,-77L219.4,-63.4L221.4,-51.9L227.4,6.2L228.4,8.3L228.4,8.3ZM259.3,9.4L259.3,-108L262.3,-97.9L265.3,-79.4L270.3,-26.8L275.3,10L275.3,10ZM297.2,10.8L297.2,-117.4L302.2,-95.2L314.2,-4.9L314.2,11.4ZM331.1,12.1L331.1,-111.1L334.1,-98.3L344.1,-33.5L344.1,12.5ZM360.1,13.1L360.1,-122.8L364,-99.7L368,-62.2L372,-41.4L372,13.5ZM385,14L385,-121.8L388,-110.3L393,-65.6L398,-34.7L400,-3.6L400,14.6ZM411.9,15L411.9,-76.6L421.9,-15.3L424.9,15.5L424.9,15.5ZM433.9,15.8L433.9,-4L437.9,15.9L437.9,15.9Z" fill="rgba(0,0,70,0.24)"/>
<path transform="translate(342.16,1187.48)" d="M0,0L0,0L179.5,6.5L181.5,3.6L187.5,-10.5L190.5,-9.8L194.5,-0.6L196.5,-1.9L197.5,-4L202.5,-25.8L208.5,-65.5L211.4,-75.7L214.4,-79.9L215.4,-79L217.4,-73.2L220.4,-60.1L223.4,-37.2L227.4,5.1L228.4,8.3L243.4,8.9L253.3,-91.7L256.3,-108.5L259.3,-116.8L262.3,-107L265.3,-88.3L270.3,-34.7L275.3,6.6L276.3,10.1L278.3,10.1L282.3,-14.9L292.2,-106.6L294.2,-117.4L297.2,-126.1L300.2,-116.3L302.2,-104.3L311.2,-27.1L314.2,-7.3L315.2,-9.4L317.2,-20.6L322.2,-58.4L326.1,-96.7L330.1,-117.5L331.1,-118.2L334.1,-105.8L343.1,-42.6L345.1,-35.1L347.1,-43.2L351.1,-69.5L356.1,-113.6L359.1,-127.5L360.1,-126.9L363,-111.4L368,-66.5L372,-43.9L380,-86.3L383,-107.9L385,-116.7L386,-115.6L389,-98.4L393,-60.4L398,-30.6L400,0.3L400.9,-0.4L404.9,-25L407.9,-49.1L409.9,-58.4L411.9,-63.7L413.9,-53.6L416.9,-29.7L421.9,-3.6L423.9,15.4L430.9,15.7L433.9,6.8L435.9,15.9L1087.1,39.5L1087.1,39.6Z"/>
<path transform="translate(342.16,1187.48)" d="M215.4,7.8L215.4,-79L219.4,-65.4L221.4,-53.7L228.4,8.3L228.4,8.3ZM259.3,9.4L259.3,-116.8L262.3,-107L265.3,-88.3L270.3,-34.7L276.3,10.1L276.3,10.1ZM297.2,10.8L297.2,-126.1L300.2,-116.3L302.2,-104.3L314.2,-7.3L314.2,11.4ZM331.1,12.1L331.1,-118.2L334.1,-105.8L343.1,-42.6L345.1,-35.1L345.1,12.6ZM360.1,13.1L360.1,-126.9L363,-111.4L368,-66.5L372,-43.9L372,13.5ZM385,14L385,-116.7L388,-105.1L393,-60.4L398,-30.6L400,0.3L400,14.6ZM411.9,15L411.9,-63.7L421.9,-3.6L423.9,15.4L423.9,15.4Z" fill="rgba(0,0,70,0.24)"/>
</g>
<linearGradient id="hs" x1="0" y1="0" x2="1" y2="0"><stop offset="0" stop-color="#000060" stop-opacity="0"/><stop offset="0.55" stop-color="#000060" stop-opacity="0.05"/><stop offset="1" stop-color="#000060" stop-opacity="0.22"/></linearGradient>
<path d="M548.0,696.0L567.0,703.0L585.0,705.0L592.5,714.0L603.4,736.0L614.4,750.0L621.7,772.0L632.6,794.0L640.0,823.0L650.0,845.0L655.0,872.0L660.0,905.0L648.0,907.0L634.3,874.0L621.5,847.0L604.4,825.0L590.8,796.0L574.6,774.0L562.7,752.0L548.0,738.0L534.2,716.0L524.7,707.0L505.4,705.0L486.0,698.0" fill="url(#hs)"/>
<path d="M1305.5,591.2V919.4M1310.5,609.0V887.0M1315.5,624.5V861.1M1319.5,580.2V913.1M1320.5,615.1V864.1M1327.5,571.1V888.0M1344.5,680.3V898.5M1350.5,689.1V896.9M1365.5,830.8V869.0M1390.5,816.8V918.6M1416.5,803.2V902.5M1423.5,759.0V894.4M1460.5,598.2V887.4M1468.5,668.7V861.6M1489.5,780.4V902.4M1492.5,793.0V882.2M1518.5,482.9V885.5M1522.5,523.1V903.4M1529.5,527.4V871.9M1532.5,516.7V881.9M1537.5,634.9V906.8M1551.5,756.7V869.5M1553.5,737.0V874.3M1559.5,837.6V891.9M1563.5,772.2V866.6M1565.5,754.2V895.7M1567.5,725.9V897.4M1570.5,665.2V899.1M1577.5,625.4V865.1" stroke="#000050" stroke-opacity="0.13" stroke-width="1" fill="none" shape-rendering="crispEdges"/>
<path d="M1313.5,634.6V861.5M1323.5,568.1V915.5M1334.5,576.6V879.7M1353.5,706.8V902.2M1361.5,845.4V883.5M1364.5,834.0V892.4M1387.5,843.2V900.4M1395.5,782.8V880.5M1398.5,816.4V912.3M1409.5,850.5V911.1M1412.5,820.9V902.3M1425.5,756.8V901.1M1438.5,746.1V906.8M1442.5,790.5V888.4M1445.5,747.9V889.5M1450.5,703.8V891.2M1453.5,674.4V858.2M1471.5,742.8V885.1M1475.5,758.9V877.0M1478.5,807.1V916.9M1494.5,783.3V923.8M1510.5,524.5V924.4M1515.5,500.3V895.0M1524.5,533.5V923.2M1530.5,544.7V908.6M1538.5,639.8V924.7M1543.5,723.9V887.2M1572.5,673.9V868.7" stroke="#9fe0ff" stroke-opacity="0.09" stroke-width="1" fill="none" shape-rendering="crispEdges"/>
<path d="M973.5,694.6V877.8M975.5,723.3V888.9M982.5,682.6V850.3M984.5,690.9V848.9M987.5,707.8V861.7M993.5,743.6V873.2M995.5,767.1V839.9M999.5,718.8V904.6M1003.5,758.4V907.5M1008.5,742.3V901.3M1009.5,744.8V890.4M1014.5,704.3V872.6M1015.5,726.8V854.8M1018.5,725.0V905.0M1028.5,776.5V908.0M1037.5,774.9V868.7M1045.5,779.3V890.9M1050.5,778.2V889.0M1061.5,759.5V844.9M1071.5,760.6V861.7M1072.5,765.8V875.6M1086.5,755.4V871.0M1092.5,784.0V905.5M1094.5,763.8V897.0M1098.5,698.2V860.5M1103.5,702.4V845.9M1108.5,670.5V843.9" stroke="#000050" stroke-opacity="0.13" stroke-width="1" fill="none" shape-rendering="crispEdges"/>
<path d="M978.5,691.7V850.9M979.5,712.8V873.7M997.5,749.7V856.0M1034.5,766.3V857.5M1040.5,782.7V856.5M1052.5,752.9V904.7M1065.5,803.3V862.3M1073.5,796.6V904.5M1076.5,763.8V846.6M1081.5,803.5V900.4M1101.5,708.5V902.3M1113.5,640.4V870.0M1118.5,567.9V889.8" stroke="#9fe0ff" stroke-opacity="0.09" stroke-width="1" fill="none" shape-rendering="crispEdges"/>
<g class="g">
<path d="M877.8,1019.4L1064.7,1026.2M1073.7,1026.5L1158.6,1029.6M1233.6,1032.4L1532.3,1043.2M412.9,1098.7L557.7,1103.9M830.5,1113.9L1161.3,1125.9M1177.3,1126.5L1481.1,1137.6" stroke-dasharray="14 14"/>
<path d="M483.8,1107.0L435.6,1195.7M559.7,1095.2L503.7,1198.2M558.7,1196.1L556.5,1200.1M601.9,1197.7L599.7,1201.7M638.3,1199.0L636.2,1203.0M669.9,1200.2L667.8,1204.2M697.8,1201.2L695.7,1205.2M722.8,1202.1L720.6,1206.1M1007.6,985.8L884.7,1212.1M1087.9,1018.2L980.7,1215.5M1161.4,1010.8L1048.8,1218.0M1160.1,1112.3L1101.6,1219.9M1272.6,986.4L1144.8,1221.5M1311.8,982.7L1310.2,985.7M1309.1,987.7L1181.3,1222.8M1335.8,997.8L1334.2,1000.8M1333.1,1002.8L1331.5,1005.8M1330.4,1007.8L1212.9,1224.0M1376.2,975.9L1240.8,1225.0M1397.8,982.9L1392.3,992.9M1388.0,1000.9L1265.7,1225.9" stroke-dasharray="1 1.5"/>
</g>
<path d="M392,1194.1L398,1191.3L404,1188.5L410,1182.8L417.6,1176.0L422,1183.2L426.6,1195.4ZM563.0,1200.3L571.5,1192.6L572.0,1200.7ZM585.2,1201.1L593.7,1187.5L594.2,1201.5ZM605.5,1201.9L614.0,1185.2L614.5,1202.2ZM641.8,1203.2L650.3,1190.5L650.8,1203.5ZM658.5,1203.8L667.0,1192.1L667.5,1204.1ZM674.0,1204.4L682.5,1189.7L683.0,1204.7ZM688.4,1204.9L696.9,1187.2L697.4,1205.2ZM702.4,1205.4L710.9,1191.7L711.4,1205.7ZM715.4,1205.9L723.9,1193.2L724.4,1206.2ZM727.8,1206.3L736.2,1191.6L736.8,1206.7ZM741.2,1206.8L749.7,1201.1L750.2,1207.2Z" fill="#fff" shape-rendering="crispEdges"/>
<g class="g"><path d="M339.6,1192.2L1429.8,1231.9"/></g>
<rect x="1770.5" y="268.5" width="47" height="930" fill="url(#cb)"/>
<g class="g"><rect x="1770.5" y="268.5" width="47" height="930" fill="none" stroke="#000" shape-rendering="crispEdges"/>
<path d="M1817.5,268.5H1826M1817.5,454.5H1826M1817.5,640.5H1826M1817.5,826.5H1826M1817.5,1012.5H1826M1817.5,1198.5H1826"/></g>
<text class="a" x="1835.6" y="278.6" text-anchor="start" textLength="31.1" lengthAdjust="spacingAndGlyphs" xml:space="preserve">0.0</text>
<text class="a" x="244.4" y="429.7" text-anchor="start" textLength="31.1" lengthAdjust="spacingAndGlyphs" xml:space="preserve">0.0</text>
<text class="a" x="1836.8" y="464.6" text-anchor="start" textLength="40.7" lengthAdjust="spacingAndGlyphs" xml:space="preserve">-5.0</text>
<text class="a" x="234.8" y="586.6" text-anchor="start" textLength="40.7" lengthAdjust="spacingAndGlyphs" xml:space="preserve">-5.0</text>
<text class="a" x="1836.8" y="650.6" text-anchor="start" textLength="53.6" lengthAdjust="spacingAndGlyphs" xml:space="preserve">-10.0</text>
<text class="a" x="221.9" y="743.5" text-anchor="start" textLength="53.6" lengthAdjust="spacingAndGlyphs" xml:space="preserve">-10.0</text>
<text class="a" x="1836.8" y="836.6" text-anchor="start" textLength="53.6" lengthAdjust="spacingAndGlyphs" xml:space="preserve">-15.0</text>
<text class="a" x="221.9" y="900.4" text-anchor="start" textLength="53.6" lengthAdjust="spacingAndGlyphs" xml:space="preserve">-15.0</text>
<text class="a" x="1836.8" y="1022.6" text-anchor="start" textLength="53.6" lengthAdjust="spacingAndGlyphs" xml:space="preserve">-20.0</text>
<text class="a" x="221.9" y="1057.3" text-anchor="start" textLength="53.6" lengthAdjust="spacingAndGlyphs" xml:space="preserve">-20.0</text>
<text class="a" x="1836.8" y="1208.6" text-anchor="start" textLength="53.6" lengthAdjust="spacingAndGlyphs" xml:space="preserve">-25.0</text>
<text class="a" x="221.9" y="1214.2" text-anchor="start" textLength="53.6" lengthAdjust="spacingAndGlyphs" xml:space="preserve">-25.0</text>
<text class="a" x="1835.6" y="371.1" text-anchor="start" textLength="27.8" lengthAdjust="spacingAndGlyphs" xml:space="preserve">dB</text>
<text class="a" x="247.7" y="507.3" text-anchor="start" textLength="27.8" lengthAdjust="spacingAndGlyphs" xml:space="preserve">dB</text>
<text class="a" x="318.6" y="1273.7" text-anchor="start" textLength="25.9" lengthAdjust="spacingAndGlyphs" xml:space="preserve">20</text>
<text class="a" x="535.5" y="1281.6" text-anchor="start" textLength="25.9" lengthAdjust="spacingAndGlyphs" xml:space="preserve">50</text>
<text class="a" x="693.1" y="1287.6" text-anchor="start" textLength="38.8" lengthAdjust="spacingAndGlyphs" xml:space="preserve">100</text>
<text class="a" x="857.2" y="1293.5" text-anchor="start" textLength="38.8" lengthAdjust="spacingAndGlyphs" xml:space="preserve">200</text>
<text class="a" x="1074.1" y="1301.4" text-anchor="start" textLength="38.8" lengthAdjust="spacingAndGlyphs" xml:space="preserve">500</text>
<text class="a" x="1245.2" y="1307.4" text-anchor="start" textLength="24.8" lengthAdjust="spacingAndGlyphs" xml:space="preserve">1k</text>
<text class="a" x="1409.3" y="1313.4" text-anchor="start" textLength="24.8" lengthAdjust="spacingAndGlyphs" xml:space="preserve">2k</text>
<text class="a" x="1638.8" y="1000.0" text-anchor="start" textLength="44.0" lengthAdjust="spacingAndGlyphs" xml:space="preserve">0.00</text>
<text class="a" x="1587.5" y="1094.3" text-anchor="start" textLength="57.0" lengthAdjust="spacingAndGlyphs" xml:space="preserve">20.00</text>
<text class="a" x="1536.2" y="1188.6" text-anchor="start" textLength="57.0" lengthAdjust="spacingAndGlyphs" xml:space="preserve">40.00</text>
<text class="a" x="1484.9" y="1282.9" text-anchor="start" textLength="57.0" lengthAdjust="spacingAndGlyphs" xml:space="preserve">60.00</text>
<text class="a" x="1511.2" y="1235.0" text-anchor="start" textLength="31.1" lengthAdjust="spacingAndGlyphs" xml:space="preserve">ms</text>
<text class="s" x="973.3" y="41.8" text-anchor="start" textLength="100.8" lengthAdjust="spacingAndGlyphs" xml:space="preserve">Waterfall: 3</text>
<text class="s" x="1820.0" y="41.8" text-anchor="start" textLength="181.0" lengthAdjust="spacingAndGlyphs" xml:space="preserve">19.11.2020 11.48.17</text>
<text class="c" x="1947.0" y="85.6" text-anchor="start" textLength="53.0" lengthAdjust="spacingAndGlyphs" xml:space="preserve">CLIO</text>
<text class="s" x="672.4" y="1463.0" text-anchor="start" xml:space="preserve">CSD:   Unsmoothed   Spectra No. 60   Time Step 1.000ms   Rise Time 0.100ms</text>
<text class="s" x="90.2" y="1496.6" text-anchor="start" xml:space="preserve">File:</text>
</svg></body></html>
